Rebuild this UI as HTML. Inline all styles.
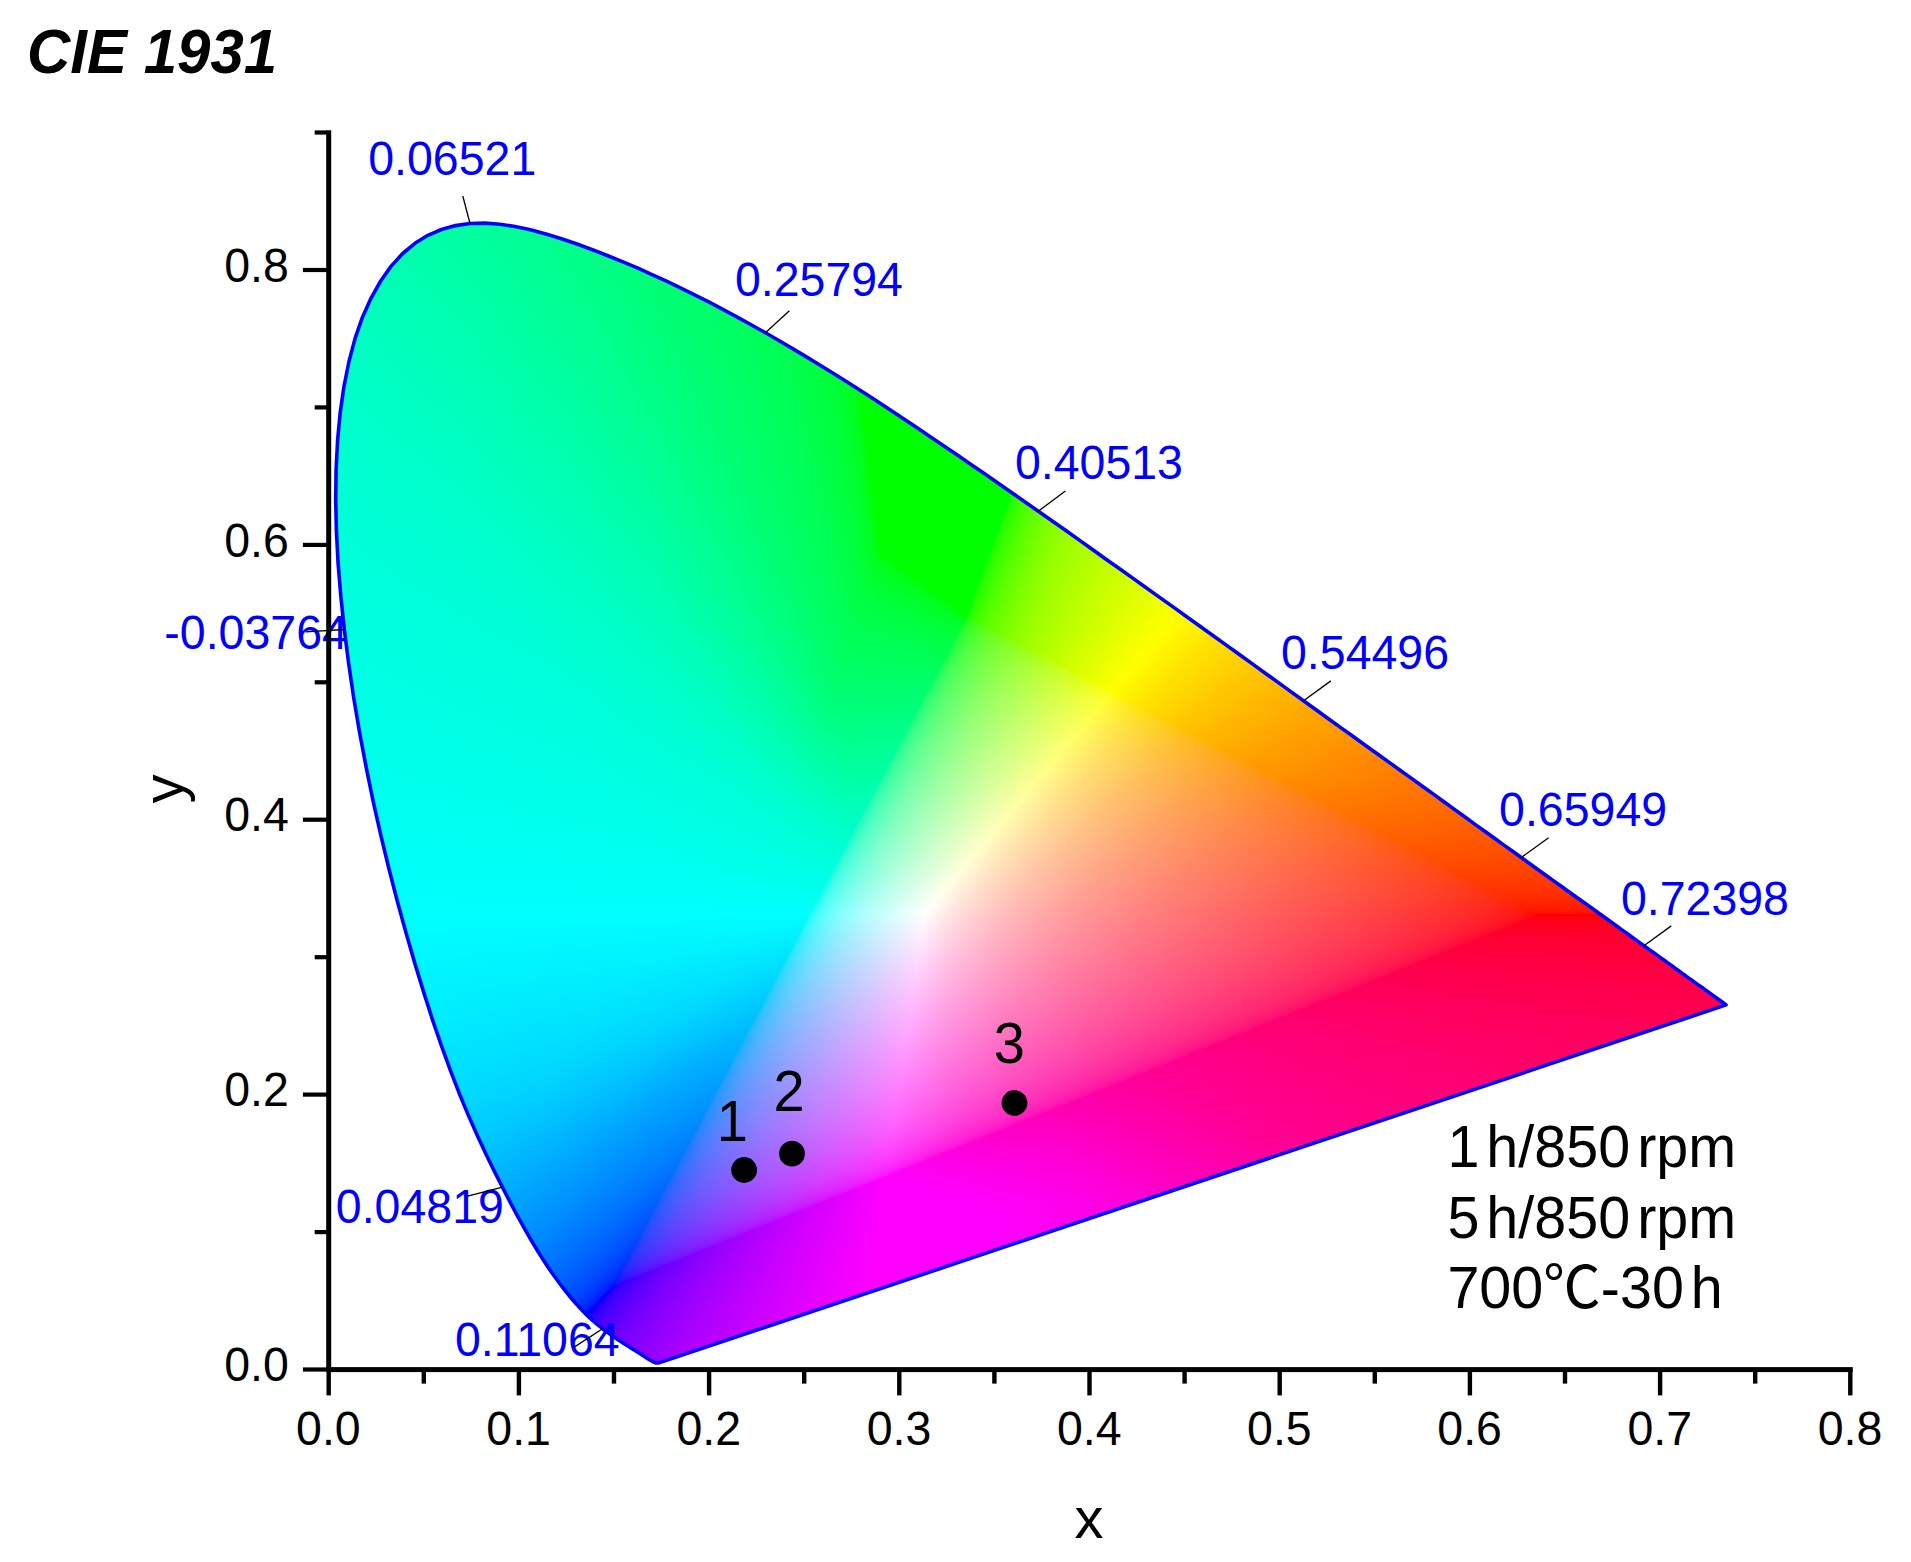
<!DOCTYPE html><html><head><meta charset="utf-8"><title>CIE 1931</title>
<style>html,body{margin:0;padding:0;background:#fff}body{width:1911px;height:1562px;position:relative;overflow:hidden;font-family:"Liberation Sans",sans-serif}
#g{position:absolute;left:0;top:0;width:1911px;height:1562px;clip-path:path("M659.8 1362.6L659.8 1362.6L659.8 1362.6L659.8 1362.6L659.7 1362.6L659.6 1362.6L659.6 1362.7L659.5 1362.7L659.4 1362.7L659.3 1362.7L659.3 1362.8L659.2 1362.8L659.1 1362.8L659.1 1362.8L659.0 1362.8L658.9 1362.8L658.8 1362.8L658.7 1362.8L658.6 1362.8L658.4 1362.9L658.3 1362.9L658.2 1362.9L658.1 1362.9L658.0 1362.9L657.9 1362.9L657.7 1362.9L657.6 1362.9L657.5 1362.9L657.3 1362.9L657.2 1362.9L657.0 1362.9L656.8 1362.9L656.6 1362.9L656.4 1362.9L656.2 1362.9L656.0 1362.9L655.8 1362.9L655.6 1362.8L655.3 1362.7L655.0 1362.6L654.7 1362.5L654.3 1362.3L653.9 1362.2L653.5 1362.0L653.1 1361.8L652.6 1361.5L652.1 1361.3L651.6 1361.0L651.1 1360.7L650.6 1360.4L649.9 1360.0L649.3 1359.6L648.6 1359.2L647.8 1358.7L647.0 1358.2L646.1 1357.7L645.3 1357.1L644.4 1356.5L643.4 1355.9L642.4 1355.2L641.4 1354.5L640.3 1353.8L639.1 1353.1L637.9 1352.3L636.5 1351.4L635.1 1350.5L633.6 1349.6L632.0 1348.6L630.2 1347.5L628.4 1346.3L626.6 1345.2L624.6 1344.0L622.6 1342.7L620.5 1341.3L618.2 1339.9L615.9 1338.3L613.4 1336.6L610.9 1334.8L608.2 1332.9L605.4 1330.8L602.6 1328.7L599.7 1326.4L596.6 1323.9L593.4 1321.2L590.0 1318.1L586.4 1314.7L582.6 1310.7L578.5 1306.4L574.1 1301.5L569.5 1296.0L564.7 1290.1L559.7 1283.5L554.4 1276.3L548.9 1268.5L543.2 1259.8L537.2 1250.2L530.9 1239.7L524.3 1228.2L517.3 1215.6L510.0 1201.9L502.4 1187.1L494.3 1171.1L485.8 1153.8L477.1 1135.1L468.3 1115.1L459.4 1093.7L450.5 1070.7L441.6 1046.2L432.7 1020.3L423.9 992.9L415.1 964.1L406.3 933.8L397.6 902.3L389.2 869.7L381.1 836.3L373.4 802.3L366.3 767.8L359.7 733.1L353.8 698.3L348.7 663.7L344.3 629.5L340.8 595.9L338.1 563.0L336.4 530.9L335.7 499.7L336.1 469.5L337.6 440.5L340.2 412.7L344.0 386.3L349.0 361.5L355.1 338.4L362.5 317.2L371.1 298.1L380.7 281.0L391.2 266.1L402.7 253.5L415.0 243.3L427.9 235.3L441.5 229.5L455.6 225.6L470.0 223.5L484.8 223.1L499.8 224.2L515.0 226.5L530.4 229.8L545.9 234.0L561.4 238.7L577.0 244.0L592.4 249.7L607.8 255.7L622.9 261.9L637.9 268.2L652.5 274.8L667.0 281.4L681.4 288.3L695.6 295.3L709.7 302.4L723.7 309.8L737.7 317.3L751.5 325.0L765.4 332.8L779.2 340.8L793.0 348.9L806.8 357.1L820.5 365.5L834.3 374.0L847.9 382.6L861.6 391.3L875.2 400.1L888.8 409.0L902.3 418.0L915.9 427.0L929.5 436.2L943.1 445.4L956.6 454.6L970.2 463.9L983.9 473.3L997.5 482.7L1011.1 492.2L1024.7 501.7L1038.3 511.2L1051.9 520.7L1065.5 530.3L1079.0 539.9L1092.5 549.5L1106.0 559.2L1119.6 568.8L1133.1 578.4L1146.5 588.0L1160.0 597.6L1173.4 607.1L1186.7 616.7L1200.0 626.2L1213.2 635.7L1226.3 645.1L1239.4 654.5L1252.4 663.9L1265.3 673.2L1278.1 682.4L1290.8 691.6L1303.5 700.7L1316.0 709.8L1328.4 718.7L1340.7 727.6L1352.9 736.3L1364.9 745.0L1376.8 753.5L1388.5 761.9L1400.1 770.2L1411.5 778.4L1422.7 786.5L1433.8 794.4L1444.6 802.2L1455.1 809.9L1465.4 817.3L1475.4 824.6L1485.1 831.5L1494.5 838.3L1503.6 844.9L1512.6 851.3L1521.3 857.5L1529.8 863.7L1538.1 869.7L1546.2 875.5L1554.0 881.1L1561.6 886.5L1568.8 891.7L1575.8 896.7L1582.5 901.5L1588.9 906.0L1595.1 910.5L1601.0 914.7L1606.6 918.8L1612.1 922.7L1617.3 926.5L1622.3 930.1L1627.0 933.5L1631.5 936.8L1635.9 940.0L1640.0 942.9L1643.9 945.8L1647.7 948.5L1651.3 951.1L1654.8 953.5L1658.1 955.9L1661.2 958.1L1664.3 960.3L1667.1 962.4L1669.9 964.4L1672.6 966.3L1675.1 968.2L1677.6 970.0L1680.0 971.7L1682.3 973.4L1684.6 975.0L1686.7 976.6L1688.8 978.1L1690.8 979.5L1692.7 980.9L1694.5 982.2L1696.2 983.4L1697.9 984.6L1699.5 985.7L1701.0 986.8L1702.5 987.8L1703.8 988.8L1705.1 989.7L1706.3 990.6L1707.5 991.4L1708.5 992.2L1709.6 992.9L1710.5 993.6L1711.4 994.3L1712.3 994.9L1713.1 995.5L1713.9 996.1L1714.7 996.6L1715.4 997.1L1716.0 997.6L1716.6 998.0L1717.2 998.4L1717.6 998.8L1718.1 999.1L1718.5 999.4L1718.9 999.7L1719.3 999.9L1719.6 1000.2L1720.0 1000.4L1720.3 1000.7L1720.7 1000.9L1721.0 1001.2L1721.3 1001.4L1721.5 1001.6L1721.8 1001.8L1722.0 1001.9L1722.3 1002.1L1722.6 1002.3L1722.8 1002.5L1723.1 1002.7L1723.4 1002.9L1723.6 1003.1L1723.9 1003.3L1724.1 1003.4L1724.4 1003.6L1724.6 1003.8L1724.8 1003.9L1725.0 1004.0L1725.1 1004.2L1725.3 1004.3L1725.4 1004.4L1725.5 1004.5L1725.6 1004.5L1725.7 1004.6L1725.8 1004.7L1725.9 1004.7L1725.9 1004.7L1726.0 1004.8L1726.0 1004.8L1726.0 1004.8L1726.1 1004.8L1726.1 1004.9Z")}
#g i{position:absolute;display:block;height:2px}
svg{position:absolute;left:0;top:0}
text{font-family:"Liberation Sans",sans-serif}
.a{font-size:46.5px}.b{font-size:46.5px;fill:#00f}.p{font-size:56px}.l{font-size:57.5px;word-spacing:-9px}.t{font-size:58px}
</style></head><body>
<div id="g">
<i style="top:222px;left:459px;width:46px;background:linear-gradient(90deg,#00ffa1 0,#00ff96 46px)"></i>
<i style="top:224px;left:449px;width:69px;background:linear-gradient(90deg,#00ffa3 0,#00ff93 69px)"></i>
<i style="top:226px;left:442px;width:85px;background:linear-gradient(90deg,#00ffa5 0,#00ff92 85px)"></i>
<i style="top:228px;left:436px;width:100px;background:linear-gradient(90deg,#00ffa6 0,#00ff90 100px)"></i>
<i style="top:230px;left:431px;width:112px;background:linear-gradient(90deg,#00ffa7 0,#00ff8e 112px)"></i>
<i style="top:232px;left:427px;width:123px;background:linear-gradient(90deg,#00ffa8 0,#00ff8d 123px)"></i>
<i style="top:234px;left:423px;width:134px;background:linear-gradient(90deg,#00ffa9 0,#00ff8e 124px,#00ff8b 134px)"></i>
<i style="top:236px;left:420px;width:143px;background:linear-gradient(90deg,#0fa 0,#00ff8e 128px,#00ff8a 143px)"></i>
<i style="top:238px;left:417px;width:152px;background:linear-gradient(90deg,#00ffab 0,#00ff8f 128px,#0f8 152px)"></i>
<i style="top:240px;left:414px;width:161px;background:linear-gradient(90deg,#00ffac 0,#00ff8e 136px,#00ff87 161px)"></i>
<i style="top:242px;left:411px;width:170px;background:linear-gradient(90deg,#00ffad 0,#00ff90 133px,#00ff86 170px)"></i>
<i style="top:244px;left:408px;width:178px;background:linear-gradient(90deg,#00ffad 0,#00ff96 113px,#00ff84 178px)"></i>
<i style="top:246px;left:406px;width:186px;background:linear-gradient(90deg,#00ffae 0,#00ff94 124px,#00ff83 186px)"></i>
<i style="top:248px;left:403px;width:194px;background:linear-gradient(90deg,#00ffaf 0,#00ff93 132px,#00ff82 194px)"></i>
<i style="top:250px;left:401px;width:201px;background:linear-gradient(90deg,#00ffaf 0,#00ff9b 103px,#00ff81 201px)"></i>
<i style="top:252px;left:399px;width:208px;background:linear-gradient(90deg,#00ffb0 0,#0f9 115px,#00ff7f 208px)"></i>
<i style="top:254px;left:397px;width:215px;background:linear-gradient(90deg,#00ffb1 0,#00ff97 126px,#00ff7e 215px)"></i>
<i style="top:256px;left:395px;width:222px;background:linear-gradient(90deg,#00ffb1 0,#0f9 121px,#00ff7d 222px)"></i>
<i style="top:258px;left:393px;width:229px;background:linear-gradient(90deg,#00ffb2 0,#00ff98 128px,#00ff7c 229px)"></i>
<i style="top:260px;left:392px;width:235px;background:linear-gradient(90deg,#00ffb2 0,#00ff9d 110px,#00ff7b 235px)"></i>
<i style="top:262px;left:390px;width:242px;background:linear-gradient(90deg,#00ffb3 0,#00ff9a 126px,#00ff79 242px)"></i>
<i style="top:264px;left:388px;width:248px;background:linear-gradient(90deg,#00ffb3 0,#00ff9e 112px,#00ff7a 244px,#00ff78 248px)"></i>
<i style="top:266px;left:387px;width:254px;background:linear-gradient(90deg,#00ffb4 0,#00ff9c 123px,#0f7 254px)"></i>
<i style="top:268px;left:385px;width:260px;background:linear-gradient(90deg,#00ffb5 0,#00ff9c 126px,#00ff76 260px)"></i>
<i style="top:270px;left:384px;width:266px;background:linear-gradient(90deg,#00ffb5 0,#00ff9c 128px,#00ff76 264px,#00ff75 266px)"></i>
<i style="top:272px;left:382px;width:272px;background:linear-gradient(90deg,#00ffb6 0,#0f9 144px,#00ff74 272px)"></i>
<i style="top:274px;left:381px;width:278px;background:linear-gradient(90deg,#00ffb6 0,#00ff9f 121px,#00ff7a 256px,#00ff73 278px)"></i>
<i style="top:276px;left:380px;width:283px;background:linear-gradient(90deg,#00ffb6 0,#00ffa3 106px,#00ff81 235px,#00ff72 283px)"></i>
<i style="top:278px;left:378px;width:290px;background:linear-gradient(90deg,#00ffb7 0,#00ffa1 118px,#00ff80 241px,#00ff71 290px)"></i>
<i style="top:280px;left:377px;width:295px;background:linear-gradient(90deg,#00ffb7 0,#00ffa2 116px,#00ff80 243px,#00ff70 295px)"></i>
<i style="top:282px;left:376px;width:300px;background:linear-gradient(90deg,#00ffb8 0,#00ffa2 118px,#00ff82 238px,#00ff6f 300px)"></i>
<i style="top:284px;left:375px;width:305px;background:linear-gradient(90deg,#00ffb8 0,#00ffa2 121px,#00ff82 240px,#00ff6e 305px)"></i>
<i style="top:286px;left:374px;width:310px;background:linear-gradient(90deg,#00ffb9 0,#00ff9f 136px,#00ff7b 265px,#00ff6d 310px)"></i>
<i style="top:288px;left:373px;width:315px;background:linear-gradient(90deg,#00ffb9 0,#00ffa3 121px,#00ff82 244px,#00ff6c 315px)"></i>
<i style="top:290px;left:371px;width:322px;background:linear-gradient(90deg,#00ffba 0,#00ffa1 133px,#00ff83 244px,#00ff6b 322px)"></i>
<i style="top:292px;left:370px;width:327px;background:linear-gradient(90deg,#00ffba 0,#00ffa5 118px,#00ff83 246px,#00ff6a 327px)"></i>
<i style="top:294px;left:369px;width:332px;background:linear-gradient(90deg,#00ffba 0,#00ffa8 106px,#00ff8b 221px,#00ff69 332px)"></i>
<i style="top:296px;left:368px;width:336px;background:linear-gradient(90deg,#0fb 0,#00ffa5 123px,#00ff84 247px,#00ff68 336px)"></i>
<i style="top:298px;left:367px;width:341px;background:linear-gradient(90deg,#0fb 0,#00ffa8 111px,#00ff87 239px,#00ff67 341px)"></i>
<i style="top:300px;left:366px;width:346px;background:linear-gradient(90deg,#00ffbc 0,#00ffa6 123px,#00ff84 251px,#0f6 346px)"></i>
<i style="top:302px;left:365px;width:351px;background:linear-gradient(90deg,#00ffbc 0,#00ffa9 111px,#00ff8c 226px,#00ff65 351px)"></i>
<i style="top:304px;left:365px;width:355px;background:linear-gradient(90deg,#00ffbc 0,#00ffa9 113px,#0f8 241px,#00ff64 355px)"></i>
<i style="top:306px;left:364px;width:360px;background:linear-gradient(90deg,#00ffbd 0,#00ffa6 129px,#00ff8a 236px,#00ff63 360px)"></i>
<i style="top:308px;left:363px;width:365px;background:linear-gradient(90deg,#00ffbd 0,#00ffa9 118px,#00ff89 242px,#00ff62 365px)"></i>
<i style="top:310px;left:362px;width:369px;background:linear-gradient(90deg,#00ffbe 0,#00ffa7 130px,#00ff87 250px,#00ff62 369px)"></i>
<i style="top:312px;left:361px;width:374px;background:linear-gradient(90deg,#00ffbe 0,#00ffa9 123px,#00ff8b 239px,#00ff61 374px)"></i>
<i style="top:314px;left:360px;width:379px;background:linear-gradient(90deg,#00ffbe 0,#00ffac 111px,#00ff8e 231px,#00ff60 379px)"></i>
<i style="top:316px;left:360px;width:382px;background:linear-gradient(90deg,#00ffbf 0,#00ffa9 127px,#00ff8b 242px,#00ff5f 382px)"></i>
<i style="top:318px;left:359px;width:387px;background:linear-gradient(90deg,#00ffbf 0,#0fa 124px,#00ff8f 231px,#00ff5e 387px)"></i>
<i style="top:320px;left:358px;width:392px;background:linear-gradient(90deg,#00ffbf 0,#00ffac 117px,#00ff8f 233px,#00ff5c 392px)"></i>
<i style="top:322px;left:357px;width:396px;background:linear-gradient(90deg,#00ffc0 0,#0fa 129px,#00ff8c 245px,#00ff5c 396px)"></i>
<i style="top:324px;left:357px;width:400px;background:linear-gradient(90deg,#00ffc0 0,#00ffac 121px,#00ff8f 236px,#00ff5a 400px)"></i>
<i style="top:326px;left:356px;width:404px;background:linear-gradient(90deg,#00ffc0 0,#00ffae 114px,#00ff8e 242px,#00ff59 404px)"></i>
<i style="top:328px;left:355px;width:409px;background:linear-gradient(90deg,#00ffc1 0,#00ffac 126px,#00ff90 237px,#00ff58 409px)"></i>
<i style="top:330px;left:355px;width:412px;background:linear-gradient(90deg,#00ffc1 0,#00ffac 128px,#00ff91 235px,#00ff57 412px)"></i>
<i style="top:332px;left:354px;width:417px;background:linear-gradient(90deg,#00ffc1 0,#00ffb1 106px,#00ff92 234px,#00ff56 417px)"></i>
<i style="top:334px;left:353px;width:421px;background:linear-gradient(90deg,#00ffc2 0,#00ffac 133px,#00ff8e 249px,#00ff57 416px,#00ff54 421px)"></i>
<i style="top:336px;left:353px;width:425px;background:linear-gradient(90deg,#00ffc2 0,#00ffae 125px,#00ff91 240px,#00ff56 419px,#00ff53 425px)"></i>
<i style="top:338px;left:352px;width:429px;background:linear-gradient(90deg,#00ffc3 0,#00ffae 127px,#00ff91 243px,#00ff56 420px,#00ff52 429px)"></i>
<i style="top:340px;left:351px;width:434px;background:linear-gradient(90deg,#00ffc3 0,#00ffaf 125px,#00ff91 245px,#00ff57 419px,#00ff50 434px)"></i>
<i style="top:342px;left:351px;width:437px;background:linear-gradient(90deg,#00ffc3 0,#00ffb2 111px,#0f9 218px,#00ff70 345px,#00ff56 422px,#00ff4f 437px)"></i>
<i style="top:344px;left:350px;width:441px;background:linear-gradient(90deg,#00ffc4 0,#00ffae 134px,#00ff93 241px,#00ff58 419px,#00ff4e 441px)"></i>
<i style="top:346px;left:350px;width:445px;background:linear-gradient(90deg,#00ffc4 0,#00ffb0 126px,#00ff92 246px,#00ff57 422px,#00ff4c 445px)"></i>
<i style="top:348px;left:349px;width:449px;background:linear-gradient(90deg,#00ffc4 0,#00ffb0 128px,#00ff92 248px,#0f5 428px,#00ff4a 449px)"></i>
<i style="top:350px;left:349px;width:453px;background:linear-gradient(90deg,#00ffc4 0,#00ffb4 109px,#00ff98 229px,#00ff59 419px,#00ff48 453px)"></i>
<i style="top:352px;left:348px;width:457px;background:linear-gradient(90deg,#00ffc5 0,#00ffb0 132px,#00ff93 248px,#00ff58 423px,#00ff47 457px)"></i>
<i style="top:354px;left:348px;width:460px;background:linear-gradient(90deg,#00ffc5 0,#00ffb3 119px,#00ff95 243px,#00ff57 426px,#00ff45 460px)"></i>
<i style="top:356px;left:347px;width:465px;background:linear-gradient(90deg,#00ffc5 0,#00ffb5 111px,#0f9 231px,#00ff56 430px,#00ff43 465px)"></i>
<i style="top:358px;left:347px;width:468px;background:linear-gradient(90deg,#00ffc6 0,#00ffb1 133px,#00ff93 253px,#00ff58 426px,#00ff43 465px,#00ff41 468px)"></i>
<i style="top:360px;left:346px;width:472px;background:linear-gradient(90deg,#00ffc6 0,#00ffb3 126px,#00ff98 238px,#00ff56 432px,#00ff40 471px,#00ff3f 472px)"></i>
<i style="top:362px;left:346px;width:475px;background:linear-gradient(90deg,#00ffc6 0,#00ffb5 117px,#00ff9b 229px,#00ff59 425px,#0f4 466px,#00ff3d 475px)"></i>
<i style="top:364px;left:345px;width:480px;background:linear-gradient(90deg,#00ffc7 0,#00ffb3 130px,#00ff98 241px,#00ff57 432px,#00ff40 473px,#00ff3a 480px)"></i>
<i style="top:366px;left:345px;width:483px;background:linear-gradient(90deg,#00ffc7 0,#00ffb4 127px,#00ff98 243px,#00ff57 432px,#00ff41 472px,#00ff38 483px)"></i>
<i style="top:368px;left:344px;width:487px;background:linear-gradient(90deg,#00ffc7 0,#00ffb7 113px,#00ffa0 216px,#00ff7d 326px,#00ff56 436px,#00ff40 475px,#00ff36 487px)"></i>
<i style="top:370px;left:344px;width:490px;background:linear-gradient(90deg,#00ffc8 0,#00ffb3 136px,#00ff9a 239px,#00ff6f 366px,#0f5 439px,#00ff40 475px,#0f3 490px)"></i>
<i style="top:372px;left:344px;width:494px;background:linear-gradient(90deg,#00ffc8 0,#00ffb5 127px,#00ff9e 226px,#0f7 345px,#0f5 439px,#00ff3f 477px,#00ff2f 494px)"></i>
<i style="top:374px;left:343px;width:498px;background:linear-gradient(90deg,#00ffc8 0,#00ffb7 119px,#00ff9e 229px,#00ff73 358px,#00ff56 439px,#00ff3f 478px,#00ff2c 498px)"></i>
<i style="top:376px;left:343px;width:501px;background:linear-gradient(90deg,#00ffc8 0,#00ffb7 121px,#00ff9b 241px,#00ff5a 430px,#00ff43 473px,#00ff2f 496px,#00ff28 501px)"></i>
<i style="top:378px;left:343px;width:504px;background:linear-gradient(90deg,#00ffc9 0,#00ffb5 133px,#0f9 249px,#00ff57 437px,#00ff42 475px,#00ff2c 499px,#00ff24 504px)"></i>
<i style="top:380px;left:342px;width:508px;background:linear-gradient(90deg,#00ffc9 0,#00ffb7 126px,#00ff9d 237px,#00ff78 347px,#00ff56 441px,#00ff42 476px,#00ff30 497px,#00ff20 508px)"></i>
<i style="top:382px;left:342px;width:511px;background:linear-gradient(90deg,#00ffc9 0,#00ffb8 122px,#00ff9d 238px,#00ff78 348px,#0f5 444px,#00ff40 479px,#00ff2e 499px,#00ff1c 510px,#00ff1a 511px)"></i>
<i style="top:384px;left:341px;width:516px;background:linear-gradient(90deg,#00ffca 0,#00ffb7 130px,#00ff9e 237px,#00ff79 348px,#00ff57 441px,#00ff42 478px,#00ff2d 501px,#00ff1d 511px,#0f1 515px,#00ff0c 516px)"></i>
<i style="top:386px;left:341px;width:519px;background:linear-gradient(90deg,#00ffca 0,#00ffb8 126px,#00ff9d 242px,#00ff74 362px,#0f5 446px,#00ff40 481px,#00ff2c 502px,#00ff1b 512px,#00ff0d 516px,#00ff04 517px,#0f0 518px,#0f0 519px)"></i>
<i style="top:388px;left:341px;width:522px;background:linear-gradient(90deg,#00ffca 0,#00ffb8 128px,#00ff9e 240px,#00ff75 360px,#0f5 446px,#00ff3f 483px,#00ff2a 504px,#00ff19 513px,#00ff0f 516px,#0f0 518px,#0f0 522px)"></i>
<i style="top:390px;left:340px;width:526px;background:linear-gradient(90deg,#00ffca 0,#00ffba 120px,#00ffa1 231px,#00ff7c 343px,#00ff56 446px,#00ff40 483px,#00ff29 506px,#00ff17 515px,#00ff10 517px,#00ff0a 518px,#0f0 519px,#0f0 526px)"></i>
<i style="top:392px;left:340px;width:529px;background:linear-gradient(90deg,#00ffcb 0,#00ffb9 127px,#00ffa0 236px,#00ff7b 347px,#00ff57 444px,#00ff43 479px,#00ff31 500px,#00ff1f 512px,#0f1 517px,#00ff0c 518px,#0f0 519px,#0f0 529px)"></i>
<i style="top:394px;left:340px;width:532px;background:linear-gradient(90deg,#00ffcb 0,#00ffb9 129px,#00ff9e 245px,#00ff7b 348px,#00ff56 447px,#00ff41 482px,#00ff2f 502px,#00ff1d 513px,#00ff12 517px,#00ff0d 518px,#00ff04 519px,#0f0 520px,#0f0 532px)"></i>
<i style="top:396px;left:340px;width:535px;background:linear-gradient(90deg,#00ffcb 0,#0fb 119px,#00ffa3 228px,#00ff84 325px,#00ff56 447px,#00ff41 483px,#00ff2a 506px,#00ff19 515px,#00ff0f 518px,#0f0 520px,#0f0 535px)"></i>
<i style="top:398px;left:339px;width:539px;background:linear-gradient(90deg,#00ffcb 0,#00ffbd 111px,#00ffa3 231px,#00ff7e 343px,#0f5 451px,#00ff3f 487px,#00ff2c 506px,#00ff1c 515px,#00ff10 519px,#00ff0a 520px,#0f0 521px,#0f0 539px)"></i>
<i style="top:400px;left:339px;width:542px;background:linear-gradient(90deg,#0fc 0,#00ffba 130px,#00ff9f 246px,#00ff7f 341px,#00ff56 449px,#00ff40 486px,#00ff2b 507px,#00ff1b 516px,#00ff0c 520px,#0f0 521px,#0f0 542px)"></i>
<i style="top:402px;left:339px;width:545px;background:linear-gradient(90deg,#0fc 0,#0fb 126px,#00ffa3 233px,#00ff80 339px,#00ff57 448px,#00ff41 485px,#00ff2e 505px,#00ff1e 515px,#00ff12 519px,#00ff0d 520px,#00ff04 521px,#0f0 522px,#0f0 545px)"></i>
<i style="top:404px;left:338px;width:549px;background:linear-gradient(90deg,#0fc 0,#00ffbe 111px,#00ffa7 221px,#00ff86 325px,#00ff56 451px,#00ff41 486px,#00ff2f 505px,#00ff20 515px,#00ff13 520px,#00ff08 522px,#0f0 523px,#0f0 549px)"></i>
<i style="top:406px;left:338px;width:552px;background:linear-gradient(90deg,#00ffcd 0,#00ffb9 141px,#00ffa1 244px,#00ff7f 345px,#00ff57 450px,#00ff42 485px,#00ff30 505px,#00ff1d 517px,#00ff10 521px,#00ff0a 522px,#0f0 523px,#0f0 552px)"></i>
<i style="top:408px;left:338px;width:555px;background:linear-gradient(90deg,#00ffcd 0,#00ffbc 127px,#00ffa4 235px,#00ff85 330px,#00ff56 453px,#00ff40 488px,#00ff2e 507px,#00ff1d 517px,#0f1 521px,#00ff0c 522px,#0f0 523px,#0f0 555px)"></i>
<i style="top:410px;left:338px;width:559px;background:linear-gradient(90deg,#00ffcd 0,#00ffbc 128px,#00ffa3 240px,#00ff80 344px,#00ff57 451px,#00ff42 486px,#00ff30 505px,#0f2 515px,#00ff16 520px,#00ff0e 522px,#00ff04 523px,#0f0 524px,#0f0 559px)"></i>
<i style="top:412px;left:338px;width:562px;background:linear-gradient(90deg,#00ffcd 0,#00ffbe 119px,#00ffa7 226px,#00ff8c 313px,#0f5 456px,#00ff3e 492px,#00ff29 511px,#00ff17 520px,#00ff0f 522px,#0f0 524px,#0f0 562px)"></i>
<i style="top:414px;left:337px;width:566px;background:linear-gradient(90deg,#00ffce 0,#00ffbd 127px,#00ffa5 236px,#00ff86 331px,#0f5 457px,#00ff3f 492px,#00ff2e 509px,#00ff1d 519px,#00ff10 523px,#00ff0a 524px,#0f0 525px,#0f0 566px)"></i>
<i style="top:416px;left:337px;width:569px;background:linear-gradient(90deg,#00ffce 0,#00ffbd 129px,#00ffa5 238px,#00ff82 343px,#00ff56 456px,#00ff40 491px,#00ff2d 510px,#00ff1d 519px,#0f1 523px,#00ff0c 524px,#0f0 525px,#0f0 569px)"></i>
<i style="top:418px;left:337px;width:572px;background:linear-gradient(90deg,#00ffce 0,#00ffbf 119px,#00ffa7 232px,#0f8 328px,#00ff56 456px,#00ff43 487px,#00ff30 508px,#00ff1e 519px,#00ff12 523px,#00ff0e 524px,#00ff04 525px,#0f0 526px,#0f0 572px)"></i>
<i style="top:420px;left:337px;width:575px;background:linear-gradient(90deg,#00ffce 0,#00ffbf 121px,#00ffa6 237px,#00ff87 332px,#00ff56 457px,#00ff3f 493px,#00ff2f 509px,#00ff1f 519px,#00ff13 523px,#00ff08 525px,#0f0 526px,#0f0 575px)"></i>
<i style="top:422px;left:336px;width:579px;background:linear-gradient(90deg,#00ffcf 0,#00ffbd 136px,#00ffa6 239px,#00ff87 334px,#0f5 460px,#00ff40 493px,#00ff2d 512px,#00ff1b 522px,#00ff10 525px,#00ff0a 526px,#0f0 527px,#0f0 579px)"></i>
<i style="top:424px;left:336px;width:582px;background:linear-gradient(90deg,#00ffcf 0,#00ffbf 126px,#00ffa8 233px,#00ff89 330px,#00ff57 457px,#00ff41 492px,#00ff2c 513px,#00ff1b 522px,#00ff0c 526px,#0f0 527px,#0f0 582px)"></i>
<i style="top:426px;left:336px;width:585px;background:linear-gradient(90deg,#00ffcf 0,#00ffbf 128px,#0fa 227px,#00ff8c 323px,#00ff56 459px,#00ff40 494px,#00ff2f 511px,#00ff1e 521px,#00ff13 525px,#00ff0e 526px,#00ff04 527px,#0f0 528px,#0f0 585px)"></i>
<i style="top:428px;left:336px;width:588px;background:linear-gradient(90deg,#00ffcf 0,#00ffc2 111px,#00ffad 217px,#00ff90 313px,#00ff57 458px,#00ff41 493px,#00ff2e 512px,#00ff1d 522px,#00ff0f 526px,#0f0 528px,#0f0 588px)"></i>
<i style="top:430px;left:336px;width:591px;background:linear-gradient(90deg,#00ffd0 0,#00ffbe 137px,#00ffa5 249px,#00ff84 346px,#0f5 462px,#00ff42 492px,#00ff2d 513px,#00ff1d 522px,#00ff15 525px,#00ff0a 527px,#0f0 528px,#0f0 591px)"></i>
<i style="top:432px;left:336px;width:594px;background:linear-gradient(90deg,#00ffd0 0,#00ffbf 133px,#0fa 232px,#00ff8b 329px,#0f5 463px,#00ff3e 497px,#00ff2f 512px,#00ff1e 522px,#00ff12 526px,#00ff0c 527px,#0f0 528px,#0f0 594px)"></i>
<i style="top:434px;left:335px;width:597px;background:linear-gradient(90deg,#00ffd0 0,#00ffc2 118px,#00ffab 230px,#00ff90 317px,#00ff58 458px,#0f4 491px,#0f3 510px,#00ff21 522px,#00ff13 527px,#00ff0e 528px,#00ff04 529px,#0f0 530px,#0f0 597px)"></i>
<i style="top:436px;left:335px;width:600px;background:linear-gradient(90deg,#00ffd0 0,#00ffc2 120px,#0fa 236px,#00ff8b 332px,#00ff57 461px,#00ff40 497px,#00ff2a 517px,#00ff1a 525px,#00ff0f 528px,#0f0 530px,#0f0 600px)"></i>
<i style="top:438px;left:335px;width:603px;background:linear-gradient(90deg,#00ffd1 0,#00ffc0 134px,#00ffab 233px,#00ff8e 325px,#00ff56 463px,#00ff41 496px,#00ff2f 514px,#00ff20 523px,#0f1 528px,#0f0 530px,#0f0 603px)"></i>
<i style="top:440px;left:335px;width:606px;background:linear-gradient(90deg,#00ffd1 0,#00ffc0 136px,#00ffab 235px,#00ff8c 331px,#00ff58 460px,#00ff42 495px,#00ff2e 515px,#00ff1c 525px,#00ff12 528px,#00ff0c 529px,#0f0 530px,#0f0 606px)"></i>
<i style="top:442px;left:335px;width:609px;background:linear-gradient(90deg,#00ffd1 0,#00ffc2 126px,#00ffad 228px,#00ff92 316px,#00ff57 463px,#00ff40 498px,#00ff2a 518px,#00ff1a 526px,#00ff0e 529px,#00ff04 530px,#0f0 531px,#0f0 609px)"></i>
<i style="top:444px;left:335px;width:612px;background:linear-gradient(90deg,#00ffd1 0,#00ffc2 128px,#00ffac 234px,#00ff90 323px,#0f5 467px,#00ff40 498px,#00ff30 514px,#00ff1f 524px,#00ff14 528px,#00ff08 530px,#0f0 531px,#0f0 612px)"></i>
<i style="top:446px;left:335px;width:615px;background:linear-gradient(90deg,#00ffd1 0,#00ffc5 111px,#00ffad 232px,#00ff8f 327px,#00ff57 464px,#00ff42 496px,#00ff2e 516px,#00ff1b 526px,#0f1 529px,#0f0 531px,#0f0 615px)"></i>
<i style="top:448px;left:334px;width:619px;background:linear-gradient(90deg,#00ffd2 0,#00ffc3 127px,#00ffaf 226px,#00ff93 318px,#00ff59 461px,#0f4 495px,#00ff31 515px,#00ff21 525px,#00ff12 530px,#00ff0c 531px,#0f0 532px,#0f0 619px)"></i>
<i style="top:450px;left:334px;width:622px;background:linear-gradient(90deg,#00ffd2 0,#00ffc3 129px,#00ffae 232px,#00ff93 319px,#00ff58 464px,#00ff41 499px,#00ff30 516px,#00ff1d 527px,#00ff0e 531px,#00ff04 532px,#0f0 533px,#0f0 622px)"></i>
<i style="top:452px;left:334px;width:625px;background:linear-gradient(90deg,#00ffd2 0,#00ffc6 111px,#00ffb2 217px,#00ff97 309px,#00ff59 462px,#00ff46 493px,#0f3 514px,#00ff20 526px,#00ff14 530px,#00ff08 532px,#0f0 533px,#0f0 625px)"></i>
<i style="top:454px;left:334px;width:628px;background:linear-gradient(90deg,#00ffd2 0,#00ffc5 120px,#00ffb0 227px,#00ff93 321px,#00ff56 469px,#00ff40 501px,#00ff2e 518px,#00ff1e 527px,#0f1 531px,#00ff0b 532px,#0f0 533px,#0f0 628px)"></i>
<i style="top:456px;left:334px;width:631px;background:linear-gradient(90deg,#00ffd3 0,#00ffc3 135px,#00ffac 244px,#00ff8d 338px,#00ff58 465px,#00ff43 498px,#00ff30 517px,#00ff1f 527px,#00ff12 531px,#00ff0c 532px,#0f0 533px,#0f0 631px)"></i>
<i style="top:458px;left:334px;width:634px;background:linear-gradient(90deg,#00ffd3 0,#00ffc3 137px,#00ffab 249px,#00ff8c 342px,#00ff56 470px,#00ff40 502px,#00ff2c 520px,#00ff1a 529px,#00ff0e 532px,#00ff04 533px,#0f0 534px,#0f0 634px)"></i>
<i style="top:460px;left:334px;width:637px;background:linear-gradient(90deg,#00ffd3 0,#00ffc6 119px,#00ffb1 228px,#00ff94 322px,#00ff57 468px,#00ff42 500px,#00ff32 516px,#00ff20 527px,#00ff14 531px,#00ff10 532px,#0f0 534px,#0f0 637px)"></i>
<i style="top:462px;left:334px;width:640px;background:linear-gradient(90deg,#00ffd3 0,#00ffc5 128px,#00ffb0 233px,#00ff98 312px,#00ff59 465px,#0f4 498px,#00ff30 518px,#00ff20 527px,#00ff15 531px,#00ff0b 533px,#0f0 534px,#0f0 640px)"></i>
<i style="top:464px;left:334px;width:643px;background:linear-gradient(90deg,#00ffd3 0,#00ffc9 103px,#00ffb6 210px,#00ff9c 302px,#0f7 395px,#0f5 473px,#00ff40 503px,#00ff2c 521px,#00ff1c 529px,#00ff0d 533px,#0f0 534px,#0f0 643px)"></i>
<i style="top:466px;left:334px;width:645px;background:linear-gradient(90deg,#00ffd4 0,#00ffc6 126px,#00ffb1 232px,#00ff96 320px,#00ff57 470px,#00ff42 501px,#00ff32 517px,#0f2 527px,#00ff13 532px,#00ff0e 533px,#00ff04 534px,#0f0 535px,#0f0 645px)"></i>
<i style="top:468px;left:334px;width:648px;background:linear-gradient(90deg,#00ffd4 0,#00ffc6 128px,#00ffb1 234px,#0f9 313px,#00ff58 469px,#00ff43 500px,#00ff30 519px,#00ff1e 529px,#00ff10 533px,#0f0 535px,#0f0 648px)"></i>
<i style="top:470px;left:334px;width:651px;background:linear-gradient(90deg,#00ffd4 0,#00ffc6 130px,#00ffb1 236px,#00ff96 323px,#0f5 475px,#00ff40 504px,#00ff2c 522px,#00ff1c 530px,#0f1 533px,#00ff0b 534px,#0f0 535px,#0f0 651px)"></i>
<i style="top:472px;left:333px;width:655px;background:linear-gradient(90deg,#00ffd4 0,#00ffc8 119px,#00ffb5 222px,#00ff9a 314px,#00ff5b 465px,#00ff45 500px,#00ff32 519px,#00ff21 529px,#00ff16 533px,#00ff0d 535px,#0f0 536px,#0f0 655px)"></i>
<i style="top:474px;left:333px;width:658px;background:linear-gradient(90deg,#00ffd5 0,#00ffc6 135px,#00ffaf 247px,#00ff96 326px,#00ff59 469px,#00ff42 504px,#00ff2d 523px,#00ff1d 531px,#00ff0e 535px,#00ff04 536px,#0f0 537px,#0f0 658px)"></i>
<i style="top:476px;left:333px;width:661px;background:linear-gradient(90deg,#00ffd5 0,#00ffc6 137px,#00ffaf 249px,#00ff92 338px,#00ff57 474px,#00ff42 504px,#00ff30 521px,#00ff20 530px,#00ff15 534px,#00ff08 536px,#0f0 537px,#0f0 661px)"></i>
<i style="top:478px;left:333px;width:664px;background:linear-gradient(90deg,#00ffd5 0,#00ffca 111px,#00ffb5 227px,#00ff9a 318px,#00ff58 472px,#00ff43 503px,#00ff32 520px,#00ff1f 531px,#0f1 535px,#00ff0b 536px,#0f0 537px,#0f0 664px)"></i>
<i style="top:480px;left:333px;width:667px;background:linear-gradient(90deg,#00ffd5 0,#00ffc8 128px,#00ffb3 237px,#00ff9b 316px,#00ff76 405px,#00ff56 476px,#00ff41 506px,#00ff2e 523px,#00ff1d 532px,#00ff12 535px,#00ff0d 536px,#0f0 537px,#0f0 667px)"></i>
<i style="top:482px;left:333px;width:670px;background:linear-gradient(90deg,#00ffd5 0,#00ffc9 123px,#00ffb6 226px,#00ff9b 318px,#00ff59 472px,#00ff40 508px,#00ff2d 524px,#00ff1b 533px,#00ff14 535px,#00ff0e 536px,#00ff04 537px,#0f0 538px,#0f0 670px)"></i>
<i style="top:484px;left:333px;width:672px;background:linear-gradient(90deg,#00ffd6 0,#00ffc8 132px,#00ffb2 244px,#00ff96 332px,#00ff57 476px,#00ff41 507px,#00ff2f 523px,#00ff1e 532px,#00ff10 536px,#0f0 538px,#0f0 672px)"></i>
<i style="top:486px;left:333px;width:675px;background:linear-gradient(90deg,#00ffd6 0,#00ffc9 127px,#00ffb6 229px,#00ff9c 317px,#0f6 445px,#00ff51 486px,#00ff3d 511px,#00ff2e 524px,#00ff1c 533px,#0f1 536px,#00ff0b 537px,#0f0 538px,#0f0 675px)"></i>
<i style="top:488px;left:333px;width:678px;background:linear-gradient(90deg,#00ffd6 0,#00ffc8 136px,#00ffb4 239px,#0f9 327px,#00ff56 479px,#00ff3e 511px,#00ff2a 527px,#00ff1a 534px,#00ff13 536px,#00ff0d 537px,#0f0 538px,#0f0 678px)"></i>
<i style="top:490px;left:333px;width:681px;background:linear-gradient(90deg,#00ffd6 0,#00ffca 125px,#00ffb5 237px,#00ff9a 325px,#00ff5e 464px,#00ff48 500px,#00ff32 522px,#0f2 531px,#00ff18 535px,#00ff0f 537px,#00ff04 538px,#0f0 539px,#0f0 679px,#1f0 680px,#18ff00 681px)"></i>
<i style="top:492px;left:333px;width:684px;background:linear-gradient(90deg,#00ffd6 0,#00ffcb 120px,#00ffb8 226px,#00ff9f 313px,#00ff7a 401px,#00ff57 478px,#00ff42 507px,#00ff31 523px,#00ff21 532px,#00ff15 536px,#00ff08 538px,#0f0 539px,#0f0 678px,#0eff00 679px,#1cff00 681px,#29ff00 684px)"></i>
<i style="top:494px;left:333px;width:687px;background:linear-gradient(90deg,#00ffd7 0,#00ffc9 136px,#00ffb4 244px,#0f9 330px,#00ff5c 469px,#00ff47 502px,#00ff34 521px,#00ff24 531px,#00ff16 536px,#00ff0b 538px,#0f0 539px,#0f0 677px,#15ff00 679px,#28ff00 683px,#34ff00 687px)"></i>
<i style="top:496px;left:333px;width:690px;background:linear-gradient(90deg,#00ffd7 0,#00ffca 131px,#00ffb7 234px,#00ff9e 318px,#00ff7c 399px,#00ff56 481px,#00ff41 509px,#00ff2f 525px,#00ff1d 534px,#00ff13 537px,#00ff0d 538px,#0f0 539px,#0f0 677px,#12ff00 678px,#23ff00 681px,#3cff00 689px,#3eff00 690px)"></i>
<i style="top:498px;left:333px;width:693px;background:linear-gradient(90deg,#00ffd7 0,#00ffcb 126px,#00ffb7 235px,#00ff9e 319px,#00ff7c 400px,#00ff57 479px,#0f4 506px,#00ff35 521px,#00ff23 532px,#00ff14 537px,#00ff0f 538px,#00ff04 539px,#0f0 540px,#0f0 676px,#10ff00 677px,#1dff00 679px,#30ff00 684px,#47ff00 693px)"></i>
<i style="top:500px;left:333px;width:695px;background:linear-gradient(90deg,#00ffd7 0,#00ffcb 129px,#00ffb6 241px,#00ff9b 329px,#00ff5a 475px,#00ff43 508px,#00ff30 525px,#00ff1c 535px,#00ff10 538px,#0f0 540px,#0f0 675px,#16ff00 677px,#25ff00 680px,#3dff00 688px,#4dff00 695px)"></i>
<i style="top:502px;left:333px;width:698px;background:linear-gradient(90deg,#00ffd7 0,#0fc 123px,#00ffb7 239px,#00ff9e 322px,#00ff78 410px,#0f5 484px,#00ff41 510px,#00ff2f 526px,#00ff1d 535px,#00ff12 538px,#00ff0b 539px,#0f0 540px,#0f0 674px,#07ff00 675px,#14ff00 676px,#24ff00 679px,#3fff00 688px,#5f0 698px)"></i>
<i style="top:504px;left:333px;width:701px;background:linear-gradient(90deg,#00ffd8 0,#00ffcb 133px,#00ffb9 232px,#00ff9f 321px,#00ff7e 398px,#00ff57 481px,#00ff41 511px,#00ff2c 528px,#00ff1b 536px,#00ff0d 539px,#0f0 540px,#0f0 674px,#1f0 675px,#1eff00 677px,#3f0 683px,#4eff00 694px,#5dff00 701px)"></i>
<i style="top:506px;left:333px;width:704px;background:linear-gradient(90deg,#00ffd8 0,#00ffcb 135px,#00ffb9 234px,#00ff9f 322px,#00ff7f 397px,#00ff54 487px,#00ff3e 514px,#00ff2e 527px,#00ff1e 535px,#00ff0f 539px,#00ff04 540px,#0f0 541px,#0f0 673px,#0eff00 674px,#1dff00 676px,#32ff00 682px,#50ff00 694px,#64ff00 704px)"></i>
<i style="top:508px;left:333px;width:707px;background:linear-gradient(90deg,#00ffd8 0,#00ffcb 137px,#00ffb9 235px,#00ff9f 323px,#00ff7f 398px,#0f5 485px,#00ff40 513px,#00ff2d 528px,#00ff1f 535px,#00ff10 539px,#0f0 541px,#0f0 672px,#15ff00 674px,#28ff00 678px,#3fff00 686px,#69ff00 706px,#6aff00 707px)"></i>
<i style="top:510px;left:333px;width:710px;background:linear-gradient(90deg,#00ffd8 0,#00ffcd 125px,#00ffb9 237px,#00ffa2 316px,#00ff82 393px,#00ff56 484px,#00ff41 512px,#00ff2f 527px,#00ff1d 536px,#00ff12 539px,#00ff0b 540px,#0f0 541px,#0f0 672px,#13ff00 673px,#1fff00 675px,#34ff00 681px,#5f0 695px,#71ff00 710px)"></i>
<i style="top:512px;left:333px;width:713px;background:linear-gradient(90deg,#00ffd8 0,#00ffcf 111px,#00ffbd 221px,#00ffa5 309px,#00ff85 387px,#00ff56 485px,#00ff42 511px,#00ff30 527px,#00ff1e 536px,#00ff13 539px,#00ff0d 540px,#0f0 541px,#0f0 671px,#10ff00 672px,#1eff00 674px,#3f0 680px,#54ff00 694px,#7f0 713px)"></i>
<i style="top:514px;left:333px;width:715px;background:linear-gradient(90deg,#00ffd8 0,#00ffce 122px,#00ffbc 228px,#00ffa6 307px,#00ff89 380px,#00ff56 485px,#00ff41 513px,#00ff2d 529px,#00ff1c 537px,#00ff0f 540px,#00ff04 541px,#0f0 542px,#0f0 670px,#0dff00 671px,#1cff00 673px,#2cff00 677px,#4f0 686px,#67ff00 703px,#7bff00 715px)"></i>
<i style="top:516px;left:333px;width:718px;background:linear-gradient(90deg,#00ffd9 0,#0fc 139px,#0fb 234px,#00ffa2 320px,#00ff80 400px,#00ff56 486px,#00ff40 514px,#00ff2c 530px,#00ff1c 537px,#0f1 540px,#0f0 542px,#0f0 669px,#08ff00 670px,#14ff00 671px,#20ff00 673px,#3aff00 681px,#5fff00 698px,#80ff00 718px)"></i>
<i style="top:518px;left:334px;width:720px;background:linear-gradient(90deg,#00ffd9 0,#00ffcd 133px,#0fb 235px,#00ffa1 323px,#00ff81 398px,#00ff52 492px,#00ff3c 517px,#00ff29 531px,#00ff1a 537px,#00ff12 539px,#00ff0b 540px,#0f0 541px,#0f0 668px,#12ff00 669px,#1fff00 671px,#31ff00 676px,#52ff00 690px,#74ff00 708px,#86ff00 720px)"></i>
<i style="top:520px;left:334px;width:723px;background:linear-gradient(90deg,#00ffd9 0,#00ffce 128px,#0fb 237px,#00ffa4 316px,#00ff85 391px,#00ff53 491px,#00ff3c 518px,#00ff27 532px,#00ff18 538px,#00ff0d 540px,#0f0 541px,#0f0 667px,#0fff00 668px,#1dff00 670px,#2dff00 674px,#50ff00 688px,#75ff00 708px,#8aff00 723px)"></i>
<i style="top:522px;left:334px;width:726px;background:linear-gradient(90deg,#00ffd9 0,#00ffce 130px,#0fb 238px,#00ffa3 321px,#00ff82 398px,#00ff54 490px,#00ff3e 516px,#00ff2c 530px,#00ff1c 537px,#00ff0f 540px,#00ff04 541px,#0f0 542px,#0f0 666px,#16ff00 668px,#29ff00 672px,#46ff00 683px,#6eff00 703px,#8eff00 725px,#8fff00 726px)"></i>
<i style="top:524px;left:334px;width:729px;background:linear-gradient(90deg,#00ffd9 0,#00ffcf 124px,#00ffbc 236px,#00ffa4 319px,#00ff82 399px,#00ff54 490px,#00ff3e 517px,#00ff2a 531px,#00ff1d 537px,#0f1 540px,#0f0 542px,#0f0 665px,#03ff00 666px,#13ff00 667px,#20ff00 669px,#37ff00 676px,#5dff00 693px,#80ff00 714px,#93ff00 729px)"></i>
<i style="top:526px;left:334px;width:731px;background:linear-gradient(90deg,#00ffd9 0,#00ffd1 110px,#00ffc0 219px,#0fa 303px,#00ff8a 383px,#00ff54 491px,#00ff3e 517px,#00ff2b 531px,#00ff1d 537px,#00ff12 540px,#00ff0b 541px,#0f0 542px,#0f0 665px,#1f0 666px,#1eff00 668px,#31ff00 673px,#52ff00 687px,#75ff00 706px,#92ff00 727px,#96ff00 731px)"></i>
<i style="top:528px;left:334px;width:734px;background:linear-gradient(90deg,#00ffda 0,#00ffcd 145px,#0fb 244px,#00ffa3 325px,#00ff7f 407px,#00ff57 486px,#00ff45 510px,#00ff32 527px,#00ff21 536px,#00ff13 540px,#00ff0d 541px,#0f0 542px,#0f0 664px,#17ff00 666px,#2aff00 670px,#49ff00 682px,#6eff00 701px,#8dff00 722px,#9aff00 734px)"></i>
<i style="top:530px;left:334px;width:737px;background:linear-gradient(90deg,#00ffda 0,#00ffcf 132px,#00ffbd 237px,#00ffa4 323px,#00ff86 394px,#00ff54 492px,#00ff3d 519px,#00ff28 533px,#00ff19 539px,#00ff0f 541px,#00ff04 542px,#0f0 543px,#0f0 663px,#15ff00 665px,#25ff00 668px,#3fff00 677px,#61ff00 693px,#83ff00 714px,#9bff00 734px,#9dff00 737px)"></i>
<i style="top:532px;left:334px;width:740px;background:linear-gradient(90deg,#00ffda 0,#00ffd0 126px,#00ffbd 239px,#00ffa5 322px,#00ff85 397px,#0f5 491px,#00ff3f 517px,#00ff2d 531px,#00ff1a 539px,#0f1 541px,#0f0 543px,#0f0 663px,#12ff00 664px,#1fff00 666px,#2eff00 670px,#4cff00 682px,#72ff00 702px,#91ff00 724px,#a0ff00 740px)"></i>
<i style="top:534px;left:334px;width:743px;background:linear-gradient(90deg,#00ffda 0,#00ffcf 136px,#00ffbd 241px,#00ffa3 329px,#00ff83 402px,#00ff56 490px,#00ff40 517px,#00ff2d 531px,#00ff1b 539px,#00ff12 541px,#00ff0b 542px,#0f0 543px,#0f0 662px,#0fff00 663px,#1eff00 665px,#31ff00 670px,#56ff00 686px,#7bff00 707px,#96ff00 728px,#a3ff00 743px)"></i>
<i style="top:536px;left:334px;width:745px;background:linear-gradient(90deg,#00ffda 0,#00ffd1 122px,#00ffc1 224px,#00ffab 307px,#00ff8f 378px,#0f5 492px,#00ff3f 518px,#00ff2c 532px,#00ff1f 538px,#00ff14 541px,#00ff0e 542px,#0f0 543px,#0f0 661px,#16ff00 663px,#26ff00 666px,#3bff00 673px,#65ff00 693px,#8aff00 717px,#9cff00 734px,#a5ff00 745px)"></i>
<i style="top:538px;left:334px;width:748px;background:linear-gradient(90deg,#00ffda 0,#00ffd2 116px,#00ffc1 226px,#00ffab 309px,#00ff8d 383px,#00ff56 491px,#00ff41 516px,#00ff30 530px,#0f2 537px,#00ff15 541px,#00ff0f 542px,#00ff04 543px,#0f0 544px,#0f0 660px,#04ff00 661px,#14ff00 662px,#25ff00 665px,#3dff00 673px,#6f0 693px,#87ff00 714px,#9bff00 731px,#a8ff00 748px)"></i>
<i style="top:540px;left:334px;width:751px;background:linear-gradient(90deg,#00ffdb 0,#00ffd1 127px,#00ffc0 233px,#00ffa9 316px,#00ff8c 386px,#00ff56 491px,#00ff40 518px,#00ff2d 532px,#00ff1d 539px,#0f1 542px,#0f0 544px,#0f0 660px,#1f0 661px,#1fff00 663px,#2eff00 667px,#4cff00 679px,#70ff00 698px,#90ff00 720px,#a6ff00 744px,#abff00 751px)"></i>
<i style="top:542px;left:334px;width:754px;background:linear-gradient(90deg,#00ffdb 0,#00ffd0 138px,#00ffbe 244px,#00ffa7 323px,#00ff89 394px,#00ff56 492px,#00ff41 517px,#00ff2f 531px,#00ff21 538px,#00ff12 542px,#00ff0b 543px,#0f0 544px,#0f0 659px,#0eff00 660px,#1dff00 662px,#2eff00 666px,#4bff00 678px,#6eff00 696px,#8eff00 718px,#a2ff00 738px,#adff00 754px)"></i>
<i style="top:544px;left:334px;width:757px;background:linear-gradient(90deg,#00ffdb 0,#00ffd1 132px,#00ffbf 241px,#00ffa7 325px,#00ff85 403px,#00ff56 492px,#00ff41 518px,#00ff2e 532px,#00ff1c 540px,#00ff0e 543px,#0f0 544px,#0f0 658px,#15ff00 660px,#26ff00 663px,#3bff00 670px,#61ff00 688px,#83ff00 709px,#9cff00 730px,#b0ff00 757px)"></i>
<i style="top:546px;left:335px;width:759px;background:linear-gradient(90deg,#00ffdb 0,#00ffd2 125px,#00ffc0 237px,#0fa 317px,#00ff90 380px,#00ff56 492px,#00ff40 518px,#00ff2d 532px,#00ff1d 539px,#00ff10 542px,#00ff04 543px,#0f0 544px,#0f0 657px,#13ff00 658px,#20ff00 660px,#35ff00 666px,#57ff00 681px,#80ff00 705px,#9bff00 727px,#b3ff00 759px)"></i>
<i style="top:548px;left:335px;width:761px;background:linear-gradient(90deg,#00ffdb 0,#00ffd3 118px,#00ffc2 230px,#00ffad 309px,#00ff91 379px,#00ff57 491px,#00ff42 516px,#00ff31 530px,#00ff23 537px,#00ff16 541px,#00ff09 543px,#0f0 544px,#0f0 656px,#10ff00 657px,#1fff00 659px,#32ff00 664px,#56ff00 680px,#7bff00 701px,#96ff00 722px,#acff00 748px,#b5ff00 761px)"></i>
<i style="top:550px;left:335px;width:764px;background:linear-gradient(90deg,#00ffdb 0,#00ffd2 130px,#00ffc2 232px,#00ffad 311px,#00ff8e 387px,#00ff56 493px,#00ff3f 520px,#00ff2a 534px,#00ff1b 540px,#00ff13 542px,#00ff0c 543px,#0f0 544px,#0f0 655px,#17ff00 657px,#2aff00 661px,#3eff00 668px,#6cff00 691px,#8eff00 714px,#a2ff00 734px,#b8ff00 764px)"></i>
<i style="top:552px;left:335px;width:767px;background:linear-gradient(90deg,#00ffdb 0,#00ffd3 123px,#00ffc3 229px,#00ffae 309px,#00ff92 380px,#00ff57 492px,#00ff42 517px,#00ff30 531px,#0f2 538px,#00ff14 542px,#00ff0e 543px,#0f0 544px,#0f0 654px,#05ff00 655px,#14ff00 656px,#21ff00 658px,#36ff00 664px,#5bff00 681px,#80ff00 703px,#9f0 723px,#b8ff00 763px,#baff00 767px)"></i>
<i style="top:554px;left:335px;width:770px;background:linear-gradient(90deg,#00ffdc 0,#00ffd2 135px,#00ffc1 240px,#00ffab 320px,#00ff8f 387px,#00ff57 492px,#00ff42 518px,#00ff2f 532px,#00ff1d 540px,#00ff06 545px,#0f0 546px,#0f0 654px,#12ff00 655px,#20ff00 657px,#35ff00 663px,#50ff00 675px,#75ff00 695px,#92ff00 716px,#a5ff00 736px,#bdff00 770px)"></i>
<i style="top:556px;left:335px;width:773px;background:linear-gradient(90deg,#00ffdc 0,#00ffd2 137px,#00ffc1 242px,#00ffab 321px,#00ff91 384px,#00ff58 491px,#0f4 516px,#00ff30 532px,#00ff1e 540px,#00ff12 543px,#00ff09 547px,#0f0 549px,#0f0 653px,#0eff00 654px,#18ff00 655px,#2bff00 659px,#3fff00 666px,#67ff00 686px,#8cff00 710px,#a4ff00 734px,#c0ff00 773px)"></i>
<i style="top:558px;left:335px;width:775px;background:linear-gradient(90deg,#00ffdc 0,#00ffd2 140px,#00ffc0 249px,#0fa 326px,#00ff8f 389px,#00ff56 495px,#00ff42 518px,#00ff32 531px,#00ff24 538px,#00ff16 543px,#00ff09 550px,#0f0 551px,#0f0 652px,#16ff00 654px,#2f0 656px,#37ff00 662px,#5bff00 679px,#7fff00 700px,#98ff00 720px,#b8ff00 760px,#c2ff00 775px)"></i>
<i style="top:560px;left:335px;width:778px;background:linear-gradient(90deg,#00ffdc 0,#00ffd3 134px,#00ffc3 237px,#00ffae 316px,#00ff91 386px,#00ff57 494px,#00ff41 520px,#00ff2d 534px,#00ff19 543px,#00ff0e 551px,#00ff08 553px,#0f0 554px,#0f0 652px,#13ff00 653px,#21ff00 655px,#36ff00 661px,#57ff00 676px,#7dff00 698px,#9f0 720px,#beff00 768px,#c4ff00 778px)"></i>
<i style="top:562px;left:336px;width:780px;background:linear-gradient(90deg,#00ffdc 0,#00ffd4 126px,#00ffc3 238px,#00ffac 322px,#00ff90 389px,#00ff56 495px,#00ff40 520px,#00ff2c 534px,#00ff1d 541px,#00ff13 550px,#00ff0b 554px,#0f0 556px,#0f0 650px,#10ff00 651px,#1fff00 653px,#3f0 658px,#53ff00 672px,#7bff00 695px,#94ff00 714px,#a6ff00 733px,#c7ff00 780px)"></i>
<i style="top:564px;left:336px;width:783px;background:linear-gradient(90deg,#00ffdc 0,#00ffd4 128px,#00ffc3 240px,#00ffad 321px,#00ff8f 392px,#00ff56 496px,#00ff42 519px,#00ff2e 533px,#00ff20 540px,#00ff13 553px,#00ff0a 557px,#0f0 559px,#0f0 649px,#17ff00 651px,#23ff00 653px,#38ff00 659px,#5eff00 677px,#86ff00 702px,#9cff00 721px,#beff00 765px,#caff00 783px)"></i>
<i style="top:566px;left:336px;width:786px;background:linear-gradient(90deg,#00ffdc 0,#00ffd6 111px,#00ffc8 217px,#00ffb3 304px,#00ff98 374px,#00ff58 493px,#00ff43 518px,#00ff31 532px,#00ff23 539px,#00ff16 554px,#00ff0a 560px,#0f0 562px,#0f0 648px,#06ff00 649px,#15ff00 650px,#2f0 652px,#37ff00 658px,#56ff00 672px,#80ff00 697px,#9f0 717px,#bcff00 761px,#cf0 786px)"></i>
<i style="top:568px;left:336px;width:789px;background:linear-gradient(90deg,#0fd 0,#00ffd4 134px,#00ffc4 239px,#00ffaf 318px,#00ff91 390px,#00ff57 495px,#00ff43 518px,#0f3 531px,#00ff25 539px,#00ff1a 553px,#00ff0f 561px,#00ff09 563px,#0f0 564px,#0f0 648px,#12ff00 649px,#20ff00 651px,#30ff00 655px,#45ff00 663px,#6dff00 684px,#90ff00 708px,#a8ff00 733px,#cfff00 789px)"></i>
<i style="top:570px;left:336px;width:791px;background:linear-gradient(90deg,#0fd 0,#00ffd3 145px,#00ffc3 246px,#00ffad 325px,#00ff8f 395px,#00ff58 494px,#00ff43 519px,#00ff30 533px,#00ff27 539px,#00ff1b 555px,#00ff10 563px,#00ff08 566px,#0f0 567px,#0f0 647px,#0fff00 648px,#1fff00 650px,#36ff00 656px,#57ff00 671px,#7eff00 694px,#9cff00 718px,#c3ff00 769px,#d1ff00 791px)"></i>
<i style="top:572px;left:336px;width:794px;background:linear-gradient(90deg,#0fd 0,#00ffd4 139px,#00ffc4 243px,#00ffad 327px,#00ff92 390px,#00ff59 493px,#00ff46 516px,#00ff37 529px,#00ff2a 537px,#00ff1d 556px,#00ff12 565px,#00ff07 569px,#0f0 570px,#0f0 646px,#16ff00 648px,#23ff00 650px,#38ff00 656px,#5eff00 674px,#86ff00 699px,#9cff00 718px,#bfff00 762px,#d3ff00 794px)"></i>
<i style="top:574px;left:336px;width:797px;background:linear-gradient(90deg,#0fd 0,#00ffd5 132px,#00ffc6 235px,#00ffb3 310px,#00ff9a 375px,#00ff5a 492px,#0f4 519px,#00ff31 533px,#00ff2c 537px,#00ff1d 559px,#00ff10 569px,#00ff06 572px,#0f0 573px,#0f0 646px,#14ff00 647px,#21ff00 649px,#31ff00 653px,#4aff00 663px,#74ff00 686px,#95ff00 710px,#b4ff00 746px,#d6ff00 797px)"></i>
<i style="top:576px;left:337px;width:799px;background:linear-gradient(90deg,#0fd 0,#00ffd5 134px,#00ffc4 246px,#00ffae 326px,#00ff92 392px,#00ff56 498px,#00ff40 522px,#00ff2e 535px,#00ff20 558px,#00ff13 569px,#00ff0a 573px,#0f0 575px,#0f0 644px,#1f0 645px,#20ff00 647px,#34ff00 652px,#4bff00 662px,#72ff00 683px,#92ff00 706px,#a9ff00 730px,#d0ff00 785px,#d9ff00 799px)"></i>
<i style="top:578px;left:337px;width:802px;background:linear-gradient(90deg,#0fd 0,#00ffd6 126px,#00ffc6 239px,#00ffb0 322px,#00ff94 389px,#00ff5a 492px,#00ff45 518px,#00ff30 534px,#00ff21 560px,#00ff13 572px,#00ff09 576px,#0f0 577px,#0f0 643px,#18ff00 645px,#28ff00 648px,#39ff00 653px,#5bff00 669px,#8f0 697px,#9eff00 717px,#c1ff00 761px,#dbff00 802px)"></i>
<i style="top:580px;left:337px;width:804px;background:linear-gradient(90deg,#0fd 0,#00ffd6 129px,#00ffc6 241px,#00ffb1 320px,#00ff95 388px,#00ff58 496px,#00ff42 521px,#00ff32 533px,#00ff24 559px,#00ff16 573px,#00ff0c 578px,#00ff08 579px,#0f0 580px,#0f0 642px,#07ff00 643px,#15ff00 644px,#2f0 646px,#32ff00 650px,#4bff00 660px,#79ff00 686px,#96ff00 708px,#b0ff00 737px,#d6ff00 792px,#df0 804px)"></i>
<i style="top:582px;left:337px;width:807px;background:linear-gradient(90deg,#00ffde 0,#00ffd3 160px,#00ffc2 261px,#00ffac 336px,#00ff91 397px,#00ff58 496px,#00ff46 517px,#0f3 534px,#00ff26 559px,#00ff19 574px,#00ff0e 580px,#00ff07 582px,#0f0 583px,#0f0 642px,#13ff00 643px,#21ff00 645px,#31ff00 649px,#46ff00 657px,#6aff00 676px,#8cff00 699px,#a1ff00 718px,#c8ff00 769px,#e0ff00 807px)"></i>
<i style="top:584px;left:337px;width:810px;background:linear-gradient(90deg,#00ffde 0,#00ffd4 154px,#00ffc3 259px,#00ffac 338px,#00ff8d 406px,#00ff56 500px,#00ff3e 525px,#00ff35 533px,#00ff25 564px,#00ff16 579px,#00ff0b 584px,#0f0 586px,#0f0 641px,#0fff00 642px,#19ff00 643px,#29ff00 646px,#3fff00 653px,#68ff00 674px,#8dff00 699px,#a0ff00 716px,#caff00 771px,#e2ff00 810px)"></i>
<i style="top:586px;left:337px;width:813px;background:linear-gradient(90deg,#00ffde 0,#00ffd5 147px,#00ffc7 242px,#00ffb2 322px,#00ff9a 381px,#0f7 444px,#00ff57 499px,#00ff40 524px,#00ff36 533px,#00ff29 561px,#00ff1a 579px,#00ff0d 586px,#0f0 589px,#0f0 640px,#17ff00 642px,#28ff00 645px,#3cff00 651px,#5bff00 666px,#82ff00 690px,#9dff00 712px,#c6ff00 764px,#e5ff00 813px)"></i>
<i style="top:588px;left:338px;width:815px;background:linear-gradient(90deg,#00ffde 0,#00ffd6 139px,#00ffc6 248px,#00ffb0 329px,#00ff94 394px,#00ff58 497px,#0f4 520px,#00ff39 529px,#00ff27 567px,#00ff17 583px,#00ff0d 588px,#00ff09 589px,#0f0 590px,#0f0 639px,#14ff00 640px,#2f0 642px,#32ff00 646px,#47ff00 654px,#6cff00 674px,#8fff00 698px,#af0 725px,#d1ff00 778px,#e7ff00 815px)"></i>
<i style="top:590px;left:338px;width:817px;background:linear-gradient(90deg,#00ffde 0,#00ffd6 142px,#00ffc7 245px,#00ffb3 321px,#00ff98 387px,#00ff57 499px,#00ff42 522px,#00ff3a 529px,#00ff2d 560px,#00ff1e 580px,#00ff13 588px,#00ff08 592px,#0f0 593px,#0f0 638px,#1f0 639px,#21ff00 641px,#38ff00 647px,#53ff00 659px,#80ff00 686px,#9bff00 708px,#bcff00 747px,#e6ff00 811px,#e9ff00 817px)"></i>
<i style="top:592px;left:338px;width:820px;background:linear-gradient(90deg,#00ffde 0,#00ffd6 144px,#00ffc8 242px,#00ffb2 326px,#00ff96 392px,#00ff5a 495px,#00ff46 519px,#00ff3b 529px,#00ff2e 562px,#00ff1f 582px,#00ff13 591px,#00ff0c 594px,#0f0 596px,#0f0 637px,#0eff00 638px,#1fff00 640px,#31ff00 644px,#46ff00 652px,#68ff00 670px,#8dff00 695px,#a2ff00 715px,#c4ff00 757px,#ecff00 820px)"></i>
<i style="top:594px;left:338px;width:823px;background:linear-gradient(90deg,#00ffde 0,#00ffd7 137px,#00ffc7 249px,#00ffb2 328px,#0f9 387px,#00ff75 450px,#00ff57 500px,#00ff43 522px,#00ff3d 528px,#00ff30 561px,#00ff21 583px,#00ff15 593px,#00ff0b 597px,#0f0 599px,#0f0 636px,#08ff00 637px,#16ff00 638px,#28ff00 641px,#3fff00 648px,#6f0 668px,#8dff00 694px,#a7ff00 719px,#d4ff00 779px,#ef0 823px)"></i>
<i style="top:596px;left:338px;width:826px;background:linear-gradient(90deg,#00ffdf 0,#00ffd6 150px,#00ffc7 251px,#00ffb3 326px,#0f9 389px,#00ff57 501px,#00ff41 524px,#00ff2c 572px,#00ff1c 591px,#00ff10 598px,#00ff0a 600px,#00ff03 601px,#0f0 603px,#0f0 636px,#13ff00 637px,#2f0 639px,#39ff00 645px,#54ff00 657px,#80ff00 684px,#9f0 704px,#b5ff00 735px,#e0ff00 797px,#f1ff00 826px)"></i>
<i style="top:598px;left:338px;width:829px;background:linear-gradient(90deg,#00ffdf 0,#00ffd5 162px,#00ffc5 263px,#00ffaf 339px,#00ff94 399px,#00ff59 498px,#00ff45 521px,#00ff40 526px,#00ff31 566px,#0f2 588px,#00ff16 598px,#00ff0d 602px,#00ff09 603px,#0f0 604px,#0f0 635px,#10ff00 636px,#1aff00 637px,#2eff00 641px,#45ff00 649px,#67ff00 667px,#8cff00 692px,#a5ff00 715px,#d0ff00 771px,#f3ff00 829px)"></i>
<i style="top:600px;left:339px;width:830px;background:linear-gradient(90deg,#00ffdf 0,#00ffd6 154px,#00ffc7 255px,#00ffb2 331px,#00ff9a 388px,#00ff5c 494px,#00ff41 526px,#0f3 565px,#00ff24 588px,#00ff16 600px,#00ff0d 604px,#0f0 606px,#0f0 633px,#17ff00 635px,#24ff00 637px,#34ff00 641px,#4dff00 651px,#72ff00 672px,#93ff00 696px,#b0ff00 726px,#daff00 784px,#f5ff00 830px)"></i>
<i style="top:602px;left:339px;width:833px;background:linear-gradient(90deg,#00ffdf 0,#00ffd7 147px,#00ffca 242px,#00ffb6 321px,#00ff9d 383px,#00ff79 446px,#00ff57 501px,#00ff43 523px,#00ff35 564px,#00ff26 589px,#00ff16 603px,#00ff0c 607px,#0f0 609px,#0f0 633px,#15ff00 634px,#23ff00 636px,#3f0 640px,#4bff00 649px,#75ff00 673px,#9aff00 701px,#bfff00 744px,#ebff00 810px,#f8ff00 833px)"></i>
<i style="top:604px;left:339px;width:836px;background:linear-gradient(90deg,#00ffdf 0,#00ffd6 160px,#00ffc6 264px,#00ffb0 340px,#00ff93 404px,#00ff57 502px,#0f4 523px,#00ff35 568px,#00ff26 592px,#00ff16 606px,#00ff0b 610px,#0f0 612px,#0f0 632px,#12ff00 633px,#21ff00 635px,#32ff00 639px,#46ff00 646px,#6f0 663px,#8fff00 691px,#afff00 723px,#d8ff00 778px,#faff00 836px)"></i>
<i style="top:606px;left:339px;width:839px;background:linear-gradient(90deg,#00ffdf 0,#00ffd8 141px,#00ffca 246px,#00ffb7 321px,#00ff9f 382px,#00ff7c 443px,#00ff57 502px,#00ff45 523px,#00ff36 569px,#00ff27 594px,#00ff19 607px,#00ff0b 613px,#00ff02 614px,#0f0 619px,#0f0 631px,#19ff00 633px,#2aff00 636px,#3eff00 642px,#58ff00 654px,#84ff00 682px,#9dff00 703px,#c3ff00 747px,#efff00 814px,#fdff00 839px)"></i>
<i style="top:608px;left:339px;width:842px;background:linear-gradient(90deg,#00ffdf 0,#00ffd7 155px,#00ffc9 253px,#00ffb5 329px,#00ff9b 391px,#00ff5c 496px,#00ff48 519px,#00ff35 575px,#00ff26 598px,#00ff19 610px,#00ff0e 615px,#00ff0a 616px,#0f0 617px,#0f0 630px,#09ff00 631px,#17ff00 632px,#29ff00 635px,#40ff00 642px,#59ff00 654px,#7bff00 675px,#9aff00 699px,#bcff00 737px,#e5ff00 796px,#fffe00 842px)"></i>
<i style="top:610px;left:340px;width:843px;background:linear-gradient(90deg,#00ffe0 0,#00ffd7 157px,#00ffc9 255px,#00ffb5 330px,#00ff9d 387px,#00ff79 449px,#0f5 505px,#00ff48 520px,#00ff39 569px,#00ff29 597px,#00ff1c 610px,#00ff10 616px,#00ff08 618px,#0f0 619px,#0f0 629px,#14ff00 630px,#28ff00 633px,#3dff00 639px,#5bff00 653px,#89ff00 683px,#a3ff00 706px,#cf0 756px,#fcff00 832px,#fffd00 842px,#fffc00 843px)"></i>
<i style="top:612px;left:340px;width:846px;background:linear-gradient(90deg,#00ffe0 0,#00ffd6 170px,#00ffc6 271px,#00ffb0 345px,#00ff98 398px,#00ff5a 499px,#00ff49 519px,#00ff3c 566px,#00ff2a 599px,#00ff1c 613px,#00ff10 619px,#00ff07 621px,#0f0 622px,#0f0 628px,#1f0 629px,#21ff00 631px,#3f0 635px,#4bff00 644px,#6dff00 663px,#95ff00 692px,#b8ff00 729px,#e3ff00 789px,#fffe00 838px,#fffa00 846px)"></i>
<i style="top:614px;left:340px;width:849px;background:linear-gradient(90deg,#00ffe0 0,#00ffd7 163px,#00ffc8 264px,#00ffb4 336px,#00ff98 400px,#00ff58 502px,#00ff4a 520px,#00ff3d 567px,#00ff2d 598px,#00ff1d 615px,#00ff12 621px,#00ff0c 623px,#0f0 625px,#0f0 627px,#18ff00 629px,#2aff00 632px,#41ff00 639px,#5aff00 651px,#80ff00 675px,#9eff00 700px,#c0ff00 738px,#ef0 805px,#fffe00 837px,#fff800 849px)"></i>
<i style="top:616px;left:340px;width:852px;background:linear-gradient(90deg,#00ffe0 0,#00ffd7 165px,#00ffc8 266px,#00ffb3 341px,#00ff96 405px,#00ff57 504px,#00ff4b 519px,#00ff3f 566px,#00ff2d 602px,#00ff1d 618px,#00ff0f 625px,#00ff0b 626px,#0f0 627px,#16ff00 628px,#24ff00 630px,#3bff00 636px,#52ff00 646px,#71ff00 664px,#98ff00 693px,#bcff00 732px,#e6ff00 791px,#fffe00 835px,#fff500 852px)"></i>
<i style="top:618px;left:340px;width:855px;background:linear-gradient(90deg,#00ffe0 0,#00ffd8 158px,#00ffcb 253px,#00ffb8 328px,#00ff9f 389px,#00ff7a 451px,#0f5 507px,#00ff4c 519px,#00ff3f 570px,#00ff2d 605px,#00ff1d 621px,#00ff16 625px,#06ff14 626px,#15ff12 627px,#23ff0d 629px,#28ff09 630px,#2cff00 631px,#40ff00 637px,#5cff00 650px,#89ff00 680px,#a8ff00 708px,#d5ff00 764px,#ff0 832px,#fff300 855px)"></i>
<i style="top:620px;left:341px;width:856px;background:linear-gradient(90deg,#00ffe0 0,#00ffd7 170px,#00ffc9 264px,#00ffb7 331px,#00ff9d 393px,#00ff76 457px,#00ff53 509px,#00ff4e 516px,#00ff41 567px,#00ff2f 605px,#00ff1d 623px,#08ff1b 624px,#16ff1a 625px,#23ff17 627px,#33ff0f 631px,#39ff08 633px,#3cff00 634px,#56ff00 645px,#7cff00 669px,#9fff00 697px,#c7ff00 743px,#f8ff00 816px,#fffe00 831px,#fff100 856px)"></i>
<i style="top:622px;left:341px;width:859px;background:linear-gradient(90deg,#00ffe1 0,#00ffd7 173px,#00ffc8 271px,#00ffb4 342px,#00ff98 404px,#00ff58 503px,#00ff4f 515px,#00ff41 572px,#00ff2f 608px,#0f2 622px,#09ff21 623px,#17ff20 624px,#24ff1e 626px,#3aff15 632px,#44ff0c 636px,#49ff00 638px,#64ff00 652px,#8dff00 681px,#b0ff00 714px,#d8ff00 765px,#ff0 828px,#ffef00 859px)"></i>
<i style="top:624px;left:341px;width:862px;background:linear-gradient(90deg,#00ffe1 0,#00ffd7 176px,#00ffc8 273px,#00ffb4 343px,#0f9 403px,#00ff58 504px,#00ff50 515px,#00ff43 570px,#00ff34 604px,#00ff27 621px,#17ff25 623px,#29ff22 626px,#3fff1a 633px,#4dff0e 639px,#51ff06 641px,#53ff00 642px,#70ff00 659px,#9f0 690px,#bcff00 727px,#e7ff00 786px,#fffe00 827px,#ffec00 862px)"></i>
<i style="top:626px;left:341px;width:865px;background:linear-gradient(90deg,#00ffe1 0,#00ffd7 178px,#00ffc8 276px,#00ffb2 350px,#00ff96 410px,#00ff56 507px,#00ff51 515px,#00ff43 575px,#0f3 609px,#00ff2b 620px,#18ff29 622px,#29ff27 625px,#40ff20 632px,#5f1 642px,#5cff00 646px,#7dff00 667px,#a1ff00 697px,#c8ff00 741px,#f6ff00 808px,#fffe00 826px,#ffea00 865px)"></i>
<i style="top:628px;left:342px;width:866px;background:linear-gradient(90deg,#00ffe1 0,#00ffd7 180px,#00ffc8 277px,#00ffb4 346px,#00ff98 406px,#00ff6f 469px,#00ff52 513px,#00ff46 569px,#00ff35 608px,#00ff2e 618px,#18ff2d 620px,#25ff2b 622px,#3aff26 628px,#54ff1b 639px,#5eff10 645px,#61ff0a 647px,#63ff00 648px,#8bff00 676px,#acff00 706px,#d5ff00 756px,#ff0 821px,#ffe800 866px)"></i>
<i style="top:630px;left:342px;width:869px;background:linear-gradient(90deg,#00ffe1 0,#00ffd8 173px,#00ffca 269px,#00ffb8 336px,#00ffa0 393px,#00ff7e 448px,#00ff56 507px,#00ff4f 537px,#00ff3f 593px,#00ff31 617px,#19ff30 619px,#2eff2d 623px,#45ff27 631px,#5dff1b 643px,#68ff0d 650px,#69ff09 651px,#6bff00 652px,#96ff00 684px,#bcff00 723px,#e8ff00 782px,#fffe00 821px,#ffe600 869px)"></i>
<i style="top:632px;left:342px;width:872px;background:linear-gradient(90deg,#00ffe1 0,#00ffd8 176px,#00ffc9 276px,#00ffb5 346px,#00ff9c 401px,#00ff7c 452px,#00ff57 506px,#00ff45 581px,#00ff35 616px,#0fff34 617px,#20ff33 619px,#31ff30 623px,#48ff2b 631px,#64ff1c 646px,#6eff0f 653px,#71ff08 655px,#72ff00 656px,#9aff00 687px,#c1ff00 728px,#ecff00 787px,#fffe00 820px,#ffe400 872px)"></i>
<i style="top:634px;left:342px;width:875px;background:linear-gradient(90deg,#00ffe1 0,#00ffd8 179px,#00ffcb 269px,#00ffb8 340px,#00ffa1 393px,#00ff83 443px,#00ff56 510px,#00ff49 573px,#00ff39 613px,#00ff37 615px,#10ff37 616px,#1aff36 617px,#2aff35 620px,#41ff30 627px,#61ff24 643px,#72ff14 655px,#76ff0c 658px,#79ff00 660px,#9eff00 690px,#c1ff00 727px,#edff00 787px,#fffe00 818px,#ffe500 868px,#ffe200 875px)"></i>
<i style="top:636px;left:343px;width:877px;background:linear-gradient(90deg,#00ffe2 0,#00ffd8 181px,#00ffca 275px,#00ffb6 346px,#00ff9e 399px,#00ff7e 450px,#00ff57 508px,#00ff4a 574px,#00ff3a 613px,#10ff3a 614px,#21ff39 616px,#35ff36 621px,#4aff31 629px,#66ff25 644px,#75ff19 655px,#7cff0f 660px,#7fff00 663px,#a1ff00 691px,#c6ff00 731px,#f4ff00 795px,#fffe00 816px,#ffe800 858px,#ffe000 877px)"></i>
<i style="top:638px;left:343px;width:879px;background:linear-gradient(90deg,#00ffe2 0,#00ffd7 193px,#00ffc8 286px,#00ffb5 350px,#00ff9c 404px,#00ff75 464px,#00ff58 507px,#00ff4b 575px,#00ff3d 612px,#11ff3c 613px,#21ff3b 615px,#32ff39 619px,#46ff35 626px,#63ff2b 641px,#7cff19 659px,#82ff0e 664px,#84ff03 666px,#87ff00 668px,#acff00 701px,#d5ff00 749px,#ff0 812px,#ffe000 874px,#ffde00 879px)"></i>
<i style="top:640px;left:343px;width:882px;background:linear-gradient(90deg,#00ffe2 0,#00ffd8 186px,#00ffca 279px,#00ffb6 349px,#00ff9f 400px,#00ff7e 452px,#00ff59 507px,#00ff4d 573px,#00ff3f 611px,#12ff3f 612px,#21ff3e 614px,#33ff3c 618px,#4bff37 627px,#6bff2b 645px,#81ff1a 662px,#88ff0e 668px,#89ff0a 669px,#8aff00 670px,#adff00 701px,#d9ff00 753px,#ff0 811px,#ffe800 854px,#ffdc00 882px)"></i>
<i style="top:642px;left:343px;width:885px;background:linear-gradient(90deg,#00ffe2 0,#00ffd8 189px,#00ffca 282px,#00ffb8 345px,#00ffa0 400px,#00ff79 460px,#00ff5a 506px,#00ff4e 575px,#00ff42 610px,#12ff41 611px,#22ff40 613px,#36ff3e 618px,#4bff3a 626px,#68ff30 642px,#7fff22 659px,#8bff15 669px,#8fff09 673px,#90ff00 674px,#afff00 702px,#d7ff00 749px,#ff0 809px,#ffe800 852px,#ffda00 885px)"></i>
<i style="top:644px;left:344px;width:887px;background:linear-gradient(90deg,#00ffe2 0,#00ffd9 181px,#00ffcb 278px,#00ffb7 349px,#00ff9e 404px,#00ff73 468px,#00ff5b 505px,#00ff50 571px,#0f4 608px,#13ff44 609px,#22ff43 611px,#33ff41 615px,#49ff3d 623px,#65ff35 638px,#83ff24 660px,#8eff18 670px,#93ff10 674px,#95ff08 676px,#96ff00 677px,#c3ff00 722px,#f2ff00 785px,#fffe00 808px,#ffe800 849px,#ffd800 887px)"></i>
<i style="top:646px;left:344px;width:889px;background:linear-gradient(90deg,#00ffe2 0,#00ffd8 194px,#00ffc9 290px,#00ffb6 353px,#00ff9d 407px,#00ff78 462px,#00ff5c 504px,#00ff50 577px,#00ff46 607px,#14ff46 608px,#22ff45 610px,#33ff43 614px,#47ff40 621px,#64ff38 636px,#85ff27 661px,#94ff18 674px,#99ff0c 679px,#9bff00 681px,#c3ff00 721px,#f3ff00 785px,#fffe00 806px,#ffe600 851px,#ffd700 889px)"></i>
<i style="top:648px;left:344px;width:892px;background:linear-gradient(90deg,#00ffe3 0,#00ffd8 197px,#00ffca 287px,#00ffb6 355px,#00ff9c 410px,#00ff5d 503px,#00ff53 570px,#00ff48 606px,#14ff48 607px,#23ff47 609px,#37ff45 614px,#50ff41 624px,#6aff39 639px,#89ff29 663px,#99ff18 678px,#9fff0b 683px,#a1ff00 685px,#c9ff00 727px,#f8ff00 791px,#fffe00 804px,#ffe200 858px,#ffd500 892px)"></i>
<i style="top:650px;left:344px;width:895px;background:linear-gradient(90deg,#00ffe3 0,#00ffd9 189px,#00ffcb 285px,#00ffb6 357px,#00ff9b 413px,#00ff6f 476px,#00ff5e 503px,#00ff53 576px,#00ff4a 605px,#15ff4a 606px,#23ff49 608px,#37ff47 613px,#50ff43 623px,#6cff3b 639px,#8eff2a 666px,#9eff19 681px,#a3ff0e 686px,#a4ff0a 687px,#a5ff02 688px,#af0 693px,#cfff00 733px,#feff00 799px,#ffde00 865px,#ffd300 895px)"></i>
<i style="top:652px;left:345px;width:897px;background:linear-gradient(90deg,#00ffe3 0,#00ffd9 191px,#0fc 281px,#00ffb9 349px,#00ffa1 402px,#00ff83 449px,#00ff60 498px,#00ff54 577px,#00ff4d 602px,#02ff4d 603px,#16ff4c 604px,#2dff4b 608px,#48ff47 617px,#66ff40 633px,#85ff33 656px,#9aff24 675px,#a5ff15 686px,#a9ff0a 690px,#af0 691px,#d4ff00 737px,#ff0 798px,#ffe300 850px,#ffd100 897px)"></i>
<i style="top:654px;left:345px;width:900px;background:linear-gradient(90deg,#00ffe3 0,#00ffd9 194px,#0fc 284px,#00ffb9 351px,#00ffa2 402px,#00ff83 450px,#00ff61 497px,#0f5 579px,#00ff4f 601px,#06ff4f 602px,#16ff4e 603px,#24ff4d 605px,#3bff4b 611px,#57ff46 623px,#79ff3c 645px,#9aff29 674px,#a8ff19 688px,#adff0d 693px,#aeff09 694px,#afff00 695px,#d4ff00 736px,#ff0 796px,#ffe300 848px,#ffcf00 900px)"></i>
<i style="top:656px;left:345px;width:902px;background:linear-gradient(90deg,#00ffe3 0,#00ffd9 197px,#0fc 286px,#00ffb9 353px,#00ff9f 409px,#00ff7c 460px,#00ff62 497px,#0f5 585px,#00ff51 600px,#08ff50 601px,#17ff50 602px,#29ff4f 605px,#3eff4d 611px,#59ff48 623px,#7dff3d 647px,#9cff2c 674px,#aaff1d 689px,#b1ff10 696px,#b3ff08 698px,#b4ff00 699px,#df0 746px,#fffe00 796px,#ffe300 847px,#ffce00 902px)"></i>
<i style="top:658px;left:345px;width:905px;background:linear-gradient(90deg,#00ffe3 0,#00ffda 189px,#00ffce 278px,#00ffbc 346px,#00ffa7 395px,#00ff8b 441px,#00ff63 496px,#00ff57 582px,#00ff53 599px,#17ff52 601px,#24ff51 603px,#35ff50 607px,#4dff4d 616px,#6aff46 632px,#8eff38 660px,#a6ff28 683px,#b1ff1a 695px,#b7ff0c 701px,#b9ff00 703px,#e1ff00 750px,#fffe00 794px,#ffe200 847px,#fc0 905px)"></i>
<i style="top:660px;left:346px;width:907px;background:linear-gradient(90deg,#00ffe3 0,#00ffda 191px,#00ffcd 285px,#00ffb9 355px,#00ffa0 409px,#00ff79 465px,#00ff64 495px,#00ff58 583px,#0f5 597px,#18ff54 599px,#2aff53 602px,#44ff50 610px,#64ff4a 626px,#85ff40 650px,#a6ff2c 681px,#b4ff1d 696px,#bbff0f 703px,#bdff00 706px,#e2ff00 749px,#fffe00 792px,#ffe400 839px,#fc0 902px,#ffca00 907px)"></i>
<i style="top:662px;left:346px;width:910px;background:linear-gradient(90deg,#00ffe4 0,#00ffd9 205px,#0fc 292px,#00ffb8 360px,#00ff9a 420px,#00ff65 494px,#00ff5a 581px,#00ff56 596px,#18ff56 598px,#25ff55 600px,#3cff53 606px,#56ff4f 617px,#76ff47 637px,#9fff36 672px,#b6ff22 696px,#beff14 705px,#c0ff0a 708px,#c1ff00 709px,#e9ff00 757px,#fffe00 791px,#ffe600 833px,#ffcd00 896px,#ffc900 910px)"></i>
<i style="top:664px;left:346px;width:912px;background:linear-gradient(90deg,#00ffe4 0,#00ffd9 208px,#0fc 294px,#00ffb9 359px,#00ff9e 415px,#00ff78 468px,#0f6 493px,#00ff5b 583px,#00ff58 595px,#19ff58 597px,#26ff57 599px,#3cff55 605px,#56ff51 616px,#76ff4a 636px,#9bff3b 667px,#b5ff28 694px,#c0ff19 706px,#c4ff0e 711px,#c5ff0a 712px,#c6ff00 713px,#f2ff00 768px,#fffe00 789px,#ffe400 835px,#ffca00 902px,#ffc700 912px)"></i>
<i style="top:666px;left:346px;width:915px;background:linear-gradient(90deg,#00ffe4 0,#00ffd9 211px,#0fc 296px,#00ffb9 361px,#00ff9b 421px,#00ff73 475px,#0f6 495px,#00ff5e 574px,#00ff5a 594px,#19ff59 596px,#2bff58 599px,#42ff56 606px,#5cff52 618px,#80ff49 642px,#a7ff37 678px,#bdff24 702px,#c6ff15 712px,#c9ff09 716px,#caff00 717px,#f1ff00 765px,#fffe00 787px,#ffe200 837px,#ffc800 906px,#ffc500 915px)"></i>
<i style="top:668px;left:347px;width:917px;background:linear-gradient(90deg,#00ffe4 0,#00ffda 202px,#0fc 298px,#00ffb9 361px,#00ff9f 415px,#00ff7d 462px,#00ff67 492px,#00ff5f 575px,#00ff5c 592px,#0fff5b 593px,#1aff5b 594px,#2bff5a 597px,#42ff58 604px,#5eff54 617px,#80ff4b 640px,#aaff39 678px,#c1ff25 704px,#ccff13 716px,#ceff08 719px,#cfff00 720px,#faff00 775px,#fffd00 786px,#ffe300 832px,#ffca00 897px,#ffc400 917px)"></i>
<i style="top:670px;left:347px;width:920px;background:linear-gradient(90deg,#00ffe4 0,#00ffda 205px,#00ffce 291px,#0fb 358px,#00ffa3 409px,#00ff83 456px,#00ff68 491px,#00ff60 578px,#00ff5d 591px,#10ff5d 592px,#21ff5c 594px,#33ff5b 598px,#4aff59 606px,#65ff54 620px,#85ff4c 643px,#acff3b 679px,#c5ff26 707px,#cfff15 719px,#d2ff0c 722px,#d3ff00 724px,#f9ff00 772px,#fffd00 784px,#ffe100 834px,#ffc500 909px,#ffc200 920px)"></i>
<i style="top:672px;left:347px;width:923px;background:linear-gradient(90deg,#00ffe4 0,#00ffda 208px,#00ffcd 298px,#00ffba 362px,#00ffa0 416px,#0f7 472px,#00ff69 491px,#00ff61 580px,#00ff5f 590px,#11ff5f 591px,#1bff5e 592px,#30ff5d 596px,#48ff5b 604px,#67ff56 620px,#8eff4b 649px,#baff35 693px,#cbff24 713px,#d3ff16 722px,#d6ff0b 726px,#d8ff00 728px,#ff0 780px,#ffe600 822px,#ffcf00 877px,#ffc000 923px)"></i>
<i style="top:674px;left:348px;width:924px;background:linear-gradient(90deg,#00ffe5 0,#00ffd9 221px,#0fc 303px,#00ffb9 366px,#00ff9e 419px,#00ff7b 467px,#00ff6a 489px,#00ff63 575px,#00ff61 588px,#12ff60 589px,#22ff60 591px,#34ff5f 595px,#4fff5c 605px,#6fff56 623px,#95ff4b 653px,#bdff36 694px,#cfff25 715px,#d7ff16 725px,#daff0f 728px,#dbff0a 729px,#dbff00 730px,#ff0 777px,#ffe500 821px,#fc0 882px,#ffbf00 924px)"></i>
<i style="top:676px;left:348px;width:927px;background:linear-gradient(90deg,#00ffe5 0,#00ffd9 224px,#0fc 306px,#00ffb7 372px,#00ffa0 417px,#00ff81 460px,#00ff6b 489px,#00ff63 585px,#00ff62 587px,#12ff62 588px,#1cff62 589px,#2cff61 592px,#3eff60 597px,#59ff5c 609px,#72ff57 624px,#95ff4d 652px,#bdff3a 692px,#d3ff26 718px,#ddff14 730px,#dfff0a 733px,#e0ff00 734px,#fffe00 776px,#ffe500 819px,#ffce00 874px,#ffbd00 927px)"></i>
<i style="top:678px;left:348px;width:930px;background:linear-gradient(90deg,#00ffe5 0,#00ffda 217px,#00ffcd 303px,#00ffba 367px,#00ffa0 419px,#00ff79 471px,#00ff6c 488px,#00ff64 586px,#13ff64 587px,#23ff63 589px,#3bff62 595px,#56ff5e 606px,#75ff59 625px,#9aff4e 655px,#c8ff36 703px,#d7ff26 722px,#e0ff16 733px,#e3ff09 737px,#e4ff00 738px,#ff0 774px,#ffe900 809px,#ffd000 866px,#ffbc00 930px)"></i>
<i style="top:680px;left:348px;width:933px;background:linear-gradient(90deg,#00ffe5 0,#00ffda 220px,#00ffcd 306px,#00ffba 368px,#00ffa0 420px,#00ff81 462px,#00ff6e 486px,#00ff65 585px,#14ff65 586px,#23ff65 588px,#34ff64 592px,#49ff62 599px,#68ff5d 615px,#8aff55 640px,#acff49 672px,#cdff35 708px,#dcff26 726px,#e4ff17 736px,#e7ff0d 740px,#e9ff00 742px,#fffe00 773px,#ffe200 820px,#ffc800 886px,#ffba00 933px)"></i>
<i style="top:682px;left:349px;width:934px;background:linear-gradient(90deg,#00ffe5 0,#00ffdb 210px,#00ffcf 298px,#00ffbe 359px,#00ffa6 410px,#00ff87 455px,#00ff6f 485px,#00ff67 583px,#14ff67 584px,#23ff66 586px,#35ff65 590px,#50ff63 600px,#70ff5d 618px,#95ff54 647px,#bfff42 689px,#d8ff2f 719px,#e5ff1e 735px,#ebff10 742px,#edff00 745px,#fffe00 770px,#ffe100 819px,#ffc800 883px,#ffb900 934px)"></i>
<i style="top:684px;left:349px;width:937px;background:linear-gradient(90deg,#00ffe5 0,#00ffdb 213px,#00ffcf 300px,#00ffbe 361px,#00ffa4 415px,#00ff86 457px,#00ff70 484px,#00ff69 582px,#15ff68 583px,#24ff68 585px,#3fff66 592px,#5aff63 604px,#73ff5f 619px,#94ff56 645px,#c1ff44 690px,#ddff2f 723px,#e9ff1e 739px,#eeff12 745px,#f0ff0b 747px,#f0ff03 748px,#f2ff00 750px,#fffe00 769px,#ffe300 813px,#ffc900 877px,#ffb700 937px)"></i>
<i style="top:686px;left:349px;width:940px;background:linear-gradient(90deg,#00ffe6 0,#00ffda 228px,#00ffce 307px,#00ffbe 362px,#00ffa8 410px,#00ff8a 453px,#00ff71 484px,#00ff6a 581px,#16ff6a 582px,#24ff69 584px,#35ff68 588px,#4cff66 596px,#6cff62 613px,#91ff59 641px,#beff48 685px,#dcff34 721px,#ebff22 740px,#f2ff14 748px,#f3ff0f 750px,#f4ff0a 751px,#f5ff00 752px,#fffe00 767px,#ffe000 817px,#ffc400 888px,#ffb600 940px)"></i>
<i style="top:688px;left:350px;width:942px;background:linear-gradient(90deg,#00ffe6 0,#00ffda 230px,#00ffce 309px,#0fb 371px,#00ffa3 418px,#00ff86 458px,#00ff72 483px,#00ff6c 578px,#03ff6c 579px,#16ff6b 580px,#2aff6b 583px,#3fff69 589px,#59ff66 600px,#7bff61 621px,#a6ff55 658px,#cfff41 703px,#e6ff2e 731px,#f1ff1f 745px,#f7ff11 752px,#f8ff0a 754px,#f9ff00 755px,#fffe00 765px,#ffe600 802px,#ffcb00 865px,#ffb400 942px)"></i>
<i style="top:690px;left:350px;width:945px;background:linear-gradient(90deg,#00ffe6 0,#00ffdb 222px,#00ffcf 306px,#00ffbe 365px,#00ffa5 417px,#00ff86 459px,#00ff74 481px,#00ff71 515px,#00ff6d 577px,#07ff6d 578px,#17ff6d 579px,#25ff6c 581px,#39ff6b 586px,#53ff69 596px,#71ff64 613px,#95ff5c 641px,#c5ff4a 689px,#e4ff35 727px,#f4ff22 747px,#fbff11 756px,#fcff08 758px,#fdff00 759px,#fffb00 767px,#ffe200 808px,#ffc800 870px,#ffb300 945px)"></i>
<i style="top:692px;left:350px;width:947px;background:linear-gradient(90deg,#00ffe6 0,#00ffdb 225px,#00ffd0 304px,#00ffbf 364px,#00ffa9 411px,#00ff8c 453px,#00ff75 481px,#00ff72 513px,#00ff6f 576px,#09ff6f 577px,#17ff6e 578px,#25ff6e 580px,#36ff6d 584px,#4aff6b 591px,#68ff68 606px,#88ff61 629px,#afff56 664px,#dbff40 714px,#f0ff2d 740px,#fbff1c 755px,#fffe0d 761px,#fffd00 763px,#ffe500 800px,#ffc900 864px,#ffb200 946px,#ffb200 947px)"></i>
<i style="top:694px;left:351px;width:949px;background:linear-gradient(90deg,#00ffe6 0,#00ffdb 227px,#00ffd0 305px,#00ffbf 365px,#00ffa7 415px,#00ff8b 454px,#00ff76 480px,#00ff73 510px,#00ff70 574px,#0aff70 575px,#18ff70 576px,#26ff6f 578px,#3dff6e 584px,#55ff6c 594px,#70ff68 609px,#93ff60 636px,#b8ff55 671px,#e1ff3f 719px,#f7ff2a 747px,#fffe1b 758px,#fffb10 763px,#fff800 766px,#ffde00 811px,#ffc400 876px,#ffb000 949px)"></i>
<i style="top:696px;left:351px;width:952px;background:linear-gradient(90deg,#00ffe6 0,#0fd 204px,#00ffd2 298px,#00ffc1 362px,#0fa 412px,#00ff8c 454px,#0f7 480px,#00ff74 510px,#00ff72 573px,#18ff71 575px,#26ff71 577px,#3aff70 582px,#54ff6d 592px,#75ff69 611px,#9dff60 643px,#ceff4d 694px,#efff38 734px,#ffff24 756px,#fff815 765px,#fff60b 768px,#fff502 769px,#fff200 774px,#ffda00 817px,#ffc200 880px,#ffaf00 952px)"></i>
<i style="top:698px;left:351px;width:955px;background:linear-gradient(90deg,#00ffe7 0,#00ffdb 233px,#00ffcf 315px,#00ffbe 372px,#00ffa5 421px,#00ff84 465px,#00ff79 478px,#00ff75 503px,#00ff73 572px,#19ff73 574px,#2bff72 577px,#40ff71 583px,#5aff6e 594px,#7bff69 614px,#a0ff61 645px,#cbff51 689px,#ecff3e 729px,#feff2c 753px,#fff518 767px,#fff30e 771px,#fff20a 772px,#fff100 773px,#ffd600 824px,#ffbf00 887px,#ffad00 955px)"></i>
<i style="top:700px;left:352px;width:956px;background:linear-gradient(90deg,#00ffe7 0,#00ffdc 223px,#00ffd2 302px,#00ffc1 365px,#00ffa8 417px,#00ff89 459px,#00ff7a 477px,#00ff76 503px,#00ff75 570px,#1aff74 572px,#27ff74 574px,#3eff73 580px,#58ff70 591px,#77ff6c 609px,#9cff64 639px,#c6ff56 681px,#eeff40 729px,#fffe2f 752px,#fff31d 767px,#ffef11 773px,#ffee09 775px,#fe0 776px,#ffd500 822px,#ffbc00 892px,#ffac00 956px)"></i>
<i style="top:702px;left:352px;width:959px;background:linear-gradient(90deg,#00ffe7 0,#00ffdc 226px,#00ffd2 304px,#00ffc1 367px,#00ffa9 417px,#00ff8d 455px,#00ff7c 476px,#0f7 498px,#00ff76 569px,#0fff76 570px,#1aff76 571px,#2cff75 574px,#41ff74 580px,#58ff72 590px,#74ff6e 606px,#98ff67 634px,#caff57 684px,#f6ff3d 738px,#fffe33 751px,#fff01e 770px,#ffec10 777px,#ffeb08 779px,#ffea00 780px,#ffcf00 834px,#ffb500 913px,#fa0 959px)"></i>
<i style="top:704px;left:352px;width:962px;background:linear-gradient(90deg,#00ffe7 0,#00ffdc 230px,#00ffd1 312px,#00ffc0 371px,#00ffa6 423px,#00ff84 467px,#00ff7d 476px,#00ff78 501px,#0f7 568px,#10ff77 569px,#1bff77 570px,#2cff77 573px,#41ff75 579px,#5bff73 590px,#7aff6e 609px,#9fff67 639px,#ceff57 687px,#f1ff44 730px,#fffe38 749px,#ffef23 770px,#ffe912 780px,#ffe80c 782px,#ffe600 784px,#ffcd00 837px,#ffb500 911px,#ffa900 962px)"></i>
<i style="top:706px;left:353px;width:964px;background:linear-gradient(90deg,#00ffe7 0,#00ffde 204px,#00ffd4 298px,#00ffc4 361px,#00ffaf 408px,#00ff94 448px,#00ff7e 475px,#00ff79 500px,#00ff79 566px,#11ff79 567px,#22ff78 569px,#35ff78 573px,#51ff75 583px,#70ff72 600px,#95ff6b 628px,#beff5f 667px,#e8ff4d 716px,#fffe3c 746px,#ffed26 770px,#ffe614 782px,#ffe40b 785px,#ffe300 787px,#ffc900 843px,#ffb100 923px,#ffa700 964px)"></i>
<i style="top:708px;left:353px;width:967px;background:linear-gradient(90deg,#00ffe7 0,#00ffde 208px,#00ffd4 300px,#00ffc4 363px,#00ffb1 406px,#00ff96 447px,#00ff80 473px,#00ff7a 499px,#00ff7a 565px,#11ff7a 566px,#1cff7a 567px,#31ff79 571px,#47ff78 578px,#63ff75 591px,#87ff6f 615px,#aeff66 650px,#daff57 697px,#ffff41 743px,#ffe924 775px,#ffe213 786px,#ffe10a 789px,#ffe000 790px,#ffc700 847px,#ffb100 919px,#ffa600 967px)"></i>
<i style="top:710px;left:353px;width:969px;background:linear-gradient(90deg,#00ffe8 0,#00ffdc 239px,#00ffd1 318px,#00ffc1 373px,#00ffa7 425px,#00ff82 472px,#00ff7b 496px,#00ff7c 564px,#12ff7c 565px,#23ff7b 567px,#39ff7a 572px,#53ff78 582px,#6fff75 597px,#96ff6e 626px,#c4ff61 671px,#ecff50 718px,#fffe43 743px,#ffe727 776px,#ffdf13 790px,#ffdd09 793px,#fd0 794px,#ffc300 854px,#fa0 944px,#ffa500 969px)"></i>
<i style="top:712px;left:353px;width:972px;background:linear-gradient(90deg,#00ffe8 0,#00ffdc 242px,#00ffd1 321px,#00ffc0 378px,#0fa 421px,#00ff91 455px,#00ff83 472px,#00ff7c 498px,#00ff7d 563px,#13ff7d 564px,#23ff7d 566px,#35ff7c 570px,#4dff7a 578px,#6cff77 594px,#8fff71 619px,#b8ff67 657px,#eaff54 713px,#fffe47 741px,#ffe427 779px,#ffdd16 792px,#ffdb0c 796px,#ffda08 797px,#ffda00 798px,#ffc200 854px,#ffa900 945px,#ffa300 972px)"></i>
<i style="top:714px;left:354px;width:974px;background:linear-gradient(90deg,#00ffe8 0,#0fd 231px,#00ffd3 313px,#00ffc2 374px,#0fa 422px,#00ff8d 460px,#00ff84 472px,#00ff7d 498px,#00ff7e 561px,#14ff7e 562px,#24ff7e 564px,#36ff7d 568px,#4dff7c 576px,#69ff79 590px,#8aff74 613px,#adff6c 644px,#d7ff5f 688px,#fffe4a 738px,#ffe42b 777px,#ffdb19 793px,#ffd80c 799px,#ffd700 801px,#ffbf00 859px,#ffa700 950px,#ffa200 974px)"></i>
<i style="top:716px;left:354px;width:977px;background:linear-gradient(90deg,#00ffe8 0,#00ffdf 206px,#00ffd5 304px,#00ffc6 364px,#00ffb1 412px,#00ff94 453px,#00ff86 470px,#00ff7f 493px,#00ff80 560px,#14ff80 561px,#24ff7f 563px,#36ff7f 567px,#4bff7d 574px,#6bff7a 590px,#8eff74 615px,#b7ff6b 652px,#eaff59 709px,#fffe4d 737px,#ffe22d 778px,#ffd91d 794px,#ffd50e 802px,#ffd405 804px,#ffd400 805px,#ffbe00 860px,#ffa800 942px,#ffa100 977px)"></i>
<i style="top:718px;left:355px;width:978px;background:linear-gradient(90deg,#00ffe8 0,#00ffdf 209px,#00ffd5 306px,#00ffc5 368px,#00ffb0 414px,#00ff95 452px,#0f8 468px,#00ff80 493px,#00ff81 558px,#15ff81 559px,#24ff81 561px,#36ff80 565px,#4bff7f 572px,#68ff7c 586px,#8cff76 611px,#b3ff6e 646px,#e3ff5e 698px,#fffe50 734px,#ffdd2a 784px,#ffd518 800px,#ffd20e 805px,#ffd103 807px,#ffd000 809px,#ffb600 881px,#ffa000 976px,#ffa000 978px)"></i>
<i style="top:720px;left:355px;width:981px;background:linear-gradient(90deg,#00ffe9 0,#0fd 240px,#00ffd3 319px,#00ffc3 376px,#00ffab 424px,#00ff8d 462px,#00ff82 486px,#00ff82 557px,#16ff82 558px,#25ff82 560px,#37ff81 564px,#50ff80 573px,#6fff7c 589px,#94ff77 616px,#beff6d 656px,#f0ff5b 712px,#fffe52 733px,#ffe438 770px,#ffd521 797px,#ffd010 808px,#ffcf09 810px,#ffce00 811px,#ffb500 882px,#ff9e00 981px)"></i>
<i style="top:722px;left:355px;width:984px;background:linear-gradient(90deg,#00ffe9 0,#0fd 244px,#00ffd3 322px,#00ffc2 380px,#00ffac 424px,#00ff8b 467px,#00ff82 493px,#00ff84 556px,#16ff84 557px,#25ff83 559px,#37ff83 563px,#4eff81 571px,#6cff7e 586px,#8fff79 611px,#b8ff70 648px,#eeff5e 708px,#fffe55 731px,#ffdf35 777px,#ffd321 800px,#ffce15 809px,#ffcc0c 813px,#ffcc08 814px,#fc0 815px,#ffb600 875px,#ff9f00 972px,#ff9d00 984px)"></i>
<i style="top:724px;left:356px;width:986px;background:linear-gradient(90deg,#00ffe9 0,#00ffde 233px,#00ffd4 318px,#00ffc4 376px,#00ffab 426px,#00ff8b 468px,#00ff83 494px,#00ff85 553px,#04ff85 554px,#17ff85 555px,#26ff85 557px,#3eff84 563px,#57ff82 573px,#74ff7f 589px,#99ff79 617px,#caff6d 664px,#ffff59 727px,#ffe23c 769px,#ffd225 799px,#ffcb13 813px,#ffca0c 816px,#ffc900 818px,#ffb100 889px,#ff9b00 986px)"></i>
<i style="top:726px;left:356px;width:989px;background:linear-gradient(90deg,#00ffe9 0,#00ffdf 223px,#00ffd6 310px,#00ffc6 373px,#00ffae 423px,#00ff8d 467px,#00ff84 493px,#00ff86 552px,#07ff87 553px,#17ff86 554px,#26ff86 556px,#37ff85 560px,#4cff84 567px,#69ff81 581px,#8fff7c 607px,#c0ff72 652px,#feff5c 724px,#ffdc39 777px,#ffce23 804px,#ffc916 815px,#ffc70b 820px,#ffc600 822px,#ffaf00 893px,#ff9a00 989px)"></i>
<i style="top:728px;left:356px;width:991px;background:linear-gradient(90deg,#00ffe9 0,#00ffdf 226px,#00ffd6 313px,#00ffc7 372px,#00ffb2 418px,#00ff8f 466px,#00ff86 490px,#00ff87 546px,#0f8 551px,#09ff88 552px,#18ff88 553px,#26ff87 555px,#38ff87 559px,#51ff85 568px,#70ff82 584px,#95ff7d 611px,#beff74 649px,#f2ff64 707px,#fffe5d 725px,#ffe142 767px,#ffcc24 807px,#ffc614 820px,#ffc40a 824px,#ffc300 826px,#ffab00 905px,#f90 991px)"></i>
<i style="top:730px;left:357px;width:993px;background:linear-gradient(90deg,#00ffe9 0,#00ffe0 215px,#00ffd6 314px,#00ffc7 373px,#00ffb4 415px,#00ff9b 450px,#00ff8f 467px,#00ff86 495px,#00ff89 549px,#19ff89 551px,#27ff89 553px,#42ff87 560px,#5cff86 571px,#7bff82 589px,#a1ff7c 619px,#d7ff6f 673px,#fffe5f 722px,#ffde41 769px,#ffcc28 805px,#ffc415 822px,#ffc20d 826px,#ffc102 828px,#ffbf00 833px,#ffa600 920px,#ff9800 993px)"></i>
<i style="top:732px;left:357px;width:996px;background:linear-gradient(90deg,#00ffea 0,#00ffde 246px,#00ffd4 328px,#00ffc4 383px,#00ffae 426px,#00ff91 466px,#00ff87 495px,#00ff8a 548px,#19ff8a 550px,#27ff8a 552px,#38ff89 556px,#4dff88 563px,#6fff85 580px,#96ff80 608px,#c6ff76 653px,#ffff63 719px,#ffde44 767px,#ffca29 807px,#ffc218 824px,#ffc00c 830px,#ffbf09 831px,#ffbf00 832px,#fa0 900px,#ff9600 996px)"></i>
<i style="top:734px;left:357px;width:999px;background:linear-gradient(90deg,#00ffea 0,#00ffe0 222px,#00ffd6 320px,#00ffc8 375px,#00ffb0 425px,#00ff94 463px,#00ff89 491px,#00ff8b 544px,#00ff8c 547px,#1aff8c 549px,#31ff8b 553px,#4bff8a 561px,#6aff87 576px,#8cff83 599px,#b4ff7b 634px,#e6ff6e 687px,#fffe64 719px,#ffe049 762px,#ffc82a 809px,#ffbf16 829px,#ffbd0c 834px,#ffbd08 835px,#ffbc00 836px,#ffa400 921px,#ff9500 999px)"></i>
<i style="top:736px;left:358px;width:1000px;background:linear-gradient(90deg,#00ffea 0,#00ffe0 225px,#00ffd6 322px,#00ffc7 379px,#00ffaf 427px,#00ff95 462px,#00ff8a 491px,#00ff8d 545px,#1aff8d 547px,#28ff8d 549px,#43ff8b 556px,#61ff89 569px,#80ff86 588px,#a8ff80 620px,#dcff73 673px,#fffe66 716px,#ffdd49 764px,#ffc428 814px,#ffbd17 831px,#ffbb0b 837px,#ffba00 839px,#ffa400 916px,#ff9400 1000px)"></i>
<i style="top:738px;left:358px;width:1003px;background:linear-gradient(90deg,#00ffea 0,#00ffe0 229px,#00ffd6 324px,#00ffc7 381px,#00ffb0 427px,#00ff96 463px,#00ff8b 491px,#00ff8e 544px,#1bff8e 546px,#32ff8e 550px,#48ff8c 557px,#5fff8b 567px,#7cff88 584px,#a0ff83 612px,#ccff79 654px,#fffe69 714px,#ffde4c 761px,#ffc42c 812px,#ffbd1d 830px,#ffb910 839px,#ffb806 842px,#ffb700 843px,#ff9e00 939px,#ff9300 1003px)"></i>
<i style="top:740px;left:358px;width:1006px;background:linear-gradient(90deg,#00ffea 0,#00ffe2 203px,#00ffd7 321px,#00ffc9 377px,#00ffb6 419px,#00ff96 465px,#00ff8c 494px,#00ff90 543px,#10ff90 544px,#23ff8f 546px,#36ff8f 550px,#53ff8d 560px,#75ff8a 578px,#9cff85 607px,#d2ff7a 659px,#ffff6b 712px,#ffe152 754px,#ffc12b 817px,#ffb919 837px,#ffb60a 845px,#ffb500 847px,#ff9d00 939px,#ff9100 1006px)"></i>
<i style="top:742px;left:359px;width:1008px;background:linear-gradient(90deg,#00ffeb 0,#00ffe0 236px,#00ffd7 323px,#00ffc9 378px,#00ffb6 419px,#00ff98 463px,#00ff8e 490px,#00ff8f 528px,#00ff91 541px,#11ff91 542px,#1cff91 543px,#2eff90 546px,#43ff8f 552px,#5cff8e 562px,#7dff8b 581px,#a3ff85 611px,#caff7d 648px,#ffff6e 709px,#ffe356 748px,#ffc636 803px,#ffb920 833px,#ffb511 845px,#ffb309 848px,#ffb301 849px,#ff9e00 931px,#ff9000 1008px)"></i>
<i style="top:744px;left:359px;width:1011px;background:linear-gradient(90deg,#00ffeb 0,#00ffe0 239px,#00ffd7 326px,#00ffc9 381px,#00ffb1 429px,#00ff9b 460px,#00ff90 487px,#00ff8f 507px,#00ff92 540px,#12ff92 541px,#24ff92 543px,#3aff91 548px,#51ff90 556px,#6fff8d 571px,#94ff89 597px,#bcff82 633px,#f1ff75 690px,#fffe6f 709px,#ffe157 749px,#ffbc2b 823px,#ffb417 845px,#ffb10c 851px,#ffb108 852px,#ffb100 853px,#f90 949px,#ff8f00 1011px)"></i>
<i style="top:746px;left:359px;width:1013px;background:linear-gradient(90deg,#00ffeb 0,#00ffe0 243px,#00ffd6 334px,#00ffc8 385px,#00ffb1 431px,#00ff9d 459px,#00ff91 487px,#00ff90 512px,#00ff94 539px,#13ff93 540px,#24ff93 542px,#37ff93 546px,#4fff91 554px,#71ff8f 571px,#97ff8a 598px,#c8ff81 643px,#ffff72 706px,#ffe55c 741px,#ffc73e 796px,#ffb724 835px,#ffb115 850px,#ffaf0b 855px,#ffaf00 857px,#f90 945px,#ff8e00 1013px)"></i>
<i style="top:748px;left:360px;width:1015px;background:linear-gradient(90deg,#00ffeb 0,#00ffe2 217px,#00ffd7 331px,#00ffc8 387px,#00ffb3 428px,#00ff9c 462px,#00ff91 492px,#00ff94 534px,#00ff95 537px,#14ff95 538px,#24ff94 540px,#37ff94 544px,#54ff92 554px,#71ff90 569px,#96ff8c 595px,#c2ff84 635px,#f8ff76 694px,#fffe73 704px,#ffdf59 748px,#ffbb31 820px,#ffb11b 848px,#ffad0d 857px,#ffad06 859px,#ffac00 860px,#ff9500 962px,#ff8c00 1015px)"></i>
<i style="top:750px;left:360px;width:1018px;background:linear-gradient(90deg,#00ffeb 0,#00ffe3 206px,#00ffd8 328px,#00ffca 383px,#00ffb5 427px,#00ff9e 461px,#00ff93 489px,#00ff94 524px,#00ff96 536px,#14ff96 537px,#25ff96 539px,#3bff95 544px,#52ff94 552px,#6eff92 566px,#94ff8d 592px,#bcff87 628px,#eaff7c 676px,#fffe75 702px,#ffdf5b 746px,#ffbb34 818px,#ffb01f 847px,#ffac11 859px,#ffab0a 862px,#fa0 864px,#ff9500 958px,#ff8b00 1018px)"></i>
<i style="top:752px;left:361px;width:1020px;background:linear-gradient(90deg,#00ffec 0,#00ffe1 239px,#00ffd6 341px,#00ffc7 392px,#00ffb2 432px,#00ffa2 455px,#00ff94 488px,#00ff95 521px,#00ff97 534px,#15ff97 535px,#25ff97 537px,#38ff96 541px,#52ff95 550px,#70ff93 565px,#94ff8f 590px,#beff88 627px,#faff7a 692px,#fffe77 700px,#ffe15f 740px,#ffc442 795px,#ffb024 844px,#ffaa14 860px,#ffa909 865px,#ffa800 867px,#ff9200 968px,#ff8a00 1020px)"></i>
<i style="top:754px;left:361px;width:1022px;background:linear-gradient(90deg,#00ffec 0,#00ffe1 243px,#00ffd7 338px,#00ffc9 389px,#00ffb4 431px,#00ffa4 454px,#00ff96 486px,#00ff95 511px,#0f9 533px,#16ff99 534px,#26ff98 536px,#3cff98 541px,#57ff96 551px,#77ff94 568px,#9cff8f 595px,#c5ff88 633px,#f8ff7c 688px,#fffe79 698px,#ffdc5d 746px,#ffbd3c 809px,#ffad22 850px,#ffa812 865px,#ffa708 869px,#ffa600 870px,#ff9200 965px,#ff8900 1022px)"></i>
<i style="top:756px;left:361px;width:1025px;background:linear-gradient(90deg,#00ffec 0,#00ffe2 233px,#00ffd8 335px,#00ffcb 386px,#00ffb7 428px,#00ffa2 460px,#00ff97 488px,#00ff97 516px,#00ff9a 532px,#16ff9a 533px,#26ff9a 535px,#3cff99 540px,#55ff98 549px,#74ff95 565px,#9aff91 592px,#cbff89 637px,#ffff7c 695px,#ffe062 738px,#ffc346 793px,#ffad27 847px,#ffa716 866px,#ffa408 873px,#ffa400 874px,#ff8d00 986px,#f80 1025px)"></i>
<i style="top:758px;left:362px;width:1027px;background:linear-gradient(90deg,#00ffec 0,#00ffe3 222px,#00ffd7 343px,#00ffc8 395px,#00ffb4 433px,#00ffa4 458px,#00ff98 488px,#00ff98 513px,#00ff9b 530px,#17ff9b 531px,#26ff9b 533px,#39ff9a 537px,#53ff99 546px,#71ff97 561px,#99ff92 589px,#c5ff8b 629px,#f9ff80 685px,#fffe7d 694px,#ffe266 732px,#ffc247 792px,#ffac28 848px,#ffa518 867px,#ffa30d 874px,#ffa207 876px,#ffa200 877px,#ff8d00 982px,#ff8600 1027px)"></i>
<i style="top:760px;left:362px;width:1030px;background:linear-gradient(90deg,#00ffec 0,#00ffe3 226px,#00ffd8 340px,#00ffca 392px,#00ffb6 432px,#00ffa8 453px,#00ff9a 485px,#0f9 507px,#00ff9c 528px,#05ff9c 529px,#18ff9c 530px,#27ff9c 532px,#39ff9c 536px,#53ff9a 545px,#73ff98 561px,#98ff94 587px,#c6ff8d 628px,#ffff80 691px,#ffe268 730px,#ffc249 790px,#ffac2c 845px,#ffa51b 867px,#ffa10f 877px,#ffa006 880px,#ffa000 881px,#ff8a00 994px,#ff8500 1030px)"></i>
<i style="top:762px;left:363px;width:1032px;background:linear-gradient(90deg,#00ffec 0,#00ffe4 214px,#00ffd8 342px,#00ffca 394px,#00ffb5 434px,#00ffa0 470px,#00ff9a 494px,#00ff9d 525px,#00ff9e 526px,#08ff9e 527px,#18ff9e 528px,#27ff9d 530px,#3dff9d 535px,#58ff9b 545px,#75ff99 560px,#9bff95 587px,#c8ff8e 628px,#fbff83 683px,#fffd80 691px,#ffe069 730px,#ffbf48 794px,#ffaa2b 849px,#ffa219 872px,#ff9f0e 880px,#ff9f09 882px,#ff9e00 884px,#ff8a00 990px,#ff8400 1032px)"></i>
<i style="top:764px;left:363px;width:1034px;background:linear-gradient(90deg,#00ffed 0,#00ffe2 248px,#00ffd7 350px,#00ffc8 401px,#00ffa1 472px,#00ff9b 496px,#00ff9f 525px,#0aff9f 526px,#19ff9f 527px,#28ff9f 529px,#3dff9e 534px,#56ff9d 543px,#77ff9a 560px,#9fff96 589px,#c6ff90 625px,#f2ff87 671px,#fffe82 688px,#ffe16b 727px,#ffc14d 787px,#ffa72a 854px,#ff9f17 878px,#ff9d0b 885px,#ff9d09 886px,#ff9c00 888px,#ff8600 1008px,#ff8300 1034px)"></i>
<i style="top:766px;left:363px;width:1037px;background:linear-gradient(90deg,#00ffed 0,#00ffe4 223px,#00ffd9 342px,#0fc 393px,#00ffb8 433px,#00ffa6 464px,#00ff9d 490px,#00ff9e 515px,#00ffa0 524px,#19ffa0 526px,#28ffa0 528px,#3aff9f 532px,#4fff9e 539px,#6dff9c 553px,#94ff99 579px,#c2ff92 619px,#fdff86 682px,#fffb82 690px,#ffde6a 730px,#ffbf4d 790px,#ffa529 859px,#ff9e18 880px,#ff9b0d 888px,#ff9b08 890px,#ff9a00 891px,#ff8400 1017px,#ff8200 1037px)"></i>
<i style="top:768px;left:364px;width:1039px;background:linear-gradient(90deg,#00ffed 0,#00ffe3 241px,#00ffd8 349px,#00ffca 399px,#00ffb7 435px,#00ffa1 477px,#00ff9e 500px,#00ffa1 522px,#1affa1 524px,#2effa1 527px,#44ffa0 533px,#5dff9f 543px,#79ff9d 558px,#a0ff99 586px,#cbff92 626px,#ffff87 682px,#ffe06e 724px,#ffc050 784px,#ffa32a 860px,#ff9c18 883px,#ff990d 891px,#ff9907 893px,#f90 894px,#ff8600 996px,#ff8000 1039px)"></i>
<i style="top:770px;left:364px;width:1042px;background:linear-gradient(90deg,#00ffed 0,#00ffe4 231px,#00ffd8 352px,#00ffcb 399px,#00ffa3 476px,#00ff9f 499px,#00ffa3 521px,#1bffa3 523px,#29ffa2 525px,#3effa2 530px,#57ffa1 539px,#76ff9e 555px,#9eff9a 583px,#d2ff93 631px,#ffff89 681px,#ffe373 717px,#ffc355 776px,#ffa632 849px,#ff9c1e 880px,#ff9812 892px,#ff970a 896px,#ff9700 898px,#ff8600 993px,#ff7f00 1042px)"></i>
<i style="top:772px;left:364px;width:1045px;background:linear-gradient(90deg,#00ffed 0,#00ffe6 203px,#00ffda 344px,#0fc 398px,#00ffba 434px,#00ffa3 480px,#00ffa0 502px,#00ffa4 520px,#1bffa4 522px,#29ffa4 524px,#3bffa3 528px,#55ffa2 537px,#73ffa0 552px,#99ff9c 578px,#c3ff97 615px,#f6ff8d 668px,#fffe8a 680px,#ffde70 723px,#ffbd51 787px,#ff9f2a 867px,#ff9818 890px,#ff960e 898px,#ff9505 901px,#ff9500 902px,#ff8200 1013px,#ff7e00 1045px)"></i>
<i style="top:774px;left:365px;width:1046px;background:linear-gradient(90deg,#0fe 0,#00ffe4 239px,#00ffd8 357px,#00ffc9 407px,#00ffa7 472px,#00ffa2 494px,#00ffa5 518px,#10ffa5 519px,#1cffa5 520px,#2fffa5 523px,#45ffa4 529px,#5effa3 539px,#7affa1 554px,#a1ff9d 582px,#d5ff95 630px,#fffe8c 677px,#ffdf73 719px,#ffbf55 779px,#ffa130 858px,#ff971b 890px,#ff940e 901px,#ff9309 903px,#ff9300 905px,#ff7e00 1034px,#ff7d00 1046px)"></i>
<i style="top:776px;left:365px;width:1049px;background:linear-gradient(90deg,#0fe 0,#00ffe4 244px,#00ffd9 355px,#0fc 402px,#00ffa6 478px,#00ffa3 503px,#00ffa6 517px,#11ffa6 518px,#24ffa6 520px,#38ffa6 524px,#53ffa5 533px,#72ffa3 548px,#9bff9f 576px,#c7ff99 615px,#ffff8f 674px,#ffdf75 717px,#ffbd55 781px,#ff9d2d 867px,#ff9519 896px,#ff920d 905px,#ff9100 909px,#ff7c00 1044px,#ff7c00 1049px)"></i>
<i style="top:778px;left:366px;width:1051px;background:linear-gradient(90deg,#0fe 0,#00ffe5 232px,#00ffd9 357px,#00ffcb 406px,#00ffa7 478px,#00ffa5 499px,#00ffa8 515px,#12ffa8 516px,#1dffa8 517px,#34ffa7 521px,#4bffa6 528px,#65ffa5 539px,#8affa2 561px,#b4ff9d 595px,#dfff97 637px,#fffe8f 673px,#ffdf76 714px,#ffbd57 778px,#ff9f32 859px,#ff9520 890px,#ff910f 907px,#ff9007 910px,#ff9000 911px,#ff7f00 1014px,#ff7a00 1051px)"></i>
<i style="top:780px;left:366px;width:1054px;background:linear-gradient(90deg,#0fe 0,#00ffe6 221px,#00ffda 354px,#0fc 406px,#00ffa9 477px,#00ffa6 500px,#00ffa9 514px,#13ffa9 515px,#25ffa9 517px,#38ffa8 521px,#4effa7 528px,#65ffa6 538px,#86ffa4 557px,#b4ff9f 593px,#f1ff95 654px,#fffe91 671px,#ffde77 714px,#ffbe5a 774px,#ffa037 853px,#ff9421 892px,#ff9013 908px,#ff8e07 914px,#ff8e00 915px,#ff7a00 1043px,#ff7900 1054px)"></i>
<i style="top:782px;left:367px;width:1055px;background:linear-gradient(90deg,#0fe 0,#00ffe6 225px,#00ffd9 361px,#00ffcb 409px,#00ffab 474px,#00ffa7 498px,#0fa 512px,#13ffaa 513px,#1effaa 514px,#30ffaa 517px,#43ffa9 522px,#5dffa8 532px,#7dffa6 549px,#a2ffa2 576px,#d0ff9c 617px,#fffe93 668px,#ffde79 711px,#ffbc5a 775px,#ff9c33 862px,#ff9322 893px,#ff8e14 910px,#ff8c09 916px,#ff8c00 918px,#ff7900 1046px,#ff7800 1055px)"></i>
<i style="top:784px;left:367px;width:1058px;background:linear-gradient(90deg,#00ffef 0,#00ffe5 246px,#00ffd9 364px,#0fc 409px,#00ffab 477px,#00ffa9 503px,#00ffab 511px,#14ffab 512px,#26ffab 514px,#3dffab 519px,#59ffa9 529px,#7affa7 546px,#a0ffa4 573px,#caff9f 610px,#ffff95 666px,#ffe07c 706px,#ffc060 764px,#ffa03c 847px,#ff9225 892px,#ff8d16 912px,#ff8b09 920px,#ff8a00 922px,#f70 1058px)"></i>
<i style="top:786px;left:367px;width:1061px;background:linear-gradient(90deg,#00ffef 0,#00ffe6 235px,#00ffda 362px,#00ffce 406px,#00ffad 477px,#0fa 500px,#00ffad 510px,#15ffad 511px,#26ffac 513px,#39ffac 517px,#4fffab 524px,#6affaa 536px,#8bffa7 556px,#b4ffa3 588px,#eeff9a 645px,#fffe97 665px,#ffe07e 704px,#ffc062 762px,#ffa03f 844px,#ff9023 899px,#ff8a12 919px,#ff8908 924px,#f80 926px,#ff7600 1061px)"></i>
<i style="top:788px;left:368px;width:1063px;background:linear-gradient(90deg,#00ffef 0,#00ffe7 223px,#00ffdc 350px,#00ffd2 397px,#00ffad 479px,#00ffad 506px,#00ffae 508px,#16ffae 509px,#26ffae 511px,#39ffad 515px,#50ffac 522px,#72ffab 538px,#9cffa7 566px,#ccffa1 608px,#ff9 661px,#ffdb7c 709px,#ffba5d 773px,#ff9c3b 853px,#ff8d21 905px,#ff8810 923px,#ff8708 927px,#ff8700 928px,#ff7400 1063px)"></i>
<i style="top:790px;left:368px;width:1066px;background:linear-gradient(90deg,#00ffef 0,#00ffe7 228px,#00ffdb 361px,#00ffcf 408px,#00ffb0 475px,#00ffad 498px,#00ffaf 507px,#16ffaf 508px,#27ffaf 510px,#3effae 515px,#5affad 525px,#7bffab 542px,#a3ffa8 570px,#daffa1 620px,#ffff9a 660px,#ffe384 695px,#ffc166 755px,#ffa144 835px,#ff8e27 899px,#ff8714 924px,#ff8507 931px,#ff8500 932px,#ff7300 1066px)"></i>
<i style="top:792px;left:369px;width:1067px;background:linear-gradient(90deg,#00fff0 0,#00ffe6 248px,#00ffda 369px,#00ffcd 414px,#00ffb1 475px,#00ffae 494px,#00ffb0 505px,#17ffb0 506px,#27ffb0 508px,#3affb0 512px,#50ffaf 519px,#6bffae 531px,#8cffab 551px,#b4ffa7 582px,#ecffa0 636px,#fffe9c 658px,#ffde81 700px,#ffbe65 758px,#ff9f43 839px,#ff8c26 903px,#ff8615 925px,#ff840c 932px,#ff8406 934px,#ff8400 935px,#ff7300 1059px,#ff7200 1067px)"></i>
<i style="top:794px;left:369px;width:1070px;background:linear-gradient(90deg,#00fff0 0,#00ffe7 238px,#00ffda 372px,#00ffcd 416px,#00ffb2 476px,#00ffb0 499px,#00ffb2 504px,#18ffb1 505px,#28ffb1 507px,#42ffb1 513px,#5fffb0 524px,#7fffae 541px,#a7ffaa 570px,#d9ffa4 615px,#fffe9e 656px,#ffde83 698px,#ffbe67 756px,#ff9e44 839px,#ff8b28 903px,#ff8516 928px,#ff830b 936px,#ff8205 938px,#ff8200 939px,#ff7100 1070px)"></i>
<i style="top:796px;left:369px;width:1073px;background:linear-gradient(90deg,#00fff0 0,#00ffe7 243px,#00ffdb 369px,#00ffcf 414px,#00ffb3 477px,#00ffb2 499px,#00ffb3 502px,#05ffb3 503px,#19ffb3 504px,#2effb2 507px,#45ffb2 513px,#5fffb1 523px,#7cffaf 538px,#a4ffac 566px,#d4ffa6 609px,#ffff9f 654px,#ffe288 690px,#ffc06a 750px,#ffa049 830px,#ff8a29 904px,#ff8316 932px,#ff810b 940px,#ff8000 943px,#ff7000 1073px)"></i>
<i style="top:798px;left:370px;width:1075px;background:linear-gradient(90deg,#00fff0 0,#00ffe8 231px,#00ffdc 365px,#00ffd0 413px,#00ffb4 477px,#00ffb4 500px,#08ffb4 501px,#19ffb4 502px,#28ffb4 504px,#3bffb3 508px,#54ffb3 516px,#73ffb1 531px,#96ffaf 553px,#c6ffaa 593px,#ffffa1 651px,#ffe38b 686px,#ffc671 735px,#ffa753 807px,#ff8829 907px,#ff8115 936px,#ff7f0a 943px,#ff7f00 946px,#ff7000 1065px,#ff6f00 1075px)"></i>
<i style="top:800px;left:370px;width:1077px;background:linear-gradient(90deg,#00fff0 0,#00ffe9 220px,#0fd 361px,#00ffd3 407px,#00ffb5 479px,#00ffb5 499px,#0affb5 500px,#1affb5 501px,#29ffb5 503px,#43ffb4 509px,#60ffb3 520px,#80ffb2 537px,#abffae 568px,#dcffa8 613px,#fffea3 650px,#ffe089 689px,#ffc26f 741px,#ffa14e 821px,#ff892d 902px,#ff8019 935px,#ff7e0c 946px,#ff7d07 948px,#ff7d00 949px,#ff6e00 1077px)"></i>
<i style="top:802px;left:371px;width:1079px;background:linear-gradient(90deg,#00fff1 0,#00ffe7 257px,#00ffda 382px,#00ffcd 424px,#00ffb7 476px,#00ffb6 497px,#1affb6 499px,#29ffb6 501px,#3cffb6 505px,#57ffb5 514px,#76ffb3 529px,#a0ffb0 557px,#ccffac 595px,#ffffa4 647px,#ffdf8a 687px,#ffc271 738px,#ffa352 812px,#ff872c 906px,#ff7f19 938px,#ff7c0c 949px,#ff7c07 951px,#ff7b00 952px,#ff6c00 1079px)"></i>
<i style="top:804px;left:371px;width:1082px;background:linear-gradient(90deg,#00fff1 0,#00ffe8 247px,#00ffdc 373px,#00ffd0 419px,#00ffb8 477px,#00ffb8 496px,#1bffb8 498px,#2affb7 500px,#40ffb7 505px,#5cffb6 515px,#7affb5 530px,#a3ffb2 558px,#d3ffad 600px,#ffffa6 645px,#ffdf8c 685px,#ffc171 738px,#ffa051 818px,#ff8429 916px,#ff7c16 945px,#ff7a0b 953px,#ff7a06 955px,#ff7a00 956px,#ff6b00 1082px)"></i>
<i style="top:806px;left:372px;width:1084px;background:linear-gradient(90deg,#00fff1 0,#00ffe9 235px,#0fd 369px,#00ffd2 415px,#00ffb9 478px,#00ffb9 494px,#1cffb9 496px,#2affb9 498px,#40ffb8 503px,#55ffb8 510px,#75ffb6 525px,#9dffb3 551px,#cdffaf 592px,#ffffa8 642px,#ffe08e 681px,#ffc072 737px,#ffa254 810px,#ff842d 910px,#ff7c1b 941px,#ff790d 955px,#ff7805 958px,#ff7800 959px,#ff6a00 1084px)"></i>
<i style="top:808px;left:372px;width:1086px;background:linear-gradient(90deg,#00fff1 0,#00ffe9 241px,#0fd 372px,#00ffd3 415px,#0fb 476px,#00ffba 493px,#10ffba 494px,#1cffba 495px,#30ffba 498px,#47ffb9 504px,#61ffb8 514px,#83ffb7 532px,#abffb4 561px,#d7ffaf 600px,#ffffa9 641px,#ffe594 672px,#ffc679 723px,#ffa75b 794px,#ff8a39 885px,#ff7d21 936px,#ff7812 955px,#ff7708 961px,#f70 963px,#ff6900 1086px)"></i>
<i style="top:810px;left:372px;width:1089px;background:linear-gradient(90deg,#00fff2 0,#00ffe8 263px,#00ffdc 382px,#00ffd0 426px,#00ffbc 477px,#0fb 492px,#1fb 493px,#1dffbb 494px,#2bffbb 496px,#41ffbb 501px,#5dffba 511px,#7bffb8 526px,#a7ffb5 556px,#dcffb0 603px,#fffeab 640px,#ffde90 680px,#ffc176 731px,#ffa45a 800px,#ff8534 900px,#ff7a1d 946px,#ff760e 962px,#ff7507 965px,#ff7500 967px,#ff6800 1089px)"></i>
<i style="top:812px;left:373px;width:1091px;background:linear-gradient(90deg,#00fff2 0,#00ffe9 252px,#0fd 378px,#00ffd2 423px,#00ffbe 474px,#00ffbd 490px,#12ffbd 491px,#25ffbd 493px,#35ffbc 496px,#4effbc 503px,#6cffba 516px,#8dffb9 535px,#bcffb5 571px,#ffffad 636px,#ffdf92 676px,#ffc178 728px,#ffa65e 791px,#ff893c 882px,#ff7b25 935px,#ff7614 960px,#ff740a 967px,#ff7407 968px,#ff7300 969px,#f60 1091px)"></i>
<i style="top:814px;left:373px;width:1094px;background:linear-gradient(90deg,#00fff2 0,#00ffe9 258px,#0fd 381px,#00ffd2 426px,#00ffbf 475px,#00ffbe 489px,#13ffbe 490px,#26ffbe 492px,#3affbd 496px,#51ffbd 503px,#6cffbc 515px,#87ffba 530px,#afffb7 559px,#e1ffb2 604px,#ffffae 635px,#ffe196 671px,#ffc47c 720px,#ffa660 788px,#ff873b 887px,#ff7924 941px,#ff7414 963px,#ff730b 970px,#ff7206 972px,#ff7200 973px,#ff6500 1094px)"></i>
<i style="top:816px;left:374px;width:1096px;background:linear-gradient(90deg,#00fff2 0,#00ffea 246px,#00ffde 377px,#00ffd3 425px,#00ffc0 475px,#00ffbf 487px,#13ffbf 488px,#26ffbf 490px,#3affbf 494px,#54ffbe 502px,#73ffbd 516px,#99ffba 540px,#c6ffb7 576px,#ffffb0 632px,#ffe298 667px,#ffc27c 720px,#ffa45f 791px,#ff873d 883px,#ff7825 941px,#ff7314 966px,#ff7109 974px,#ff7000 976px,#ff6400 1096px)"></i>
<i style="top:818px;left:374px;width:1098px;background:linear-gradient(90deg,#00fff2 0,#00ffeb 235px,#00ffdf 373px,#00ffd5 421px,#00ffc1 476px,#00ffc0 486px,#14ffc0 487px,#1fffc0 488px,#32ffc0 491px,#4cffbf 498px,#69ffbe 510px,#8bffbd 529px,#b6ffba 561px,#e8ffb5 607px,#fffeb1 631px,#ffdb94 675px,#ffba76 735px,#ff9b57 813px,#ff7b2e 926px,#ff731b 961px,#ff700e 975px,#ff6f05 979px,#ff6f00 980px,#ff6300 1098px)"></i>
<i style="top:820px;left:375px;width:1100px;background:linear-gradient(90deg,#00fff3 0,#00ffe9 273px,#00ffde 383px,#00ffd4 426px,#00ffc3 473px,#00ffc2 484px,#15ffc2 485px,#20ffc2 486px,#37ffc1 490px,#52ffc1 498px,#6dffc0 510px,#8dffbe 528px,#baffbb 562px,#f1ffb5 613px,#fffeb2 629px,#ffe09a 665px,#ffc27f 715px,#ffa05e 795px,#ff8038 903px,#ff7320 956px,#ff6f13 974px,#ff6e08 981px,#ff6d00 983px,#ff6200 1100px)"></i>
<i style="top:822px;left:375px;width:1103px;background:linear-gradient(90deg,#00fff3 0,#00ffeb 247px,#00ffe0 373px,#00ffd6 423px,#00ffc3 478px,#00ffc3 483px,#16ffc3 484px,#27ffc3 486px,#3bffc2 490px,#55ffc2 498px,#74ffc1 512px,#99ffbf 535px,#cbffbb 575px,#fffeb4 627px,#ffde99 666px,#ffbf7e 719px,#ffa060 793px,#ff813b 896px,#ff7426 949px,#ff6e15 975px,#ff6c0a 984px,#ff6c01 986px,#ff6000 1103px)"></i>
<i style="top:824px;left:376px;width:1105px;background:linear-gradient(90deg,#00fff3 0,#00ffec 235px,#00ffe1 368px,#00ffd5 428px,#00ffc5 474px,#00ffc4 481px,#17ffc4 482px,#28ffc4 484px,#3cffc4 488px,#58ffc3 497px,#78ffc2 512px,#9fffc0 537px,#d0ffbc 577px,#fffeb6 624px,#ffdc99 666px,#ffba7b 726px,#ff9b5c 805px,#ff7e39 904px,#ff7225 953px,#ff6c14 979px,#ff6b09 987px,#ff6a07 988px,#ff6a00 989px,#ff5f00 1105px)"></i>
<i style="top:826px;left:376px;width:1107px;background:linear-gradient(90deg,#00fff3 0,#00ffed 222px,#00ffe2 364px,#00ffd6 428px,#00ffc6 475px,#00ffc5 480px,#17ffc5 481px,#28ffc5 483px,#3cffc5 487px,#53ffc4 494px,#6effc3 506px,#8effc2 524px,#b9ffbf 556px,#f2ffba 608px,#fffeb7 623px,#ffe19f 657px,#ffc283 709px,#ffa669 772px,#ff894a 860px,#ff7228 950px,#ff6c17 979px,#ff690d 989px,#ff6906 992px,#ff6900 993px,#ff5e00 1107px)"></i>
<i style="top:828px;left:377px;width:1109px;background:linear-gradient(90deg,#00fff4 0,#00ffeb 265px,#00ffdf 389px,#00ffd4 436px,#00ffc7 474px,#00ffc7 478px,#18ffc7 479px,#29ffc6 481px,#3cffc6 485px,#56ffc6 493px,#75ffc4 507px,#9affc3 530px,#c8ffbf 566px,#ffffba 619px,#ffe2a1 653px,#ffc184 707px,#ffa166 781px,#ff8040 889px,#ff7026 957px,#ff6a16 983px,#ff680b 993px,#ff6700 996px,#ff5d00 1109px)"></i>
<i style="top:830px;left:377px;width:1112px;background:linear-gradient(90deg,#00fff4 0,#00ffec 255px,#00ffe0 386px,#00ffd6 433px,#00ffc8 476px,#00ffc8 477px,#19ffc8 478px,#29ffc8 480px,#3dffc7 484px,#59ffc7 493px,#7bffc6 509px,#a6ffc3 537px,#daffbf 581px,#fffebb 618px,#ffe0a1 654px,#ffc185 705px,#ffa369 774px,#ff8649 865px,#ff712b 950px,#ff6817 986px,#ff660c 996px,#ff6604 999px,#f60 1000px,#ff5c00 1112px)"></i>
<i style="top:832px;left:377px;width:1115px;background:linear-gradient(90deg,#00fff4 0,#00ffec 262px,#00ffe0 390px,#00ffd4 442px,#00ffc9 475px,#06ffc9 476px,#19ffc9 477px,#23ffc9 478px,#39ffc9 482px,#54ffc8 490px,#6fffc7 502px,#8fffc6 520px,#b4ffc4 547px,#e4ffc0 589px,#fffebc 617px,#ffe3a5 648px,#ffc48a 697px,#ffa66d 764px,#ff884e 855px,#ff6e29 958px,#ff6717 989px,#ff650c 1000px,#ff6400 1004px,#ff5a00 1115px)"></i>
<i style="top:834px;left:378px;width:1116px;background:linear-gradient(90deg,#00fff4 0,#00ffed 250px,#00ffe1 386px,#00ffd5 441px,#00ffcb 473px,#09ffca 474px,#1affca 475px,#2affca 477px,#3dffca 481px,#57ffc9 489px,#78ffc8 504px,#a0ffc6 529px,#d6ffc3 573px,#fffebe 614px,#ffe0a4 649px,#ffc188 700px,#ffa26b 771px,#ff854c 862px,#ff6c28 962px,#ff6617 992px,#ff630d 1002px,#ff6307 1005px,#ff6300 1006px,#ff5900 1116px)"></i>
<i style="top:836px;left:378px;width:1119px;background:linear-gradient(90deg,#00fff5 0,#00ffec 274px,#00ffe0 396px,#00ffd5 443px,#0fc 472px,#0bffcc 473px,#1bffcc 474px,#2affcb 476px,#3effcb 480px,#5affcb 489px,#7cffc9 505px,#a3ffc8 530px,#d4ffc4 570px,#fffec0 612px,#ffe0a5 648px,#ffc28b 696px,#ffa670 759px,#ff8750 851px,#ff6d2d 954px,#ff6519 993px,#ff620b 1007px,#ff6106 1009px,#ff6100 1010px,#ff5800 1119px)"></i>
<i style="top:838px;left:379px;width:1121px;background:linear-gradient(90deg,#00fff5 0,#00ffed 264px,#00ffe1 393px,#00ffd5 445px,#00ffcd 470px,#1bffcd 472px,#2bffcd 474px,#42ffcc 479px,#5fffcc 489px,#80ffcb 505px,#adffc8 535px,#e6ffc4 584px,#fffec1 610px,#ffe1a8 643px,#ffc18b 695px,#ffa16d 767px,#ff824c 866px,#ff6b2b 961px,#ff631a 994px,#ff600e 1008px,#ff6006 1012px,#ff5f00 1013px,#ff5700 1121px)"></i>
<i style="top:840px;left:379px;width:1124px;background:linear-gradient(90deg,#00fff5 0,#0fe 253px,#00ffe3 383px,#00ffd7 442px,#00ffce 469px,#1cffce 471px,#2bffce 473px,#3effce 477px,#58ffcd 485px,#79ffcc 500px,#9effcb 523px,#ccffc8 559px,#ffffc3 607px,#ffe2aa 640px,#ffc490 687px,#ffa875 748px,#ff8b58 831px,#ff6a2c 961px,#ff6118 1001px,#ff5f0c 1013px,#ff5e05 1016px,#ff5e00 1017px,#f50 1124px)"></i>
<i style="top:842px;left:380px;width:1126px;background:linear-gradient(90deg,#00fff5 0,#0fe 260px,#00ffe4 379px,#00ffd8 441px,#00ffd0 467px,#1dffcf 469px,#2cffcf 471px,#3fffcf 475px,#5bffce 484px,#7dffcd 500px,#a4ffcc 525px,#d1ffc9 561px,#fffec4 605px,#ffe0aa 640px,#ffc18e 690px,#ffa372 756px,#ff8350 855px,#ff682b 967px,#ff6019 1002px,#ff5d0c 1016px,#ff5c04 1019px,#ff5c00 1020px,#ff5400 1126px)"></i>
<i style="top:844px;left:380px;width:1128px;background:linear-gradient(90deg,#00fff5 0,#00ffef 248px,#00ffe4 384px,#00ffd8 444px,#00ffd1 466px,#1dffd1 468px,#2cffd0 470px,#43ffd0 475px,#60ffd0 485px,#81ffcf 501px,#b1ffcc 533px,#eaffc8 582px,#ffffc6 603px,#ffe6b1 630px,#ffc896 675px,#ffa878 741px,#ff8857 836px,#ff682e 962px,#ff5e19 1006px,#ff5c0d 1019px,#ff5b07 1022px,#ff5b00 1024px,#ff5300 1128px)"></i>
<i style="top:846px;left:381px;width:1130px;background:linear-gradient(90deg,#00fff6 0,#00ffef 255px,#00ffe5 380px,#00ffd9 443px,#00ffd2 464px,#11ffd2 465px,#1effd2 466px,#32ffd2 469px,#4affd1 475px,#65ffd1 485px,#85ffd0 501px,#adffce 528px,#daffcb 565px,#fffec7 601px,#ffe0ad 635px,#ffc090 686px,#ffa072 759px,#ff8050 859px,#ff672f 962px,#ff5e1c 1004px,#ff5a0d 1022px,#ff5a06 1025px,#ff5900 1026px,#ff5200 1130px)"></i>
<i style="top:848px;left:381px;width:1133px;background:linear-gradient(90deg,#00fff6 0,#00ffef 264px,#00ffe4 392px,#00ffd6 456px,#00ffd3 463px,#12ffd3 464px,#1effd3 465px,#2dffd3 467px,#40ffd3 471px,#5cffd2 480px,#80ffd1 497px,#a7ffd0 522px,#d6ffcd 560px,#fffec9 599px,#ffdead 636px,#ffbf91 686px,#ffa376 749px,#ff8254 849px,#ff652e 968px,#ff5b19 1012px,#ff590c 1026px,#ff5806 1029px,#ff5800 1030px,#ff5000 1133px)"></i>
<i style="top:850px;left:382px;width:1135px;background:linear-gradient(90deg,#00fff6 0,#00fff0 251px,#00ffe5 388px,#00ffd8 451px,#00ffd5 461px,#13ffd4 462px,#1fffd4 463px,#33ffd4 466px,#4effd4 473px,#71ffd3 487px,#96ffd2 508px,#c5ffcf 543px,#f9ffcc 590px,#fffdc9 598px,#ffe1b1 629px,#ffc396 676px,#ffa67a 738px,#ff885c 825px,#ff6632 959px,#ff5b1d 1008px,#ff570f 1027px,#ff5605 1032px,#ff5600 1033px,#ff4f00 1135px)"></i>
<i style="top:852px;left:382px;width:1138px;background:linear-gradient(90deg,#00fff6 0,#00fff0 260px,#00ffe6 386px,#00ffd9 451px,#00ffd6 460px,#14ffd6 461px,#20ffd6 462px,#33ffd6 465px,#4bffd5 471px,#66ffd5 481px,#86ffd4 497px,#b3ffd2 527px,#eaffcf 574px,#fffecc 595px,#ffe2b4 626px,#ffc599 670px,#ffa77d 733px,#ff885e 822px,#ff6533 960px,#ff591c 1014px,#ff560e 1031px,#ff5508 1035px,#f50 1037px,#ff4e00 1138px)"></i>
<i style="top:854px;left:383px;width:1139px;background:linear-gradient(90deg,#00fff7 0,#00fff0 268px,#00ffe5 397px,#00ffd8 456px,#00ffd7 458px,#15ffd7 459px,#28ffd7 461px,#3dffd7 465px,#55ffd6 472px,#73ffd6 485px,#92ffd5 502px,#bfffd3 534px,#f4ffcf 581px,#fffece 592px,#ffdfb2 627px,#ffc096 676px,#ffa279 742px,#ff8158 842px,#ff602d 979px,#ff5618 1023px,#ff540a 1037px,#ff5300 1040px,#ff4c00 1139px)"></i>
<i style="top:856px;left:383px;width:1142px;background:linear-gradient(90deg,#00fff7 0,#00fff0 277px,#00ffe7 388px,#00ffda 453px,#00ffd8 457px,#16ffd8 458px,#21ffd8 459px,#34ffd8 462px,#4fffd8 469px,#69ffd7 479px,#8cffd6 497px,#b6ffd4 526px,#e7ffd2 567px,#fffed0 590px,#ffdfb3 626px,#ffc097 674px,#ffa079 744px,#ff8058 843px,#ff5f2e 979px,#ff561b 1022px,#ff530e 1038px,#ff5207 1042px,#ff5100 1044px,#ff4b00 1142px)"></i>
<i style="top:858px;left:384px;width:1144px;background:linear-gradient(90deg,#00fff7 0,#00fff1 266px,#00ffe7 392px,#00ffda 455px,#17ffda 456px,#29ffd9 458px,#3dffd9 462px,#52ffd9 468px,#70ffd8 480px,#93ffd7 499px,#c1ffd5 532px,#f9ffd2 581px,#fffdd0 589px,#ffe0b6 621px,#ffbf98 673px,#ffa07a 741px,#ff815b 836px,#ff5d2d 984px,#ff5419 1028px,#ff510b 1043px,#ff5006 1045px,#ff5000 1046px,#ff4a00 1144px)"></i>
<i style="top:860px;left:384px;width:1147px;background:linear-gradient(90deg,#00fff7 0,#00fff2 253px,#00ffe8 390px,#00ffdb 454px,#18ffdb 455px,#29ffdb 457px,#3effdb 461px,#56ffda 468px,#74ffda 481px,#90ffd9 496px,#beffd7 528px,#f4ffd4 575px,#fffed3 586px,#ffe2b9 617px,#ffc19b 667px,#ffa27e 733px,#ff815c 833px,#ff6034 968px,#ff541e 1023px,#ff5010 1043px,#ff4e06 1049px,#ff4e00 1050px,#ff4800 1147px)"></i>
<i style="top:862px;left:385px;width:1148px;background:linear-gradient(90deg,#00fff8 0,#00fff1 284px,#00ffe8 394px,#00ffdc 452px,#18ffdc 453px,#2affdc 455px,#3effdc 459px,#59ffdb 467px,#7bffdb 482px,#a6ffd9 508px,#d9ffd7 548px,#fffed4 583px,#ffdeb7 619px,#ffc09c 666px,#ffa27f 730px,#ff805d 833px,#ff5f34 968px,#ff5421 1019px,#ff4f13 1042px,#ff4d08 1051px,#ff4d00 1053px,#ff4700 1148px)"></i>
<i style="top:864px;left:385px;width:1151px;background:linear-gradient(90deg,#00fff8 0,#00fff1 294px,#00ffe7 407px,#0fd 451px,#19ffdd 452px,#2affdd 454px,#3fffdd 458px,#5cffdd 467px,#7dffdc 482px,#a2ffdb 504px,#d5ffd9 543px,#ffffd6 581px,#ffe2bd 612px,#ffc6a2 654px,#ffa684 718px,#ff8a68 797px,#ff6d48 904px,#ff572b 999px,#ff4e17 1041px,#ff4c0a 1054px,#ff4b00 1057px,#ff4500 1151px)"></i>
<i style="top:866px;left:386px;width:1153px;background:linear-gradient(90deg,#00fff8 0,#00fff2 283px,#00ffe8 404px,#00ffdf 449px,#1affdf 450px,#2bffdf 452px,#3fffde 456px,#57ffde 463px,#78ffde 477px,#a1ffdc 501px,#d2ffda 538px,#fffed7 579px,#ffdfbb 613px,#ffc09e 661px,#ffa080 729px,#ff7f5f 829px,#ff582f 990px,#ff4f1c 1035px,#ff4b0e 1054px,#ff4a07 1058px,#ff4900 1060px,#f40 1153px)"></i>
<i style="top:868px;left:386px;width:1156px;background:linear-gradient(90deg,#00fff8 0,#00fff3 272px,#00ffe9 403px,#00ffe0 447px,#07ffe0 448px,#1bffe0 449px,#2bffe0 451px,#3fffe0 455px,#5affdf 463px,#7affdf 477px,#a0ffde 499px,#d5ffdc 539px,#fffed9 577px,#ffdfbc 612px,#ffc3a3 653px,#ffa384 719px,#ff8061 823px,#ff5c37 969px,#ff4e1f 1033px,#ff4910 1056px,#ff4809 1061px,#ff4801 1063px,#ff4300 1156px)"></i>
<i style="top:870px;left:387px;width:1158px;background:linear-gradient(90deg,#00fff9 0,#00fff3 282px,#00ffea 400px,#00ffe2 445px,#09ffe1 446px,#1bffe1 447px,#2cffe1 449px,#44ffe1 454px,#62ffe1 464px,#88ffe0 482px,#b6ffde 512px,#e9ffdc 554px,#fffeda 575px,#ffe0bf 607px,#ffc2a3 652px,#ffa386 716px,#ff876a 795px,#ff6544 925px,#ff5229 1012px,#ff4917 1050px,#ff470a 1063px,#ff4606 1065px,#ff4600 1066px,#ff4100 1158px)"></i>
<i style="top:872px;left:387px;width:1160px;background:linear-gradient(90deg,#00fff9 0,#00fff3 294px,#00ffe9 414px,#00ffe3 444px,#0bffe3 445px,#1cffe3 446px,#2cffe3 448px,#40ffe2 452px,#58ffe2 459px,#79ffe2 473px,#a1ffe1 496px,#d0ffdf 531px,#ffd 572px,#ffe2c2 603px,#ffc3a5 649px,#ffa488 711px,#ff8367 806px,#ff5e3d 952px,#ff4e26 1023px,#ff4715 1056px,#ff450a 1067px,#ff4405 1069px,#f40 1070px,#ff4000 1160px)"></i>
<i style="top:874px;left:388px;width:1162px;background:linear-gradient(90deg,#00fff9 0,#00fff4 282px,#00ffeb 405px,#00ffe4 442px,#1dffe4 444px,#2dffe4 446px,#40ffe4 450px,#55ffe3 456px,#73ffe3 468px,#98ffe2 488px,#c4ffe1 519px,#fbffdf 566px,#fffddd 571px,#ffdec0 605px,#ffbfa3 652px,#ffa085 718px,#ff8065 813px,#ff5f40 943px,#ff4d27 1023px,#ff4615 1059px,#ff430a 1070px,#ff4305 1072px,#ff4300 1073px,#ff3e00 1162px)"></i>
<i style="top:876px;left:388px;width:1165px;background:linear-gradient(90deg,#00fffa 0,#00fff4 295px,#00ffeb 411px,#00ffe5 441px,#1dffe5 443px,#2dffe5 445px,#41ffe5 449px,#61ffe5 459px,#7fffe4 473px,#a2ffe3 493px,#d1ffe2 528px,#ffffe0 568px,#ffe3c6 597px,#ffc2a7 645px,#ffa58b 704px,#ff856c 792px,#ff6448 919px,#ff4d29 1021px,#ff4518 1058px,#ff420e 1071px,#ff4104 1076px,#ff4100 1077px,#ff3c00 1165px)"></i>
<i style="top:878px;left:389px;width:1167px;background:linear-gradient(90deg,#00fffa 0,#00fff5 283px,#00ffed 401px,#00ffe7 439px,#1effe7 441px,#2dffe6 443px,#41ffe6 447px,#5cffe6 455px,#7effe6 470px,#a7ffe5 494px,#d9ffe3 532px,#fffee1 566px,#ffe3c7 595px,#ffc6ad 635px,#ffa68d 699px,#ff8e76 762px,#ff7158 861px,#ff4d2c 1016px,#ff4419 1059px,#ff400e 1073px,#ff3f07 1078px,#ff3f00 1080px,#ff3b00 1167px)"></i>
<i style="top:880px;left:389px;width:1169px;background:linear-gradient(90deg,#00fffa 0,#00fff5 297px,#00ffec 416px,#00ffe8 438px,#1fffe8 440px,#34ffe8 443px,#4dffe8 449px,#69ffe7 459px,#91ffe7 479px,#beffe6 509px,#faffe3 559px,#fffee3 564px,#ffe1c7 595px,#ffc0a8 643px,#ffa28b 706px,#ff856f 786px,#ff5f46 930px,#ff4928 1030px,#ff4116 1068px,#ff3e09 1081px,#ff3d00 1083px,#ff3900 1169px)"></i>
<i style="top:882px;left:390px;width:1171px;background:linear-gradient(90deg,#00fffa 0,#00fff6 284px,#0fe 407px,#00ffe9 436px,#12ffe9 437px,#1fffe9 438px,#2effe9 440px,#42ffe9 444px,#5cffe9 452px,#79ffe8 464px,#a0ffe8 486px,#ceffe7 519px,#ffffe5 561px,#ffe0c8 593px,#ffc1aa 639px,#ffa28d 701px,#ff846f 786px,#ff6049 922px,#ff4828 1032px,#ff3f16 1071px,#ff3c0a 1083px,#ff3c06 1085px,#ff3b00 1086px,#ff3800 1171px)"></i>
<i style="top:884px;left:390px;width:1174px;background:linear-gradient(90deg,#00fffb 0,#00fff5 324px,#00ffec 429px,#00ffeb 435px,#13ffeb 436px,#20ffeb 437px,#2fffea 439px,#4affea 445px,#6affea 456px,#92ffe9 476px,#bfffe8 506px,#f7ffe7 552px,#fffee6 560px,#ffdfc8 593px,#ffc1ac 636px,#ffa490 695px,#ff8773 774px,#ff6651 894px,#ff472a 1030px,#ff3e19 1069px,#ff3b0d 1085px,#ff3a05 1089px,#ff3900 1090px,#ff3600 1174px)"></i>
<i style="top:886px;left:391px;width:1176px;background:linear-gradient(90deg,#00fffb 0,#00fff6 314px,#0fe 422px,#00ffec 433px,#14ffec 434px,#29ffec 436px,#3effec 440px,#51ffec 445px,#6fffeb 456px,#94ffeb 475px,#c2ffea 506px,#f9ffe8 551px,#fffee7 557px,#ffdec9 591px,#ffc1ad 634px,#ffa28f 696px,#ff8371 782px,#ff5f4a 919px,#ff462b 1030px,#ff3c18 1074px,#ff380b 1089px,#ff3700 1093px,#ff3400 1176px)"></i>
<i style="top:888px;left:391px;width:1179px;background:linear-gradient(90deg,#00fffb 0,#00fff7 304px,#00ffef 423px,#00ffed 432px,#15ffed 433px,#21ffed 434px,#30ffed 436px,#4bffed 442px,#68ffed 452px,#8affec 468px,#b8ffec 497px,#f4ffea 545px,#ffffe9 555px,#ffe3d0 583px,#ffc9b6 619px,#ffab9a 673px,#ff8e7d 745px,#ff6957 873px,#ff462e 1024px,#ff3a19 1076px,#ff360b 1093px,#ff3500 1097px,#ff3200 1179px)"></i>
<i style="top:890px;left:392px;width:1180px;background:linear-gradient(90deg,#00fffb 0,#00fff7 320px,#00fff0 423px,#00ffef 430px,#16ffef 431px,#22ffef 432px,#36ffee 435px,#52ffee 442px,#72ffee 454px,#9affed 475px,#c7ffed 506px,#feffeb 551px,#ffdbc9 590px,#ffbdac 635px,#ff9e8e 700px,#ff8171 783px,#ff5f4e 911px,#ff422a 1038px,#ff3817 1082px,#ff340a 1096px,#f30 1100px,#ff3000 1180px)"></i>
<i style="top:892px;left:392px;width:1183px;background:linear-gradient(90deg,#00fffc 0,#00fff7 338px,#00fff0 429px,#17fff0 430px,#2afff0 432px,#40fff0 436px,#5bfff0 444px,#79ffef 456px,#a1ffef 478px,#d9ffee 518px,#fffeec 551px,#fdc 586px,#ffc0b1 628px,#ffa192 690px,#ff8274 776px,#ff5d4d 915px,#ff412b 1039px,#ff3719 1082px,#ff330d 1098px,#ff3106 1102px,#ff3100 1103px,#ff2e00 1183px)"></i>
<i style="top:894px;left:393px;width:1185px;background:linear-gradient(90deg,#00fffc 0,#00fff8 329px,#00fff1 427px,#18fff1 428px,#2bfff1 430px,#40fff1 434px,#5cfff1 442px,#7dfff1 456px,#a3fff0 477px,#d4ffef 512px,#ffe 548px,#ffe0d1 579px,#ffc0b2 625px,#ffa295 684px,#ff8578 763px,#ff6355 886px,#ff402c 1038px,#ff351a 1083px,#ff310e 1100px,#ff2f05 1105px,#ff2f00 1106px,#ff2c00 1185px)"></i>
<i style="top:896px;left:393px;width:1188px;background:linear-gradient(90deg,#00fffc 0,#00fff9 320px,#00fff3 426px,#19fff3 427px,#2bfff3 429px,#40fff2 433px,#56fff2 439px,#73fff2 450px,#98fff2 469px,#c8fff1 501px,#fffff0 546px,#ffe1d4 576px,#ffc6b9 613px,#ffa69a 673px,#ff887c 751px,#ff665a 871px,#ff3f2d 1038px,#ff331a 1087px,#ff2e0c 1105px,#ff2d05 1109px,#ff2d00 1110px,#ff2a00 1188px)"></i>
<i style="top:898px;left:394px;width:1190px;background:linear-gradient(90deg,#00fffd 0,#00fff9 342px,#00fff4 424px,#19fff4 425px,#2cfff4 427px,#45fff4 432px,#5ffff4 440px,#7cfff4 452px,#a1fff3 472px,#d0fff3 505px,#fffff2 543px,#ffddd1 578px,#ffbdb2 625px,#ffa196 682px,#ff8379 762px,#ff6055 890px,#ff3d2d 1041px,#ff3018 1093px,#ff2b0b 1109px,#ff2a00 1113px,#ff2800 1190px)"></i>
<i style="top:900px;left:394px;width:1192px;background:linear-gradient(90deg,#00fffd 0,#00fff9 366px,#00fff5 423px,#1afff5 424px,#2cfff5 426px,#41fff5 430px,#5dfff5 438px,#7afff5 450px,#9efff5 469px,#cdfff4 501px,#fffff3 542px,#ffded4 575px,#ffc2b8 614px,#ffa198 678px,#ff847b 757px,#ff665c 864px,#ff3b2d 1044px,#ff2e1a 1093px,#ff290d 1111px,#ff2807 1115px,#ff2800 1117px,#ff2500 1192px)"></i>
<i style="top:902px;left:395px;width:1194px;background:linear-gradient(90deg,#00fffd 0,#00fffa 361px,#00fff7 421px,#1bfff7 422px,#2dfff7 424px,#46fff7 429px,#63fff6 438px,#85fff6 453px,#adfff6 476px,#e1fff5 514px,#fffef4 540px,#ffdfd6 571px,#ffbfb7 616px,#ff9d95 684px,#ff7e76 773px,#ff6158 880px,#ff3a2e 1043px,#ff2c1a 1096px,#ff260d 1114px,#ff2506 1118px,#ff2500 1120px,#ff2300 1194px)"></i>
<i style="top:904px;left:395px;width:1197px;background:linear-gradient(90deg,#00fffe 0,#00fffa 389px,#00fff8 419px,#07fff8 420px,#1cfff8 421px,#2dfff8 423px,#42fff8 427px,#5efff8 435px,#7ffff8 449px,#a4fff8 469px,#d6fff7 504px,#fffef6 538px,#ffe2da 566px,#ffc2bb 609px,#ffa39c 669px,#ff8680 744px,#ff6760 852px,#ff392f 1043px,#ff2a1b 1097px,#ff240e 1117px,#ff2206 1122px,#f20 1123px,#ff2000 1197px)"></i>
<i style="top:906px;left:396px;width:1199px;background:linear-gradient(90deg,#00fffe 0,#00fffb 390px,#00fff9 417px,#0afff9 418px,#1cfff9 419px,#2dfff9 421px,#3efff9 424px,#58fff9 431px,#75fff9 442px,#9efff9 463px,#ccfff9 494px,#fffff8 535px,#ffe3dd 562px,#ffc5bf 602px,#ffa7a2 656px,#ff8984 731px,#ff6863 842px,#ff362e 1049px,#ff281b 1100px,#ff210e 1119px,#ff1f05 1125px,#ff1e00 1126px,#ff1d00 1199px)"></i>
<i style="top:908px;left:397px;width:1201px;background:linear-gradient(90deg,#00fffe 0,#00fffb 415px,#0cfffb 416px,#1dfffb 417px,#2efffb 419px,#47fffb 424px,#67fffb 434px,#88fffb 449px,#adfffa 470px,#e3fffa 509px,#fffef9 533px,#ffded9 565px,#ffc0bc 606px,#ff9f9b 670px,#ff7f7b 758px,#ff5753 906px,#ff322b 1061px,#ff2318 1108px,#ff1d0c 1124px,#ff1b04 1128px,#ff1b00 1129px,#ff1900 1201px)"></i>
<i style="top:910px;left:397px;width:1203px;background:linear-gradient(90deg,#00fffe 0,#00fffc 414px,#1efffc 416px,#35fffc 419px,#4ffffc 425px,#6ffffc 436px,#92fffc 453px,#b5fffc 474px,#eafffc 513px,#fffefb 531px,#ffdcd9 565px,#ffbebb 608px,#ffa19f 663px,#ff8380 743px,#ff615e 863px,#ff322e 1054px,#ff211a 1108px,#ff190d 1127px,#ff1604 1132px,#ff1600 1133px,#ff1500 1203px)"></i>
<i style="top:912px;left:398px;width:1205px;background:linear-gradient(90deg,#0ff 0,#00fffe 412px,#1ffffe 414px,#2ffffe 416px,#48fffe 421px,#65fffe 430px,#87fffe 445px,#aefffd 467px,#e6fffd 507px,#fffffd 528px,#ffe5e4 552px,#ffc9c7 588px,#ffaead 633px,#ff9291 696px,#ff7473 787px,#ff2e2c 1063px,#ff1c18 1115px,#ff140d 1130px,#ff1106 1134px,#ff1000 1136px,#ff0f00 1205px)"></i>
<i style="top:914px;left:398px;width:1208px;background:linear-gradient(90deg,#0ff 0,#0ff 411px,#1fffff 413px,#2fffff 415px,#4ff 419px,#60ffff 427px,#84ffff 442px,#adffff 465px,#e0ffff 501px,#fffefe 527px,#ffdfdf 557px,#ffbebe 602px,#f99 676px,#ff7878 771px,#ff4c4c 940px,#ff2d2d 1063px,#ff1919 1117px,#ff0d0d 1133px,#ff0606 1138px,#f00 1139px,#f00 1208px)"></i>
<i style="top:916px;left:399px;width:1210px;background:linear-gradient(90deg,#0ff 0,#00feff 409px,#12feff 410px,#20feff 411px,#30feff 413px,#44feff 417px,#5dfeff 424px,#7ffeff 438px,#a1feff 456px,#d2fdff 489px,#fffdff 525px,#ffe5e6 548px,#ffc5c7 588px,#ffa6a7 644px,#ff898a 715px,#ff696a 820px,#ff2b2d 1064px,#ff191d 1111px,#ff0e14 1127px,#ff0611 1132px,#ff0110 1133px,#ff000f 1210px)"></i>
<i style="top:918px;left:399px;width:1212px;background:linear-gradient(90deg,#00feff 0,#00fcff 408px,#13fcff 409px,#20fcff 410px,#30fcff 412px,#44fcff 416px,#59fcff 422px,#74fcff 432px,#9afcff 451px,#d3fcff 489px,#fffbfe 525px,#ffdadd 558px,#ffbbbe 602px,#ff999c 670px,#ff7c7e 752px,#ff5a5d 875px,#ff2e32 1050px,#ff1920 1106px,#ff0d19 1123px,#ff0617 1127px,#ff0116 1128px,#ff0015 1212px)"></i>
<i style="top:920px;left:400px;width:1214px;background:linear-gradient(90deg,#00feff 0,#00fbff 406px,#14fbff 407px,#21fbff 408px,#36fbff 411px,#4cfbff 416px,#6afbff 426px,#8bfbff 441px,#b6faff 467px,#edfaff 508px,#fff9fe 524px,#ffdbe0 554px,#ffbfc3 593px,#ffa3a7 644px,#ff8488 723px,#ff6367 835px,#ff2c32 1051px,#ff1a24 1098px,#ff0d1d 1117px,#ff061b 1121px,#ff001b 1123px,#ff0019 1214px)"></i>
<i style="top:922px;left:400px;width:1217px;background:linear-gradient(90deg,#00feff 0,#00fbff 378px,#00f9ff 405px,#15f9ff 406px,#2af9ff 408px,#40f9ff 412px,#5cf9ff 420px,#7af9ff 432px,#a0f9ff 452px,#d0f9ff 485px,#fff8ff 523px,#ffd7dd 557px,#ffb9bf 600px,#ff9ba0 660px,#ff7e83 739px,#ff5b61 861px,#ff2f37 1036px,#ff1c28 1089px,#ff0d20 1112px,#ff061f 1116px,#ff001e 1118px,#ff001c 1217px)"></i>
<i style="top:924px;left:401px;width:1219px;background:linear-gradient(90deg,#00fdff 0,#00fbff 341px,#00f8ff 403px,#16f8ff 404px,#22f8ff 405px,#36f8ff 408px,#4cf8ff 413px,#6af8ff 423px,#90f8ff 441px,#bef7ff 470px,#fbf7ff 518px,#fff4fc 524px,#ffd5dc 557px,#ffb7bf 600px,#ff9fa6 647px,#ff848a 718px,#ff686f 809px,#ff2c36 1041px,#ff1728 1093px,#ff0d23 1106px,#ff0622 1110px,#f02 1112px,#ff001f 1219px)"></i>
<i style="top:926px;left:401px;width:1222px;background:linear-gradient(90deg,#00fdff 0,#00faff 343px,#00f7ff 402px,#16f7ff 403px,#22f7ff 404px,#31f7ff 406px,#4cf7ff 412px,#67f7ff 421px,#8cf6ff 438px,#bcf6ff 468px,#f3f5ff 511px,#fff4fe 522px,#ffd3dc 557px,#ffb5bd 602px,#ff949c 670px,#ff737b 766px,#ff4952 926px,#ff2a37 1042px,#ff172a 1088px,#ff0c26 1102px,#ff0025 1107px,#f02 1222px)"></i>
<i style="top:928px;left:402px;width:1223px;background:linear-gradient(90deg,#00fdff 0,#00f9ff 344px,#00f5ff 400px,#17f5ff 401px,#2af5ff 403px,#40f5ff 407px,#5cf5ff 415px,#79f5ff 427px,#9df5ff 446px,#ccf4ff 478px,#fff4ff 520px,#ffd8e3 548px,#ffbcc6 587px,#ff9fa8 642px,#ff838c 713px,#ff656e 813px,#ff2a39 1037px,#ff182d 1080px,#ff0c29 1096px,#ff0628 1099px,#ff0027 1101px,#ff0024 1223px)"></i>
<i style="top:930px;left:403px;width:1225px;background:linear-gradient(90deg,#00fdff 0,#00f8ff 344px,#00f4ff 398px,#18f4ff 399px,#2bf4ff 401px,#40f4ff 405px,#5cf4ff 413px,#7df4ff 427px,#a0f3ff 446px,#d3f3ff 482px,#fff2ff 519px,#ffd9e6 544px,#ffbec9 581px,#ffa3ae 630px,#ff8994 691px,#ff6b75 787px,#ff3c4a 966px,#ff2638 1043px,#ff142e 1081px,#ff092b 1092px,#ff002a 1095px,#ff0026 1225px)"></i>
<i style="top:932px;left:403px;width:1228px;background:linear-gradient(90deg,#00fcff 0,#00f8ff 322px,#00f3ff 397px,#19f3ff 398px,#2bf3ff 400px,#40f3ff 404px,#5cf2ff 412px,#7df2ff 426px,#a4f2ff 448px,#d1f1ff 480px,#fff0fe 519px,#ffd4e2 548px,#ffb8c4 589px,#ff9fab 636px,#ff828e 709px,#ff6571 804px,#ff2c3e 1020px,#ff1832 1070px,#ff0c2e 1085px,#ff072d 1088px,#ff002c 1090px,#ff0028 1228px)"></i>
<i style="top:934px;left:404px;width:1230px;background:linear-gradient(90deg,#00fcff 0,#00f7ff 324px,#00f1ff 395px,#19f1ff 396px,#24f1ff 397px,#3cf1ff 401px,#59f1ff 409px,#7df1ff 424px,#a7f0ff 448px,#d8f0ff 484px,#ffeefe 518px,#ffd0df 550px,#ffb1bf 597px,#ff95a2 656px,#ff7885 735px,#ff515f 875px,#ff2c40 1015px,#ff1a35 1060px,#ff0d30 1078px,#ff072f 1082px,#ff002f 1084px,#ff002a 1230px)"></i>
<i style="top:936px;left:404px;width:1232px;background:linear-gradient(90deg,#00fcff 0,#00f6ff 326px,#00f0ff 394px,#1af0ff 395px,#2bf0ff 397px,#3cf0ff 400px,#59f0ff 408px,#76f0ff 420px,#9aefff 439px,#cef 474px,#ffedff 517px,#ffd4e4 544px,#ffb9c9 581px,#ff9dac 634px,#ff7e8c 714px,#ff5a69 837px,#ff2e43 1004px,#ff1b37 1053px,#ff0e32 1072px,#ff0731 1077px,#ff0031 1079px,#ff002c 1232px)"></i>
<i style="top:938px;left:405px;width:1234px;background:linear-gradient(90deg,#00fbff 0,#00f7ff 284px,#00efff 391px,#03efff 392px,#1befff 393px,#2cefff 395px,#40efff 399px,#55efff 405px,#72eeff 416px,#96eeff 435px,#c5edff 467px,#fcecff 513px,#ffe8fb 519px,#ffcadc 553px,#ffaebe 598px,#ff91a1 658px,#ff7585 737px,#ff5263 862px,#ff2e44 998px,#ff1a39 1049px,#ff0e35 1066px,#ff0733 1071px,#f03 1073px,#ff002e 1234px)"></i>
<i style="top:940px;left:405px;width:1237px;background:linear-gradient(90deg,#00fbff 0,#00f6ff 290px,#0ef 390px,#07eeff 391px,#1bedff 392px,#2cedff 394px,#40edff 398px,#55edff 404px,#6fedff 414px,#8fedff 430px,#c2ecff 464px,#f9eaff 510px,#ffe9fe 516px,#ffcbde 550px,#ffabbd 600px,#ff8c9d 668px,#ff6a7b 771px,#ff4357 917px,#ff2842 1012px,#ff1639 1051px,#ff0b36 1064px,#ff0035 1068px,#ff002f 1237px)"></i>
<i style="top:942px;left:406px;width:1239px;background:linear-gradient(90deg,#00fbff 0,#00f5ff 294px,#00edff 387px,#00ecff 388px,#0aecff 389px,#1cecff 390px,#2cecff 392px,#40ecff 396px,#55ecff 402px,#6fecff 412px,#92ebff 430px,#bdeaff 459px,#ede9ff 498px,#ffe8ff 514px,#ffcade 549px,#ffb0c4 588px,#ff96a8 642px,#ff7c8e 709px,#ff5a6d 824px,#ff2e48 988px,#ff1b3d 1037px,#ff0d38 1056px,#ff0737 1060px,#ff0037 1062px,#ff0031 1239px)"></i>
<i style="top:944px;left:407px;width:1240px;background:linear-gradient(90deg,#00faff 0,#00f6ff 253px,#0ef 369px,#00ebff 386px,#0cebff 387px,#1cebff 388px,#2cebff 390px,#40ebff 394px,#55ebff 400px,#73eaff 412px,#95eaff 430px,#c2e9ff 461px,#fae7ff 508px,#ffe6fe 514px,#ffcee5 540px,#ffb2c7 581px,#ff94a8 642px,#ff798d 713px,#ff596d 825px,#ff2b47 992px,#ff183d 1036px,#ff0b3a 1052px,#ff0039 1056px,#ff0032 1240px)"></i>
<i style="top:946px;left:407px;width:1243px;background:linear-gradient(90deg,#00faff 0,#00f4ff 282px,#00ebff 380px,#00eaff 385px,#1deaff 387px,#2deaff 389px,#40e9ff 393px,#55e9ff 399px,#73e9ff 411px,#98e8ff 431px,#c4e7ff 462px,#f9e6ff 507px,#ffe5fe 513px,#ffcae2 543px,#ffadc3 588px,#ff91a6 647px,#ff758a 723px,#ff546a 839px,#ff2e4b 978px,#ff193f 1030px,#ff0b3b 1047px,#ff003b 1051px,#f03 1243px)"></i>
<i style="top:948px;left:408px;width:1245px;background:linear-gradient(90deg,#00faff 0,#00f4ff 267px,#00ebff 371px,#00e9ff 383px,#1de8ff 385px,#2de8ff 387px,#41e8ff 391px,#5be8ff 399px,#7be7ff 413px,#a1e7ff 435px,#d0e6ff 470px,#ffe4ff 511px,#ffc8e1 543px,#ffabc3 588px,#ff8ea4 650px,#ff6e84 742px,#ff4760 882px,#ff2a4a 984px,#ff1841 1026px,#ff0b3d 1041px,#ff003d 1045px,#ff0035 1245px)"></i>
<i style="top:950px;left:408px;width:1248px;background:linear-gradient(90deg,#00f9ff 0,#00f4ff 252px,#00ecff 355px,#00e7ff 382px,#1ee7ff 384px,#33e7ff 387px,#4ce7ff 393px,#6ae6ff 404px,#8ae6ff 420px,#bae5ff 452px,#f0e3ff 497px,#ffe1fe 512px,#ffc7e1 543px,#ffadc6 582px,#ff8fa7 645px,#ff758c 718px,#ff576f 821px,#ff2b4c 977px,#ff1842 1021px,#ff0b3f 1036px,#ff003e 1040px,#ff0036 1248px)"></i>
<i style="top:952px;left:409px;width:1250px;background:linear-gradient(90deg,#00f9ff 0,#00f3ff 258px,#00eaff 360px,#00e6ff 380px,#11e6ff 381px,#1ee6ff 382px,#2de6ff 384px,#41e6ff 388px,#5be5ff 396px,#7be5ff 410px,#a6e4ff 436px,#dae2ff 476px,#ffe0fe 510px,#ffc2de 546px,#ffa5bf 594px,#ff88a1 658px,#ff6982 750px,#ff3e5b 906px,#ff274b 982px,#ff1643 1018px,#ff0b41 1030px,#ff0040 1034px,#ff0037 1250px)"></i>
<i style="top:954px;left:409px;width:1252px;background:linear-gradient(90deg,#00f9ff 0,#00f2ff 263px,#00e9ff 358px,#00e5ff 379px,#12e5ff 380px,#1fe5ff 381px,#33e4ff 384px,#45e4ff 388px,#65e4ff 399px,#8be3ff 418px,#b8e2ff 448px,#f2e0ff 497px,#ffdffe 510px,#ffc4e2 541px,#ffa9c4 585px,#ff8fa9 639px,#ff6f89 727px,#ff4965 864px,#ff294e 972px,#ff1745 1012px,#ff0b42 1025px,#ff0042 1029px,#ff0038 1252px)"></i>
<i style="top:956px;left:410px;width:1254px;background:linear-gradient(90deg,#00f8ff 0,#00f3ff 230px,#00eaff 342px,#00e3ff 377px,#13e3ff 378px,#1fe3ff 379px,#2ee3ff 381px,#45e3ff 386px,#65e3ff 397px,#89e2ff 415px,#b6e1ff 445px,#eedfff 492px,#ffddfe 509px,#ffc1e0 542px,#ffa4c1 590px,#ff89a5 649px,#ff6e89 728px,#ff4765 864px,#ff2a50 964px,#ff1747 1006px,#ff0b44 1019px,#ff0043 1023px,#ff0039 1254px)"></i>
<i style="top:958px;left:411px;width:1256px;background:linear-gradient(90deg,#00f8ff 0,#00f2ff 236px,#00e8ff 347px,#00e2ff 375px,#14e2ff 376px,#20e2ff 377px,#2ee2ff 379px,#45e2ff 384px,#62e1ff 394px,#80e1ff 408px,#ace0ff 436px,#e0deff 478px,#ffdbfe 508px,#ffbfdf 542px,#ffa4c2 587px,#ff86a3 653px,#ff6683 748px,#ff3d5e 896px,#ff264f 969px,#ff1448 1004px,#ff0b46 1013px,#ff0045 1017px,#ff003a 1256px)"></i>
<i style="top:960px;left:411px;width:1259px;background:linear-gradient(90deg,#00f8ff 0,#00f0ff 259px,#00e6ff 352px,#00e1ff 374px,#15e1ff 375px,#28e1ff 377px,#3de1ff 381px,#55e0ff 388px,#76e0ff 402px,#9adfff 423px,#bfdeff 450px,#f3dbff 495px,#ffdafe 507px,#ffbedf 542px,#ffa2c2 588px,#ff87a5 648px,#ff6785 743px,#ff4264 873px,#ff2952 956px,#ff184a 993px,#ff0e48 1006px,#ff0447 1011px,#ff0047 1012px,#ff003b 1259px)"></i>
<i style="top:962px;left:412px;width:1261px;background:linear-gradient(90deg,#00f7ff 0,#00f1ff 230px,#00e7ff 338px,#00e0ff 372px,#15e0ff 373px,#28e0ff 375px,#3ddfff 379px,#55dfff 386px,#73dfff 399px,#97deff 419px,#c6dcff 454px,#fed9ff 504px,#ffb8da 548px,#ff9bbc 598px,#ff81a0 661px,#ff6483 749px,#ff3e62 883px,#ff2551 961px,#ff154b 992px,#ff0a49 1003px,#ff0048 1006px,#ff003c 1261px)"></i>
<i style="top:964px;left:412px;width:1263px;background:linear-gradient(90deg,#00f7ff 0,#00f0ff 236px,#00e6ff 337px,#00dfff 371px,#16deff 372px,#21deff 373px,#34deff 376px,#48deff 381px,#62deff 390px,#8df 409px,#b7dbff 441px,#ebd9ff 486px,#ffd7fe 506px,#ffbee2 537px,#ffa2c5 582px,#ff85a5 648px,#ff6788 734px,#ff4468 857px,#ff2854 949px,#ff154d 987px,#ff0a4a 998px,#ff054a 1000px,#ff004a 1001px,#ff003e 1254px,#ff003d 1263px)"></i>
<i style="top:966px;left:413px;width:1265px;background:linear-gradient(90deg,#00f7ff 0,#00efff 240px,#00e5ff 335px,#0df 369px,#17ddff 370px,#29ddff 372px,#3dddff 376px,#54ddff 383px,#6ddcff 393px,#90dbff 412px,#bedaff 445px,#f5d7ff 494px,#ffd6fe 504px,#ffb9df 540px,#ff9dc0 589px,#ff7ea0 661px,#ff5e80 761px,#ff2f5a 922px,#ff1c50 970px,#ff0d4c 990px,#ff054b 994px,#ff004b 995px,#ff003e 1265px)"></i>
<i style="top:968px;left:414px;width:1267px;background:linear-gradient(90deg,#00f6ff 0,#00efff 229px,#00e4ff 333px,#00dcff 367px,#18dcff 368px,#29dcff 370px,#3ddcff 374px,#54dbff 381px,#71dbff 393px,#96daff 414px,#cbd8ff 454px,#ffd5ff 502px,#ffbae1 536px,#ff9ec3 583px,#ff7fa2 655px,#ff5f82 754px,#ff3660 896px,#ff1f53 958px,#ff104e 981px,#ff084d 987px,#ff004d 989px,#ff003f 1267px)"></i>
<i style="top:970px;left:414px;width:1270px;background:linear-gradient(90deg,#00f6ff 0,#00efff 218px,#00e5ff 321px,#00dbff 366px,#18dbff 367px,#29dbff 369px,#3ddbff 373px,#54daff 380px,#71daff 392px,#97d9ff 414px,#c8d6ff 451px,#ffd3ff 502px,#ffb9e1 536px,#ffa0c7 577px,#ff87ab 633px,#ff6a8f 713px,#ff4c72 817px,#ff2859 933px,#ff1651 969px,#ff0a4f 981px,#ff054e 983px,#ff004e 984px,#ff0040 1270px)"></i>
<i style="top:972px;left:415px;width:1271px;background:linear-gradient(90deg,#00f5ff 0,#00f0ff 189px,#00e6ff 306px,#00daff 364px,#19daff 365px,#29daff 367px,#3dd9ff 371px,#5ad9ff 380px,#80d8ff 398px,#b0d6ff 430px,#e9d3ff 479px,#ffd1fe 502px,#ffbae4 531px,#ff9dc5 579px,#ff80a6 645px,#ff5e84 748px,#ff3361 894px,#ff2257 941px,#ff1352 967px,#ff0850 976px,#ff0050 978px,#ff0042 1244px,#ff0041 1271px)"></i>
<i style="top:974px;left:415px;width:1274px;background:linear-gradient(90deg,#00f5ff 0,#0ef 213px,#00e2ff 325px,#00d9ff 362px,#03d9ff 363px,#19d8ff 364px,#2ad8ff 366px,#3dd8ff 370px,#5ad8ff 379px,#7ed7ff 396px,#a9d5ff 424px,#dad3ff 465px,#ffd0fe 501px,#ffb3de 539px,#ff97c0 589px,#ff7ca3 653px,#ff5c83 753px,#ff3362 892px,#ff1d56 947px,#ff0f53 966px,#ff0852 971px,#ff0051 973px,#ff0043 1250px,#ff0042 1274px)"></i>
<i style="top:976px;left:416px;width:1276px;background:linear-gradient(90deg,#00f5ff 0,#00edff 217px,#00e3ff 312px,#00d8ff 360px,#07d7ff 361px,#1ad7ff 362px,#2ad7ff 364px,#3dd7ff 368px,#57d7ff 376px,#78d6ff 391px,#9fd4ff 415px,#d3d2ff 457px,#ffcefe 500px,#ffb4e0 535px,#ff99c4 581px,#ff80a9 638px,#ff6088 734px,#ff3162 890px,#ff2059 935px,#ff1154 958px,#ff0853 965px,#ff0053 967px,#ff0045 1215px,#ff0043 1276px)"></i>
<i style="top:978px;left:417px;width:1278px;background:linear-gradient(90deg,#00f4ff 0,#0ef 191px,#00e3ff 304px,#00d6ff 358px,#0ad6ff 359px,#1ad6ff 360px,#2ad6ff 362px,#3dd6ff 366px,#57d5ff 374px,#78d5ff 389px,#a0d3ff 414px,#cfd1ff 452px,#ffcdff 498px,#ffb2e0 534px,#ff96c2 584px,#ff7da6 644px,#ff5d87 739px,#ff3768 866px,#ff235c 923px,#ff1356 950px,#ff0855 959px,#ff0054 961px,#ff0045 1239px,#f04 1278px)"></i>
<i style="top:980px;left:417px;width:1280px;background:linear-gradient(90deg,#00f4ff 0,#00ecff 212px,#00e0ff 316px,#00d5ff 357px,#0bd5ff 358px,#1bd5ff 359px,#2ad5ff 361px,#3dd5ff 365px,#57d4ff 373px,#76d3ff 387px,#9bd2ff 410px,#c9d0ff 446px,#fcf 497px,#ffaedd 538px,#ff93bf 589px,#ff75a0 661px,#ff537f 769px,#ff2d62 893px,#ff1a5a 936px,#ff0c56 952px,#ff0556 955px,#ff0056 956px,#ff0048 1187px,#f04 1280px)"></i>
<i style="top:982px;left:418px;width:1282px;background:linear-gradient(90deg,#00f4ff 0,#00ecff 203px,#00e0ff 309px,#00d4ff 355px,#1bd4ff 357px,#2bd4ff 359px,#41d3ff 364px,#5cd3ff 373px,#7dd2ff 389px,#aad0ff 419px,#dbcdff 461px,#ffcafe 497px,#ffafe0 533px,#ff93c1 584px,#ff77a3 653px,#ff5986 744px,#ff3166 877px,#ff1c5c 926px,#ff1159 942px,#ff0857 948px,#ff0057 950px,#ff0047 1226px,#ff0045 1282px)"></i>
<i style="top:984px;left:418px;width:1285px;background:linear-gradient(90deg,#00f3ff 0,#00ecff 194px,#00e1ff 297px,#00d3ff 354px,#1cd3ff 356px,#2bd2ff 358px,#3ed2ff 362px,#5cd2ff 372px,#82d1ff 391px,#abcfff 419px,#e1cbff 466px,#ffc8fe 497px,#ffaddf 534px,#ff8ebd 592px,#ff6f9c 672px,#ff4e7d 779px,#ff2762 899px,#ff155b 932px,#ff0a59 942px,#ff0559 944px,#ff0058 945px,#ff0047 1248px,#ff0046 1285px)"></i>
<i style="top:986px;left:419px;width:1287px;background:linear-gradient(90deg,#00f3ff 0,#00ebff 198px,#00dfff 302px,#00d2ff 352px,#1cd1ff 354px,#2bd1ff 356px,#3ed1ff 360px,#5cd0ff 370px,#80cfff 388px,#accdff 418px,#decaff 462px,#ffc7ff 495px,#ffb0e4 526px,#ff93c4 578px,#ff78a7 642px,#ff5787 741px,#ff2f68 871px,#ff1d5f 914px,#ff0f5b 933px,#ff065a 938px,#ff005a 939px,#ff004a 1196px,#ff0047 1287px)"></i>
<i style="top:988px;left:420px;width:1289px;background:linear-gradient(90deg,#00f3ff 0,#00eaff 202px,#00deff 300px,#00d1ff 350px,#1dd0ff 352px,#31d0ff 355px,#48d0ff 361px,#65cfff 372px,#88ceff 391px,#b3ccff 422px,#e7c8ff 469px,#ffc6fe 494px,#fface1 529px,#ff8fc1 583px,#ff72a2 655px,#ff5182 759px,#ff2a66 880px,#ff165e 919px,#ff0c5c 929px,#ff065b 932px,#ff005b 933px,#ff004a 1215px,#ff0047 1289px)"></i>
<i style="top:990px;left:420px;width:1291px;background:linear-gradient(90deg,#00f2ff 0,#00eaff 194px,#00dfff 289px,#00cfff 349px,#11cfff 350px,#1dcfff 351px,#31cfff 354px,#48cfff 360px,#65ceff 371px,#8bcdff 392px,#b6caff 424px,#e5c7ff 467px,#ffc4fe 494px,#ffabe1 529px,#ff90c3 579px,#ff73a5 648px,#ff5688 739px,#ff2a67 875px,#ff1760 913px,#ff0c5d 924px,#ff065d 927px,#ff005d 928px,#ff004f 1135px,#ff0048 1291px)"></i>
<i style="top:992px;left:421px;width:1293px;background:linear-gradient(90deg,#00f2ff 0,#00e9ff 198px,#0df 293px,#00ceff 347px,#12ceff 348px,#1eceff 349px,#2cceff 351px,#3eceff 355px,#59cdff 364px,#78ccff 379px,#99cbff 400px,#c6c8ff 436px,#fbc4ff 488px,#ffc1fd 494px,#ffa6dd 534px,#ff8abe 588px,#ff6ea1 659px,#ff5185 750px,#ff2968 872px,#ff1861 905px,#ff0c5f 918px,#ff065e 921px,#ff005e 922px,#ff004e 1167px,#ff0049 1293px)"></i>
<i style="top:994px;left:422px;width:1295px;background:linear-gradient(90deg,#00f1ff 0,#00eaff 176px,#00deff 282px,#00cdff 345px,#13cdff 346px,#26cdff 348px,#3acdff 352px,#54ccff 360px,#6fcbff 372px,#95caff 395px,#c7c7ff 435px,#ffc1fe 491px,#ffa4dc 534px,#ff87bc 592px,#ff6b9f 663px,#ff4c82 762px,#ff2869 869px,#ff1662 902px,#ff0b60 913px,#ff0660 915px,#ff005f 916px,#ff004f 1167px,#ff0049 1295px)"></i>
<i style="top:996px;left:422px;width:1298px;background:linear-gradient(90deg,#00f1ff 0,#00e8ff 193px,#00dcff 286px,#0cf 344px,#14ccff 345px,#1fccff 346px,#36cbff 350px,#4bcbff 356px,#64caff 366px,#84c9ff 383px,#acc7ff 412px,#d6c4ff 449px,#ffc0fe 491px,#ffa4de 531px,#ff87be 588px,#ff6ba1 659px,#ff4c83 758px,#ff286a 864px,#ff1764 896px,#ff0b61 908px,#ff0661 910px,#ff0061 911px,#ff0050 1152px,#ff004a 1298px)"></i>
<i style="top:998px;left:423px;width:1300px;background:linear-gradient(90deg,#00f1ff 0,#00e8ff 185px,#00dcff 280px,#00cbff 342px,#15cbff 343px,#26caff 345px,#3acaff 349px,#54caff 357px,#76c9ff 373px,#9ec7ff 399px,#ccc4ff 438px,#ffbfff 489px,#ffa7e3 523px,#ff8bc4 575px,#ff70a7 642px,#ff538b 729px,#ff2b6d 851px,#ff1865 889px,#ff0b63 902px,#ff0662 904px,#ff0062 905px,#ff0052 1138px,#ff004b 1300px)"></i>
<i style="top:1000px;left:423px;width:1302px;background:linear-gradient(90deg,#00f0ff 0,#00e8ff 177px,#00dcff 275px,#00caff 341px,#15c9ff 342px,#27c9ff 344px,#3ac9ff 348px,#51c9ff 355px,#6cc8ff 367px,#91c6ff 389px,#bcc3ff 423px,#fabeff 483px,#ffbcfd 491px,#ffa3e0 527px,#ff86c0 583px,#ff6aa2 656px,#ff4984 756px,#ff286d 854px,#ff1767 885px,#ff0b64 897px,#ff0664 899px,#ff0064 900px,#ff0054 1109px,#ff004b 1302px)"></i>
<i style="top:1002px;left:424px;width:1304px;background:linear-gradient(90deg,#00f0ff 0,#00e6ff 192px,#00daff 278px,#00c8ff 339px,#16c8ff 340px,#27c8ff 342px,#3ac8ff 346px,#51c7ff 353px,#72c6ff 368px,#98c5ff 392px,#c8c1ff 432px,#ffbcff 487px,#ffa2e0 526px,#ff85c0 582px,#ff69a3 653px,#ff4a86 748px,#ff2b70 841px,#ff1868 878px,#ff0b66 891px,#ff0665 893px,#ff0065 894px,#f05 1110px,#ff004c 1304px)"></i>
<i style="top:1004px;left:425px;width:1304px;background:linear-gradient(90deg,#00f0ff 0,#00e6ff 184px,#00daff 272px,#00c7ff 337px,#17c7ff 338px,#27c7ff 340px,#3ac7ff 344px,#51c6ff 351px,#70c5ff 365px,#96c3ff 389px,#c1c1ff 424px,#fbf 486px,#ffa0e0 525px,#ff82be 585px,#ff649f 664px,#ff4281 768px,#ff2870 843px,#ff1669 875px,#ff0967 886px,#f06 888px,#ff0056 1108px,#ff004d 1304px)"></i>
<i style="top:1006px;left:425px;width:1302px;background:linear-gradient(90deg,#00efff 0,#00e6ff 177px,#00daff 267px,#00c6ff 336px,#17c6ff 337px,#21c6ff 338px,#36c6ff 342px,#4bc5ff 348px,#68c4ff 360px,#8dc3ff 382px,#b4c0ff 412px,#eabcff 463px,#ffb8fe 487px,#ffa1e2 522px,#ff86c4 573px,#ff68a4 649px,#ff4584 757px,#ff2771 840px,#ff166a 870px,#ff0b68 880px,#ff0668 882px,#ff0068 883px,#ff005a 1056px,#ff004d 1302px)"></i>
<i style="top:1008px;left:426px;width:1295px;background:linear-gradient(90deg,#00efff 0,#00e5ff 181px,#00daff 260px,#00c5ff 334px,#18c5ff 335px,#28c5ff 337px,#3bc5ff 341px,#56c4ff 350px,#77c3ff 366px,#a3c0ff 396px,#d3bcff 439px,#ffb7fe 485px,#ff9bdd 528px,#ff80bf 583px,#ff629f 663px,#ff3f81 770px,#ff2471 841px,#ff156c 865px,#ff0b6a 874px,#ff0669 876px,#ff0069 877px,#ff005a 1068px,#ff004e 1295px)"></i>
<i style="top:1010px;left:427px;width:1288px;background:linear-gradient(90deg,#0ef 0,#00e6ff 161px,#00daff 254px,#00c4ff 331px,#04c4ff 332px,#18c4ff 333px,#28c4ff 335px,#3bc3ff 339px,#56c3ff 348px,#7ac1ff 366px,#a0bfff 392px,#d3bbff 437px,#ffb6fe 484px,#ff9ce0 523px,#ff84c5 570px,#ff6baa 633px,#ff498a 733px,#ff2b75 820px,#ff176d 857px,#ff0b6b 868px,#ff076b 870px,#ff006a 871px,#ff0059 1093px,#ff004f 1288px)"></i>
<i style="top:1012px;left:427px;width:1282px;background:linear-gradient(90deg,#0ef 0,#00e4ff 177px,#00d8ff 258px,#00c3ff 330px,#07c3ff 331px,#19c3ff 332px,#28c3ff 334px,#3bc2ff 338px,#56c2ff 347px,#7ac0ff 365px,#a2beff 393px,#cebaff 432px,#ffb5ff 483px,#ff9ee3 518px,#ff84c6 568px,#ff68a8 638px,#ff4588 742px,#ff2775 824px,#ff166e 853px,#ff0b6c 863px,#ff076c 865px,#ff006c 866px,#ff005c 1054px,#ff0050 1282px)"></i>
<i style="top:1014px;left:428px;width:1275px;background:linear-gradient(90deg,#0ef 0,#00e3ff 179px,#00d8ff 253px,#00c2ff 328px,#0ac2ff 329px,#19c2ff 330px,#28c2ff 332px,#3bc1ff 336px,#56c1ff 345px,#78bfff 362px,#9ebdff 388px,#d1b9ff 433px,#ffb3ff 482px,#ff9ce3 517px,#ff80c3 573px,#ff64a6 644px,#ff468a 735px,#ff2575 823px,#ff136f 851px,#ff076d 859px,#ff006d 860px,#ff005c 1066px,#ff0051 1275px)"></i>
<i style="top:1016px;left:429px;width:1268px;background:linear-gradient(90deg,#00edff 0,#00e4ff 162px,#00d8ff 247px,#00c1ff 326px,#0bc1ff 327px,#1ac1ff 328px,#29c0ff 330px,#3bc0ff 334px,#58bfff 344px,#76beff 359px,#9fbcff 387px,#cdb8ff 428px,#ffb2ff 480px,#ff99e1 519px,#ff80c4 570px,#ff63a6 643px,#ff4188 743px,#ff2677 815px,#ff1471 844px,#ff096f 852px,#ff076f 853px,#ff006f 854px,#ff0060 1015px,#ff0052 1268px)"></i>
<i style="top:1018px;left:429px;width:1262px;background:linear-gradient(90deg,#00edff 0,#00e2ff 176px,#00d6ff 250px,#00c0ff 325px,#1ac0ff 327px,#29bfff 329px,#3fbfff 334px,#5abeff 344px,#76bdff 358px,#9cbbff 384px,#ccb7ff 426px,#ffb1ff 480px,#ff98e2 518px,#ff7dc2 574px,#ff61a6 644px,#ff3f88 744px,#ff2678 810px,#ff1472 839px,#ff0970 847px,#ff0770 848px,#ff0070 849px,#ff005f 1039px,#ff0053 1262px)"></i>
<i style="top:1020px;left:430px;width:1255px;background:linear-gradient(90deg,#00ecff 0,#00e4ff 148px,#00d8ff 236px,#00bfff 323px,#1bbeff 325px,#29beff 327px,#3fbeff 332px,#5abdff 342px,#79bcff 358px,#a1b9ff 386px,#ceb5ff 427px,#ffafff 479px,#ff96e0 519px,#ff7cc3 572px,#ff60a6 643px,#ff3b86 751px,#ff2479 809px,#ff1373 834px,#ff0771 842px,#ff0071 843px,#ff005f 1048px,#ff0054 1255px)"></i>
<i style="top:1022px;left:431px;width:1248px;background:linear-gradient(90deg,#00ecff 0,#00e2ff 161px,#00d7ff 235px,#00beff 320px,#00beff 321px,#1bbdff 323px,#2fbdff 326px,#45bdff 332px,#63bcff 344px,#84baff 363px,#b0b7ff 397px,#e0b2ff 443px,#ffadfe 478px,#ff90db 526px,#ff72ba 590px,#ff549c 673px,#ff2c7e 785px,#ff1b77 818px,#ff0f74 832px,#ff0773 836px,#ff0173 837px,#ff0063 1002px,#f05 1248px)"></i>
<i style="top:1024px;left:431px;width:1242px;background:linear-gradient(90deg,#00ecff 0,#00e1ff 165px,#00d5ff 238px,#00bcff 320px,#10bcff 321px,#1cbcff 322px,#2fbcff 325px,#45bcff 331px,#63baff 343px,#88b9ff 365px,#b3b5ff 399px,#f2aeff 462px,#ffacfe 478px,#ff93e0 518px,#ff78c2 573px,#ff5aa3 652px,#ff3383 764px,#ff1c78 812px,#ff0c75 829px,#ff0074 833px,#ff0063 1010px,#ff0056 1242px)"></i>
<i style="top:1026px;left:432px;width:1235px;background:linear-gradient(90deg,#00ebff 0,#00e2ff 148px,#00d6ff 229px,#00bcff 316px,#0bf 318px,#1bf 319px,#24bbff 321px,#37bbff 325px,#4ebaff 332px,#70b9ff 348px,#97b6ff 374px,#c7b2ff 416px,#ffabff 476px,#ff90de 520px,#ff75c0 577px,#ff57a1 657px,#ff2d81 773px,#ff1979 810px,#ff0c76 823px,#ff0075 827px,#ff0062 1030px,#ff0056 1235px)"></i>
<i style="top:1028px;left:433px;width:1228px;background:linear-gradient(90deg,#00ebff 0,#00e0ff 161px,#00d3ff 235px,#0bf 313px,#00baff 316px,#12baff 317px,#1dbaff 318px,#2fbaff 321px,#42b9ff 326px,#5cb9ff 336px,#7ab7ff 352px,#a2b4ff 381px,#cbb0ff 419px,#f8abff 466px,#ffa9fe 476px,#ff90e0 516px,#ff76c2 571px,#ff54a0 659px,#ff2d82 768px,#ff187a 806px,#ff0a77 818px,#f07 821px,#ff0067 976px,#ff0057 1228px)"></i>
<i style="top:1030px;left:433px;width:1222px;background:linear-gradient(90deg,#00eaff 0,#00e1ff 145px,#00d5ff 222px,#00b9ff 315px,#12b9ff 316px,#1db9ff 317px,#34b9ff 321px,#4eb8ff 329px,#6eb7ff 344px,#95b4ff 370px,#c1b0ff 408px,#faa9ff 468px,#ffa7fe 476px,#ff91e3 511px,#ff74c2 571px,#ff56a3 652px,#f38 747px,#ff1f7d 791px,#ff0f79 810px,#ff0778 814px,#ff0078 816px,#f06 996px,#ff0058 1222px)"></i>
<i style="top:1032px;left:434px;width:1215px;background:linear-gradient(90deg,#00eaff 0,#00e0ff 148px,#00d3ff 225px,#00b9ff 309px,#00b8ff 313px,#13b8ff 314px,#25b8ff 316px,#38b8ff 320px,#53b7ff 329px,#73b5ff 345px,#97b3ff 370px,#c5afff 410px,#ffa7ff 473px,#ff8de0 515px,#ff71c0 575px,#ff53a2 654px,#ff2e86 755px,#ff1a7d 792px,#ff0c7a 806px,#ff0079 810px,#f06 1003px,#ff0059 1215px)"></i>
<i style="top:1034px;left:435px;width:1208px;background:linear-gradient(90deg,#00eaff 0,#00dfff 150px,#00d2ff 223px,#00b8ff 306px,#00b7ff 311px,#14b7ff 312px,#25b7ff 314px,#3cb6ff 319px,#55b6ff 328px,#73b4ff 343px,#9bb1ff 371px,#c7adff 411px,#fea6ff 470px,#ff88dc 521px,#ff71c1 572px,#ff53a3 651px,#ff2c86 754px,#ff197e 788px,#ff0c7b 800px,#ff087b 802px,#ff007b 804px,#ff006a 960px,#ff005a 1208px)"></i>
<i style="top:1036px;left:435px;width:1202px;background:linear-gradient(90deg,#00e9ff 0,#00deff 153px,#00d1ff 223px,#00b8ff 300px,#00b6ff 310px,#15b6ff 311px,#25b6ff 313px,#38b5ff 317px,#53b5ff 326px,#71b3ff 341px,#97b1ff 367px,#c7acff 410px,#ffa4ff 471px,#ff89de 517px,#ff6dbf 577px,#ff4fa1 657px,#ff2b87 752px,#ff187f 784px,#ff0e7d 794px,#ff087c 797px,#ff007c 799px,#ff006a 970px,#ff005b 1202px)"></i>
<i style="top:1038px;left:436px;width:1195px;background:linear-gradient(90deg,#00e9ff 0,#0df 155px,#00ceff 228px,#00b8ff 295px,#00b5ff 308px,#15b5ff 309px,#1fb5ff 310px,#34b4ff 314px,#4eb4ff 322px,#6db2ff 337px,#94b0ff 363px,#beacff 400px,#f5a4ff 458px,#ffa2fe 471px,#ff88df 514px,#ff6abd 580px,#ff4a9e 667px,#ff2987 750px,#ff1780 780px,#ff0a7e 790px,#ff007d 793px,#ff0069 986px,#ff005c 1195px)"></i>
<i style="top:1040px;left:437px;width:1188px;background:linear-gradient(90deg,#00e8ff 0,#00deff 140px,#00d0ff 216px,#00b7ff 292px,#00b4ff 306px,#16b4ff 307px,#26b4ff 309px,#3cb3ff 314px,#57b2ff 324px,#74b1ff 339px,#9aaeff 366px,#c8a9ff 408px,#ffa1ff 469px,#ff8ae2 508px,#ff6dc2 568px,#ff4ca1 656px,#ff2a89 743px,#ff1882 772px,#ff0e80 782px,#ff087f 785px,#ff007f 787px,#ff006c 956px,#ff005d 1188px)"></i>
<i style="top:1042px;left:437px;width:1182px;background:linear-gradient(90deg,#00e8ff 0,#00deff 135px,#00d0ff 212px,#00b6ff 291px,#00b3ff 305px,#16b3ff 306px,#26b3ff 308px,#3cb2ff 313px,#57b1ff 323px,#74b0ff 338px,#9badff 366px,#c6a8ff 405px,#ffa0ff 468px,#ff83dc 518px,#ff66bc 582px,#ff459d 670px,#ff288a 742px,#ff1683 770px,#ff0c81 778px,#ff0480 781px,#ff0080 782px,#ff006d 955px,#ff005e 1182px)"></i>
<i style="top:1044px;left:438px;width:1175px;background:linear-gradient(90deg,#00e7ff 0,#0df 136px,#00d0ff 206px,#00b5ff 289px,#00b2ff 303px,#17b2ff 304px,#26b1ff 306px,#38b1ff 310px,#55b0ff 320px,#77aeff 338px,#a2abff 370px,#d4a5ff 418px,#ff9efe 468px,#ff84df 512px,#ff63ba 586px,#ff3f9a 681px,#ff278b 738px,#ff1684 764px,#ff0c82 772px,#ff0482 775px,#ff0082 776px,#ff0071 916px,#ff0061 1136px,#ff005f 1175px)"></i>
<i style="top:1046px;left:439px;width:1169px;background:linear-gradient(90deg,#00e7ff 0,#00dcff 138px,#00cfff 205px,#00b4ff 285px,#00b1ff 300px,#04b1ff 301px,#17b1ff 302px,#26b0ff 304px,#38b0ff 308px,#55afff 318px,#75adff 335px,#98abff 360px,#c9a5ff 405px,#ff9dff 466px,#ff84e0 509px,#ff66bf 574px,#ff449f 662px,#ff298d 729px,#ff1686 758px,#ff0b84 767px,#ff0083 770px,#ff0070 931px,#ff005f 1169px)"></i>
<i style="top:1048px;left:440px;width:1162px;background:linear-gradient(90deg,#00e6ff 0,#0df 124px,#00cfff 199px,#00b2ff 287px,#00b0ff 298px,#07b0ff 299px,#18b0ff 300px,#27afff 302px,#38afff 306px,#55aeff 316px,#75acff 333px,#9aa9ff 360px,#c1a5ff 396px,#f49dff 451px,#ff9afe 466px,#ff84e2 505px,#ff6ac5 560px,#ff4faa 629px,#ff2a8f 721px,#ff1888 750px,#ff0b85 761px,#ff0084 764px,#ff0071 929px,#ff0060 1162px)"></i>
<i style="top:1050px;left:440px;width:1156px;background:linear-gradient(90deg,#00e6ff 0,#00dcff 126px,#0cf 206px,#00b3ff 278px,#00afff 297px,#09afff 298px,#18aeff 299px,#27aeff 301px,#39aeff 305px,#55adff 315px,#75abff 332px,#a0a8ff 364px,#cea2ff 408px,#ff99fe 465px,#ff7edd 513px,#ff62be 576px,#ff419f 662px,#ff248d 728px,#ff1388 750px,#ff0b86 756px,#ff0086 759px,#ff0072 920px,#ff0061 1156px)"></i>
<i style="top:1052px;left:441px;width:1149px;background:linear-gradient(90deg,#00e6ff 0,#00daff 135px,#00caff 207px,#00b5ff 266px,#00aeff 295px,#19adff 297px,#27adff 299px,#39adff 303px,#55acff 313px,#73aaff 329px,#97a7ff 355px,#c3a2ff 395px,#ff98ff 463px,#ff7fe0 507px,#ff5fbc 579px,#ff3a9c 674px,#ff238e 724px,#ff148a 743px,#ff0b88 750px,#ff0087 753px,#ff0074 909px,#ff0064 1120px,#ff0062 1149px)"></i>
<i style="top:1054px;left:442px;width:1142px;background:linear-gradient(90deg,#00e5ff 0,#00daff 128px,#00cbff 199px,#00b3ff 267px,#00adff 293px,#19acff 295px,#27acff 297px,#39acff 301px,#52abff 310px,#6ea9ff 324px,#8fa7ff 347px,#b5a3ff 380px,#e29cff 427px,#ff96fe 463px,#ff7ee0 506px,#ff5ebd 576px,#ff399c 672px,#ff1e8e 726px,#ff108a 741px,#ff0889 745px,#ff0089 747px,#f07 882px,#ff0065 1107px,#ff0063 1142px)"></i>
<i style="top:1056px;left:442px;width:1136px;background:linear-gradient(90deg,#00e5ff 0,#00daff 123px,#00caff 199px,#00b4ff 260px,#00acff 292px,#1aabff 294px,#28abff 296px,#3cabff 301px,#57aaff 311px,#79a8ff 330px,#a0a4ff 360px,#c99fff 400px,#fa97ff 455px,#ff95fe 463px,#ff7cdf 507px,#ff60c0 570px,#ff3fa2 653px,#ff2391 713px,#ff148c 733px,#ff0b8b 739px,#ff008a 742px,#ff0076 897px,#f06 1108px,#ff0064 1136px)"></i>
<i style="top:1058px;left:443px;width:1129px;background:linear-gradient(90deg,#00e4ff 0,#00dbff 110px,#00cbff 190px,#00b2ff 261px,#00abff 290px,#1aaaff 292px,#28aaff 294px,#3caaff 299px,#57a9ff 309px,#79a6ff 328px,#a1a3ff 359px,#da9bff 416px,#ff94fe 461px,#ff79de 508px,#ff5fc1 567px,#ff41a5 643px,#ff2795 700px,#ff168e 725px,#ff0b8c 733px,#ff058c 735px,#ff008c 736px,#ff007a 864px,#ff0067 1090px,#ff0065 1129px)"></i>
<i style="top:1060px;left:444px;width:1122px;background:linear-gradient(90deg,#00e4ff 0,#00daff 111px,#0cf 182px,#00b1ff 258px,#0af 288px,#1ba9ff 290px,#2da9ff 293px,#43a8ff 299px,#61a7ff 312px,#83a5ff 333px,#a8a1ff 364px,#d59bff 409px,#ff92fe 460px,#ff78de 507px,#ff5dc1 566px,#ff3ca3 649px,#ff2294 703px,#ff138f 722px,#ff098d 728px,#ff008d 730px,#ff007a 870px,#ff0069 1072px,#f06 1122px)"></i>
<i style="top:1062px;left:445px;width:1115px;background:linear-gradient(90deg,#00e3ff 0,#00d9ff 112px,#00caff 184px,#00b0ff 256px,#00a9ff 286px,#10a8ff 287px,#1ba8ff 288px,#2da8ff 291px,#43a7ff 297px,#61a6ff 310px,#84a3ff 332px,#ab9fff 365px,#da98ff 413px,#ff90fe 459px,#ff79e1 501px,#ff5abf 569px,#ff339e 665px,#ff1d93 705px,#ff0f90 719px,#ff058f 723px,#ff008e 724px,#ff007c 859px,#ff006b 1047px,#ff0067 1115px)"></i>
<i style="top:1064px;left:445px;width:1109px;background:linear-gradient(90deg,#00e3ff 0,#00d7ff 120px,#00c9ff 183px,#00b0ff 251px,#00a7ff 285px,#11a7ff 286px,#1ca7ff 287px,#32a7ff 291px,#4ba6ff 299px,#6aa4ff 314px,#8ea1ff 339px,#b39dff 372px,#e396ff 423px,#ff8ffe 458px,#ff73dc 509px,#f5b 579px,#ff2e9d 670px,#ff1d95 700px,#ff0f91 714px,#ff0590 718px,#ff0090 719px,#ff007e 845px,#ff006c 1039px,#ff0067 1109px)"></i>
<i style="top:1066px;left:446px;width:1102px;background:linear-gradient(90deg,#00e2ff 0,#00daff 94px,#00caff 175px,#00afff 250px,#00a6ff 283px,#12a6ff 284px,#23a6ff 286px,#36a6ff 290px,#50a5ff 299px,#6da3ff 314px,#92a0ff 340px,#c29aff 385px,#f990ff 448px,#ff8dfd 458px,#ff73de 505px,#ff56be 571px,#ff2e9e 666px,#ff1a95 698px,#ff0d92 709px,#ff0592 712px,#ff0091 713px,#ff007c 864px,#ff0069 1089px,#ff0068 1102px)"></i>
<i style="top:1068px;left:447px;width:1095px;background:linear-gradient(90deg,#00e2ff 0,#00d8ff 102px,#00c9ff 173px,#00aeff 248px,#00a5ff 281px,#13a5ff 282px,#23a5ff 284px,#36a5ff 288px,#50a4ff 297px,#72a1ff 315px,#9b9eff 346px,#c997ff 391px,#ff8dff 455px,#ff75e2 497px,#ff57c1 563px,#ff32a2 652px,#ff1c97 690px,#ff0f94 702px,#ff0593 706px,#ff0093 707px,#ff0080 834px,#ff006d 1037px,#ff0069 1095px)"></i>
<i style="top:1070px;left:448px;width:1088px;background:linear-gradient(90deg,#00e1ff 0,#00d8ff 96px,#00c8ff 172px,#00aeff 243px,#00a4ff 279px,#13a4ff 280px,#24a4ff 282px,#36a4ff 286px,#50a3ff 295px,#70a1ff 312px,#959dff 339px,#c896ff 388px,#ff8bff 454px,#ff75e3 494px,#ff56c1 562px,#ff2ca0 658px,#ff1a98 686px,#ff0c95 698px,#ff0094 701px,#ff007e 853px,#ff006b 1074px,#ff006a 1088px)"></i>
<i style="top:1072px;left:448px;width:1082px;background:linear-gradient(90deg,#00e1ff 0,#00d6ff 104px,#00c7ff 171px,#00adff 242px,#00a3ff 278px,#14a3ff 279px,#24a3ff 281px,#36a2ff 285px,#4da2ff 293px,#6ba0ff 308px,#909dff 334px,#bd97ff 376px,#f98bff 445px,#ff89fe 455px,#ff70df 501px,#ff52bf 567px,#ff2ea3 650px,#ff1b9a 680px,#ff0e97 692px,#ff0696 695px,#ff0096 696px,#ff0081 832px,#ff006e 1039px,#ff006b 1082px)"></i>
<i style="top:1074px;left:449px;width:1075px;background:linear-gradient(90deg,#00e0ff 0,#00d8ff 86px,#00c7ff 166px,#00adff 237px,#00a2ff 276px,#14a2ff 277px,#1ea2ff 278px,#32a2ff 282px,#48a1ff 289px,#649fff 302px,#889cff 326px,#b497ff 365px,#ee8cff 430px,#ff88fe 453px,#ff6fe0 498px,#ff52c0 564px,#ff29a1 654px,#ff159a 681px,#ff0998 688px,#ff0097 690px,#ff0080 843px,#ff006e 1048px,#ff006c 1075px)"></i>
<i style="top:1076px;left:450px;width:1068px;background:linear-gradient(90deg,#00e0ff 0,#00d4ff 105px,#00c2ff 177px,#00adff 232px,#00a1ff 274px,#15a1ff 275px,#24a1ff 277px,#36a0ff 281px,#4d9fff 289px,#6b9eff 304px,#929aff 332px,#c593ff 381px,#ff87ff 451px,#ff6ee0 497px,#ff50c0 563px,#ff2ba4 644px,#ff189c 672px,#ff0c9a 681px,#ff0699 683px,#f09 684px,#ff0083 823px,#ff0071 1012px,#ff006d 1068px)"></i>
<i style="top:1078px;left:451px;width:1061px;background:linear-gradient(90deg,#00dfff 0,#00d6ff 87px,#00c5ff 163px,#00acff 230px,#00a0ff 272px,#16a0ff 273px,#25a0ff 275px,#3d9fff 281px,#569eff 291px,#719cff 306px,#9698ff 334px,#c093ff 374px,#f887ff 440px,#ff84fe 451px,#ff6ee2 492px,#ff4fc1 560px,#ff2da7 635px,#ff1a9e 664px,#ff0e9b 674px,#ff069b 677px,#ff009a 678px,#ff0084 820px,#ff0072 1003px,#ff006e 1061px)"></i>
<i style="top:1080px;left:451px;width:1055px;background:linear-gradient(90deg,#00dfff 0,#00d4ff 95px,#00c3ff 166px,#00abff 229px,#009fff 271px,#169fff 272px,#259fff 274px,#369eff 278px,#4b9eff 285px,#699cff 300px,#8c98ff 325px,#b593ff 362px,#e8f 427px,#ff83fe 451px,#ff6ce2 492px,#ff4dc1 560px,#ff2ca8 632px,#ff19a0 660px,#ff0c9d 670px,#ff069c 672px,#ff009c 673px,#ff0085 816px,#ff0073 997px,#ff006f 1055px)"></i>
<i style="top:1082px;left:452px;width:1048px;background:linear-gradient(90deg,#00deff 0,#00d4ff 89px,#00c3ff 161px,#00abff 224px,#009eff 268px,#059eff 269px,#179eff 270px,#259eff 272px,#369dff 276px,#4b9cff 283px,#679bff 297px,#8b97ff 322px,#b093ff 356px,#de8aff 406px,#ff82fe 449px,#ff68df 496px,#ff49bf 565px,#ff2aa8 630px,#ff19a1 654px,#ff0e9f 663px,#ff069e 666px,#ff009e 667px,#ff0085 817px,#ff0071 1025px,#ff0070 1048px)"></i>
<i style="top:1084px;left:453px;width:1041px;background:linear-gradient(90deg,#00deff 0,#00d2ff 95px,#00c0ff 166px,#00a9ff 224px,#009dff 266px,#079dff 267px,#179dff 268px,#259dff 270px,#369cff 274px,#4b9bff 281px,#679aff 295px,#8c96ff 321px,#b591ff 359px,#e587ff 413px,#ff80fe 448px,#ff68e1 492px,#ff4bc2 556px,#ff27a8 630px,#ff16a2 651px,#ff0aa0 659px,#ff009f 661px,#ff0086 814px,#ff0073 1006px,#ff0070 1041px)"></i>
<i style="top:1086px;left:454px;width:1034px;background:linear-gradient(90deg,#0df 0,#00d2ff 90px,#00c0ff 161px,#00a8ff 223px,#009cff 264px,#099cff 265px,#189cff 266px,#269cff 268px,#3a9bff 273px,#549aff 283px,#7298ff 300px,#9594ff 327px,#bb8eff 364px,#eb85ff 419px,#ff7efe 447px,#ff66e0 492px,#ff46c0 561px,#ff29ab 621px,#ff18a4 643px,#ff0ea2 651px,#ff06a1 654px,#ff00a1 655px,#ff0086 816px,#ff0073 1012px,#ff0071 1034px)"></i>
<i style="top:1088px;left:454px;width:1028px;background:linear-gradient(90deg,#0df 0,#00cfff 101px,#0bf 172px,#00a9ff 217px,#009bff 263px,#189bff 265px,#269bff 267px,#3a9aff 272px,#5499ff 282px,#7596ff 301px,#9d92ff 333px,#d089ff 386px,#ff7dfe 446px,#ff63de 496px,#ff45c1 559px,#ff26ab 621px,#ff16a5 640px,#ff0ea3 646px,#ff06a3 649px,#ff00a2 650px,#ff0085 826px,#ff0072 1028px)"></i>
<i style="top:1090px;left:455px;width:1021px;background:linear-gradient(90deg,#00dcff 0,#00d0ff 90px,#00bdff 162px,#00a8ff 215px,#009aff 261px,#199aff 263px,#2b9aff 266px,#4099ff 272px,#5a97ff 283px,#7c95ff 304px,#a58fff 339px,#d387ff 388px,#ff7cff 444px,#ff64e1 489px,#ff44c1 558px,#ff26ad 615px,#ff17a7 634px,#ff0aa4 642px,#ff07a4 643px,#ff00a4 644px,#ff0086 821px,#ff0073 1021px)"></i>
<i style="top:1092px;left:456px;width:1014px;background:linear-gradient(90deg,#00dcff 0,#00cfff 90px,#00bdff 157px,#00a7ff 213px,#009aff 258px,#09f 259px,#1999ff 261px,#2b99ff 264px,#4098ff 270px,#5a96ff 281px,#7a94ff 301px,#9c90ff 329px,#c389ff 368px,#fc7cff 438px,#ff78fc 446px,#ff5edd 496px,#ff3ebe 564px,#ff27af 608px,#ff16a8 629px,#ff0aa6 636px,#ff07a6 637px,#ff00a6 638px,#ff0089 805px,#f07 977px,#ff0074 1014px)"></i>
<i style="top:1094px;left:457px;width:1007px;background:linear-gradient(90deg,#00dbff 0,#00ceff 90px,#0bf 158px,#00a6ff 211px,#09f 256px,#0098ff 257px,#1998ff 259px,#2698ff 261px,#3a97ff 266px,#4f96ff 274px,#6894ff 287px,#8b91ff 312px,#b38bff 350px,#dd82ff 397px,#ff78fe 442px,#ff5fe0 489px,#ff41c2 554px,#ff25b0 605px,#ff15aa 624px,#ff0aa8 630px,#ff07a7 631px,#ff00a7 632px,#ff009a 712px,#ff0089 806px,#ff0076 993px,#ff0075 1007px)"></i>
<i style="top:1096px;left:458px;width:1000px;background:linear-gradient(90deg,#00daff 0,#00ceff 85px,#00baff 157px,#00a5ff 209px,#09f 251px,#0097ff 255px,#0f97ff 256px,#1a97ff 257px,#2797ff 259px,#3a96ff 264px,#4f95ff 272px,#6d93ff 288px,#948eff 318px,#c486ff 366px,#f7f 440px,#ff5ee0 488px,#ff3fc2 553px,#ff24b1 601px,#ff15ab 618px,#ff0aa9 624px,#ff07a9 625px,#ff00a9 626px,#ff009d 701px,#ff008b 796px,#ff007a 952px,#ff0076 1000px)"></i>
<i style="top:1098px;left:458px;width:995px;background:linear-gradient(90deg,#00daff 0,#0cf 90px,#00baff 153px,#00a5ff 206px,#0097ff 253px,#0096ff 254px,#1096ff 255px,#2196ff 257px,#3495ff 261px,#4d94ff 270px,#6b92ff 286px,#8e8eff 312px,#b688ff 350px,#f07bff 419px,#ff75fe 441px,#ff5ee2 484px,#ff3dc2 553px,#ff22b1 599px,#ff11ac 616px,#ff07ab 620px,#ff00ab 621px,#ff009e 700px,#ff008b 798px,#ff007a 959px,#f07 995px)"></i>
<i style="top:1100px;left:459px;width:988px;background:linear-gradient(90deg,#00d9ff 0,#0cf 85px,#00b7ff 157px,#00a5ff 202px,#0096ff 251px,#0095ff 252px,#1195ff 253px,#2295ff 255px,#3494ff 259px,#4d93ff 268px,#6b91ff 284px,#908dff 312px,#b986ff 352px,#ee7aff 415px,#ff73fe 440px,#ff5ce2 483px,#ff3bc3 550px,#ff25b5 589px,#ff14ae 608px,#ff0bad 613px,#ff00ac 615px,#ff00a3 679px,#ff008b 800px,#ff0078 983px,#ff0078 988px)"></i>
<i style="top:1102px;left:460px;width:981px;background:linear-gradient(90deg,#00d8ff 0,#00cbff 84px,#00b9ff 147px,#00a3ff 203px,#0096ff 246px,#0094ff 250px,#1194ff 251px,#2294ff 253px,#3493ff 257px,#4d92ff 266px,#6b90ff 282px,#908bff 310px,#c383ff 361px,#fe73ff 435px,#ff51d8 501px,#ff2cba 573px,#ff19b1 598px,#ff0bae 607px,#ff00ae 609px,#ff00a4 678px,#ff008c 796px,#ff007a 965px,#ff0079 981px)"></i>
<i style="top:1104px;left:461px;width:974px;background:linear-gradient(90deg,#00d8ff 0,#00c8ff 92px,#00b1ff 164px,#00a3ff 199px,#0093ff 248px,#1293ff 249px,#2293ff 251px,#3492ff 255px,#4b91ff 263px,#698fff 279px,#8c8bff 305px,#b684ff 345px,#ed77ff 411px,#ff70fe 437px,#ff58e1 483px,#ff37c3 548px,#ff20b6 584px,#ff14b2 596px,#ff0bb0 601px,#ff00b0 603px,#ff00a6 672px,#ff008c 798px,#ff007b 961px,#ff007a 974px)"></i>
<i style="top:1106px;left:462px;width:967px;background:linear-gradient(90deg,#00d7ff 0,#00caff 79px,#00b5ff 149px,#00a2ff 197px,#0093ff 245px,#0092ff 246px,#1392ff 247px,#2292ff 249px,#3491ff 253px,#4b90ff 261px,#698eff 277px,#8c8aff 303px,#b184ff 338px,#eb76ff 407px,#ff6efe 436px,#ff56e1 482px,#ff36c4 545px,#ff1db6 582px,#ff11b3 592px,#ff08b2 596px,#ff00b1 597px,#ff00ac 646px,#ff008d 795px,#ff007c 950px,#ff007b 967px)"></i>
<i style="top:1108px;left:463px;width:960px;background:linear-gradient(90deg,#00d6ff 0,#00c9ff 78px,#00b5ff 145px,#00a1ff 195px,#0094ff 238px,#0091ff 244px,#1391ff 245px,#2391ff 247px,#3e90ff 254px,#598eff 266px,#798bff 286px,#9c86ff 316px,#c87eff 362px,#ff6eff 433px,#ff53e0 482px,#ff30c2 549px,#ff1db8 576px,#ff11b5 586px,#ff08b3 590px,#ff00b3 591px,#ff00ad 646px,#ff008e 791px,#ff007c 950px,#ff007c 960px)"></i>
<i style="top:1110px;left:463px;width:954px;background:linear-gradient(90deg,#00d6ff 0,#00c7ff 83px,#00b0ff 155px,#00a0ff 195px,#0091ff 241px,#0090ff 243px,#1490ff 244px,#2390ff 246px,#348fff 250px,#488eff 257px,#648cff 271px,#8488ff 294px,#a583ff 324px,#d07bff 371px,#ff6bfe 434px,#ff4edd 488px,#ff2cc1 552px,#ff18b8 576px,#ff0eb6 583px,#ff08b5 585px,#ff00b5 586px,#ff00af 641px,#ff008e 795px,#ff007c 954px)"></i>
<i style="top:1112px;left:464px;width:947px;background:linear-gradient(90deg,#00d5ff 0,#00c6ff 82px,#00afff 153px,#00a1ff 188px,#0092ff 235px,#008fff 241px,#148fff 242px,#238fff 244px,#348eff 248px,#488dff 255px,#648bff 269px,#8987ff 296px,#b280ff 335px,#e872ff 400px,#ff69fe 433px,#ff4edf 483px,#ff2dc4 544px,#ff1cbc 566px,#ff10b8 576px,#ff08b7 579px,#ff00b7 580px,#ff00b1 636px,#ff008e 796px,#ff007d 947px)"></i>
<i style="top:1114px;left:465px;width:940px;background:linear-gradient(90deg,#00d4ff 0,#00c5ff 81px,#00aeff 152px,#00a0ff 187px,#008fff 237px,#008eff 239px,#158eff 240px,#238eff 242px,#348dff 246px,#488cff 253px,#628aff 266px,#8486ff 290px,#ad80ff 328px,#e671ff 396px,#ff67fe 432px,#ff4cdf 482px,#ff2ec6 537px,#ff1cbd 561px,#ff0eb9 571px,#ff08b9 573px,#ff00b8 574px,#ff00b5 619px,#ff008e 799px,#ff007e 940px)"></i>
<i style="top:1116px;left:466px;width:933px;background:linear-gradient(90deg,#00d3ff 0,#00c4ff 80px,#00afff 145px,#009fff 186px,#008fff 233px,#008dff 237px,#158dff 238px,#248cff 240px,#3b8cff 246px,#558aff 257px,#7387ff 275px,#9782ff 305px,#c479ff 352px,#fe67ff 427px,#ff44d9 493px,#ff28c5 540px,#ff1abe 557px,#ff0ebb 565px,#ff08bb 567px,#ff00ba 568px,#ff00b7 614px,#ff0090 792px,#ff0084 885px,#ff007f 933px)"></i>
<i style="top:1118px;left:467px;width:926px;background:linear-gradient(90deg,#00d2ff 0,#00c7ff 63px,#00b3ff 130px,#009fff 181px,#008eff 231px,#008cff 234px,#058cff 235px,#168cff 236px,#248bff 238px,#388bff 243px,#5189ff 253px,#7086ff 271px,#9581ff 301px,#c279ff 348px,#fc66ff 423px,#ff63fd 431px,#ff4ae1 476px,#ff2ac8 532px,#ff19c0 552px,#ff0cbd 560px,#ff08bd 561px,#ff00bc 562px,#ff00b9 609px,#ff008f 798px,#ff0080 926px)"></i>
<i style="top:1120px;left:468px;width:919px;background:linear-gradient(90deg,#00d2ff 0,#00c2ff 79px,#00a9ff 152px,#009dff 183px,#008dff 229px,#008bff 232px,#078bff 233px,#168bff 234px,#248aff 236px,#388aff 241px,#5188ff 251px,#7085ff 269px,#9780ff 301px,#c576ff 350px,#ff63ff 426px,#ff47e0 477px,#ff2aca 526px,#ff18c1 547px,#ff0cbf 554px,#ff08be 555px,#ff00be 556px,#ff00ba 610px,#ff0090 795px,#ff0081 919px)"></i>
<i style="top:1122px;left:469px;width:912px;background:linear-gradient(90deg,#00d1ff 0,#00c0ff 81px,#00a6ff 155px,#009cff 182px,#008dff 225px,#008aff 230px,#098aff 231px,#178aff 232px,#2489ff 234px,#3889ff 239px,#5187ff 249px,#6e84ff 266px,#9180ff 294px,#bd77ff 339px,#fe62ff 423px,#ff42dd 482px,#ff26c9 526px,#ff14c2 544px,#ff09c0 549px,#ff00c0 550px,#ff00bc 605px,#ff0090 797px,#ff0082 912px)"></i>
<i style="top:1124px;left:469px;width:906px;background:linear-gradient(90deg,#00d0ff 0,#00c1ff 74px,#00a9ff 145px,#009bff 181px,#008cff 224px,#0089ff 229px,#1789ff 231px,#2588ff 233px,#3888ff 238px,#5186ff 248px,#6e83ff 265px,#917fff 293px,#c175ff 343px,#ff60ff 424px,#ff40de 480px,#ff27cc 520px,#ff14c4 539px,#ff09c2 544px,#ff00c2 545px,#ff00be 602px,#ff00a1 724px,#ff008e 814px,#ff0083 906px)"></i>
<i style="top:1126px;left:470px;width:899px;background:linear-gradient(90deg,#00cfff 0,#00bfff 77px,#00a6ff 148px,#0089ff 226px,#08f 227px,#1888ff 229px,#2a87ff 232px,#4186ff 239px,#5a84ff 251px,#7282ff 266px,#967dff 296px,#c473ff 345px,#ff5eff 423px,#ff3fdf 477px,#ff24cc 518px,#ff17c7 531px,#ff0cc5 537px,#ff09c4 538px,#ff01c4 539px,#ff00c0 597px,#ff00a8 699px,#ff0092 794px,#ff0085 889px,#ff0084 899px)"></i>
<i style="top:1128px;left:471px;width:892px;background:linear-gradient(90deg,#00ceff 0,#00beff 76px,#00a1ff 157px,#008aff 220px,#0087ff 225px,#1887ff 227px,#2a86ff 230px,#4185ff 237px,#5a83ff 249px,#7980ff 269px,#a179ff 305px,#cb6fff 352px,#fd5dff 419px,#ff55f8 433px,#ff3ddf 476px,#ff21cd 516px,#ff11c7 529px,#ff09c6 532px,#ff02c6 533px,#ff00c6 538px,#ff00c1 599px,#ff0095 782px,#f08 865px,#ff0085 892px)"></i>
<i style="top:1130px;left:472px;width:885px;background:linear-gradient(90deg,#00ceff 0,#00b9ff 88px,#0089ff 218px,#0086ff 223px,#1986ff 225px,#2a85ff 228px,#4184ff 235px,#5a82ff 247px,#767fff 265px,#9e79ff 300px,#cd6dff 353px,#ff5aff 421px,#ff3ce0 472px,#ff22cf 509px,#ff13ca 522px,#ff09c8 526px,#ff02c8 527px,#ff00c8 532px,#ff00c3 594px,#ff0094 788px,#ff0087 877px,#ff0086 885px)"></i>
<i style="top:1132px;left:473px;width:878px;background:linear-gradient(90deg,#00cdff 0,#00b9ff 84px,#08f 216px,#0085ff 221px,#0f85ff 222px,#2084ff 224px,#3284ff 228px,#4d82ff 238px,#6c7fff 256px,#8f7aff 284px,#be70ff 333px,#f75cff 408px,#ff57fe 421px,#ff37de 475px,#ff20d1 505px,#ff13cc 516px,#ff09ca 520px,#ff02ca 521px,#ff00ca 526px,#ff00c5 590px,#ff0093 794px,#ff0087 878px)"></i>
<i style="top:1134px;left:474px;width:871px;background:linear-gradient(90deg,#0cf 0,#00b9ff 79px,#0089ff 210px,#0084ff 219px,#0f84ff 220px,#1a83ff 221px,#2a83ff 224px,#4182ff 231px,#5a80ff 243px,#7b7cff 265px,#a076ff 299px,#ca6bff 346px,#ff56ff 418px,#f3d 476px,#ff1fd2 500px,#ff13ce 510px,#ff09cc 514px,#f0c 516px,#ff00c7 585px,#ff00b0 680px,#ff0097 778px,#f08 871px)"></i>
<i style="top:1136px;left:475px;width:864px;background:linear-gradient(90deg,#00cbff 0,#00b5ff 88px,#0094ff 176px,#0085ff 214px,#0083ff 217px,#1083ff 218px,#2182ff 220px,#3981ff 226px,#557fff 238px,#777cff 260px,#9e75ff 295px,#c86aff 342px,#f957ff 409px,#ff52fe 419px,#ff34e0 469px,#ff1dd3 497px,#ff0fcf 506px,#ff09ce 508px,#ff00ce 510px,#ff00c9 581px,#ff00b4 668px,#ff0095 788px,#ff0089 864px)"></i>
<i style="top:1138px;left:476px;width:857px;background:linear-gradient(90deg,#00caff 0,#00b6ff 80px,#0096ff 167px,#0085ff 210px,#0082ff 215px,#1182ff 216px,#2181ff 218px,#3281ff 222px,#467fff 229px,#617dff 243px,#8279ff 267px,#a672ff 302px,#ce67ff 348px,#ff52ff 415px,#ff2ede 472px,#ff18d4 495px,#ff0ad1 502px,#ff03d0 503px,#ff00d0 505px,#ff00cb 576px,#ff00b6 664px,#ff0098 777px,#ff008a 857px)"></i>
<i style="top:1140px;left:477px;width:850px;background:linear-gradient(90deg,#00c9ff 0,#00b5ff 79px,#0095ff 166px,#0083ff 210px,#0081ff 213px,#1181ff 214px,#1b80ff 215px,#2f80ff 219px,#467eff 227px,#617cff 241px,#8477ff 267px,#ad6fff 307px,#e05fff 370px,#ff4efe 416px,#ff2fe1 465px,#ff1bd7 487px,#ff0dd3 495px,#ff00d2 498px,#f0c 578px,#ff00b4 674px,#f09 776px,#ff008c 850px)"></i>
<i style="top:1142px;left:478px;width:843px;background:linear-gradient(90deg,#00c8ff 0,#00b5ff 75px,#0092ff 170px,#0082ff 207px,#0080ff 211px,#127fff 212px,#217fff 214px,#327eff 218px,#467dff 225px,#617bff 239px,#8077ff 262px,#aa6eff 302px,#e15dff 370px,#ff4dfe 414px,#ff2be1 464px,#ff17d8 484px,#ff0dd5 489px,#ff00d4 492px,#ff00ce 573px,#f0b 652px,#f09 777px,#ff008d 843px)"></i>
<i style="top:1144px;left:478px;width:837px;background:linear-gradient(90deg,#00c7ff 0,#00b4ff 75px,#0091ff 170px,#007fff 210px,#137eff 211px,#227eff 213px,#397dff 219px,#517bff 229px,#7178ff 249px,#9572ff 280px,#c167ff 328px,#f94fff 404px,#ff49fd 416px,#ff29e2 462px,#ff1adb 477px,#ff0dd8 484px,#ff00d7 487px,#ff00ce 581px,#ff00b4 680px,#ff0098 785px,#ff008f 837px)"></i>
<i style="top:1146px;left:479px;width:830px;background:linear-gradient(90deg,#00c6ff 0,#00b1ff 80px,#0093ff 159px,#0081ff 203px,#007eff 208px,#137dff 209px,#227dff 211px,#367cff 216px,#517aff 227px,#7177ff 247px,#9770ff 280px,#c464ff 330px,#f54fff 397px,#ff48fe 413px,#ff29e5 456px,#ff19dd 472px,#ff0dda 478px,#ff00d9 481px,#ff00cf 582px,#ff009b 776px,#ff0090 830px)"></i>
<i style="top:1148px;left:480px;width:824px;background:linear-gradient(90deg,#00c5ff 0,#00b1ff 76px,#0085ff 191px,#007dff 206px,#147cff 207px,#227cff 209px,#367bff 214px,#4e79ff 224px,#6a76ff 240px,#8c71ff 268px,#b368ff 308px,#e456ff 371px,#ff45fe 412px,#ff27e6 453px,#ff16de 468px,#ff0adc 473px,#ff00db 475px,#ff00d1 578px,#ff009a 781px,#ff0092 824px)"></i>
<i style="top:1150px;left:481px;width:817px;background:linear-gradient(90deg,#00c4ff 0,#00b1ff 71px,#0083ff 191px,#007bff 204px,#147bff 205px,#227bff 207px,#367aff 212px,#4a79ff 220px,#6776ff 236px,#8a70ff 264px,#b765ff 311px,#e852ff 376px,#ff43fe 410px,#ff28e9 446px,#ff16e1 462px,#ff0edf 466px,#f0d 469px,#ff00d2 579px,#ff009c 775px,#ff0093 817px)"></i>
<i style="top:1152px;left:482px;width:810px;background:linear-gradient(90deg,#00c3ff 0,#00aeff 76px,#0085ff 183px,#007aff 202px,#157aff 203px,#237aff 205px,#3679ff 210px,#4a78ff 218px,#6275ff 231px,#8370ff 256px,#af66ff 300px,#e054ff 363px,#ff40fe 409px,#ff24e9 445px,#ff16e3 456px,#ff0be1 461px,#ff00e0 463px,#ff00d4 574px,#ff00b9 673px,#ff009c 777px,#ff0095 810px)"></i>
<i style="top:1154px;left:483px;width:803px;background:linear-gradient(90deg,#00c2ff 0,#00adff 75px,#0082ff 185px,#007aff 199px,#0579ff 200px,#1579ff 201px,#2379ff 203px,#3378ff 207px,#4877ff 215px,#6274ff 229px,#836fff 254px,#ac66ff 295px,#de53ff 358px,#ff3fff 406px,#ff22ea 441px,#ff13e4 452px,#ff0be3 455px,#ff00e2 457px,#ff00d5 575px,#ff00b8 679px,#ff009f 768px,#ff0097 803px)"></i>
<i style="top:1156px;left:484px;width:796px;background:linear-gradient(90deg,#00c1ff 0,#00a9ff 83px,#0081ff 183px,#0079ff 197px,#0778ff 198px,#1678ff 199px,#2878ff 202px,#3f76ff 209px,#5d74ff 224px,#7d6fff 247px,#a167ff 282px,#cb5aff 331px,#f444ff 389px,#ff3afe 407px,#ff24ee 433px,#ff15e7 445px,#ff0be5 449px,#ff00e5 451px,#ff00d5 580px,#ff009f 770px,#f09 796px)"></i>
<i style="top:1158px;left:485px;width:789px;background:linear-gradient(90deg,#00c0ff 0,#00a7ff 84px,#0080ff 181px,#0078ff 195px,#0977ff 196px,#1677ff 197px,#2377ff 199px,#3376ff 203px,#4874ff 211px,#6571ff 227px,#886cff 255px,#af62ff 295px,#e24dff 361px,#ff38fe 405px,#ff21ef 430px,#ff15ea 439px,#ff0be8 443px,#ff00e7 445px,#ff00d7 575px,#ff009d 779px,#ff009b 789px)"></i>
<i style="top:1160px;left:486px;width:782px;background:linear-gradient(90deg,#00bfff 0,#00a6ff 83px,#0080ff 178px,#07f 193px,#1776ff 195px,#2875ff 198px,#3f74ff 205px,#5d71ff 220px,#7e6cff 244px,#ad61ff 291px,#e14cff 358px,#ff35ff 403px,#ff1ef0 427px,#ff11ec 435px,#ff06ea 438px,#ff00ea 439px,#f0d 536px,#ff00d6 584px,#ff00a0 769px,#ff009d 782px)"></i>
<i style="top:1162px;left:487px;width:775px;background:linear-gradient(90deg,#00beff 0,#00a6ff 79px,#0080ff 174px,#0076ff 191px,#1775ff 193px,#2475ff 195px,#3973ff 201px,#4c72ff 209px,#636fff 222px,#8769ff 250px,#b15eff 294px,#e249ff 358px,#fb36ff 395px,#ff2ffd 405px,#ff19f0 425px,#ff0fee 430px,#ff00ec 433px,#ff00d9 576px,#ff009f 775px)"></i>
<i style="top:1164px;left:488px;width:768px;background:linear-gradient(90deg,#00bdff 0,#00a2ff 87px,#007fff 172px,#0075ff 189px,#1874ff 191px,#2873ff 194px,#3972ff 199px,#4c71ff 207px,#636eff 220px,#8269ff 244px,#a95fff 283px,#d74dff 342px,#f737ff 388px,#ff2cfe 402px,#ff1cf4 417px,#ff0ff0 424px,#ff00ef 427px,#ff00e2 513px,#ff00da 576px,#ff00b4 703px,#ff00a1 768px)"></i>
<i style="top:1166px;left:489px;width:761px;background:linear-gradient(90deg,#0bf 0,#00a3ff 80px,#007dff 172px,#0073ff 187px,#1873ff 189px,#2972ff 192px,#3f71ff 199px,#5d6eff 214px,#7c69ff 237px,#9d61ff 269px,#c355ff 313px,#ed3dff 371px,#ff29fe 400px,#ff19f6 413px,#ff0cf3 419px,#ff00f2 421px,#ff00e6 491px,#ff00db 576px,#ff00a4 761px)"></i>
<i style="top:1168px;left:490px;width:754px;background:linear-gradient(90deg,#00baff 0,#00a3ff 77px,#007eff 166px,#0072ff 185px,#0e72ff 186px,#1f71ff 188px,#3071ff 192px,#446fff 199px,#606cff 214px,#7e67ff 237px,#a25fff 272px,#d44bff 334px,#f434ff 380px,#ff24fe 399px,#ff12f7 411px,#ff07f5 414px,#ff00f4 415px,#ff00e5 507px,#ff00dc 575px,#ff00a6 754px)"></i>
<i style="top:1170px;left:491px;width:747px;background:linear-gradient(90deg,#00b9ff 0,#009eff 87px,#0080ff 158px,#0071ff 183px,#0f71ff 184px,#1971ff 185px,#2970ff 188px,#3f6fff 195px,#5b6cff 209px,#7c67ff 233px,#aa5bff 279px,#db45ff 342px,#f430ff 379px,#ff21ff 396px,#ff12f9 405px,#ff07f8 408px,#ff00f7 409px,#ff00e7 497px,#ff00de 571px,#ff00a9 747px)"></i>
<i style="top:1172px;left:492px;width:740px;background:linear-gradient(90deg,#00b8ff 0,#009bff 91px,#008bff 127px,#007cff 162px,#0070ff 181px,#1070ff 182px,#206fff 184px,#346eff 189px,#4c6cff 199px,#6769ff 215px,#8863ff 242px,#ae58ff 282px,#d844ff 337px,#f130ff 373px,#fd1eff 392px,#ff12fc 399px,#ff07fa 402px,#ff00fa 403px,#ff00ea 484px,#ff00df 570px,#ff00bf 677px,#ff00ab 740px)"></i>
<i style="top:1174px;left:493px;width:733px;background:linear-gradient(90deg,#00b7ff 0,#0098ff 94px,#0079ff 164px,#006fff 179px,#106fff 180px,#1a6eff 181px,#2d6eff 185px,#446cff 193px,#5e69ff 207px,#7f63ff 232px,#a659ff 271px,#d146ff 326px,#ec32ff 364px,#f921ff 384px,#ff10ff 394px,#ff07fd 396px,#ff00fd 397px,#f0e 467px,#ff00e0 570px,#ff00ae 733px)"></i>
<i style="top:1176px;left:494px;width:726px;background:linear-gradient(90deg,#00b6ff 0,#0098ff 90px,#0079ff 160px,#006eff 177px,#116dff 178px,#206dff 180px,#346cff 185px,#4c6aff 195px,#6766ff 211px,#8b5fff 241px,#b552ff 287px,#dc3dff 339px,#f128ff 371px,#fa18ff 384px,#fc10ff 388px,#fe07ff 390px,#fe00ff 391px,#ff00ed 481px,#ff00e0 574px,#ff00b0 726px)"></i>
<i style="top:1178px;left:495px;width:719px;background:linear-gradient(90deg,#00b4ff 0,#009aff 82px,#0079ff 157px,#006dff 175px,#126cff 176px,#206cff 178px,#316bff 182px,#4669ff 190px,#6166ff 205px,#8260ff 231px,#a955ff 271px,#d73eff 331px,#ec2bff 361px,#f61aff 377px,#f910ff 382px,#fb07ff 384px,#fb00ff 385px,#f0f 395px,#f0e 481px,#ff00e1 573px,#ff00b6 710px,#ff00b3 719px)"></i>
<i style="top:1180px;left:496px;width:712px;background:linear-gradient(90deg,#00b3ff 0,#009aff 78px,#0086ff 125px,#0073ff 163px,#006cff 173px,#126bff 174px,#216bff 176px,#316aff 180px,#4668ff 188px,#6165ff 203px,#825fff 229px,#ad52ff 274px,#d63cff 328px,#ea29ff 357px,#f31aff 371px,#f610ff 376px,#f808ff 378px,#f800ff 379px,#f0f 391px,#ff00fd 411px,#ff00ef 482px,#ff00e3 569px,#ff00be 688px,#ff00b5 712px)"></i>
<i style="top:1182px;left:497px;width:705px;background:linear-gradient(90deg,#00b2ff 0,#0097ff 82px,#0079ff 149px,#006aff 171px,#136aff 172px,#216aff 174px,#3169ff 178px,#4667ff 186px,#6164ff 201px,#845dff 229px,#ab51ff 270px,#d63aff 326px,#e827ff 353px,#f118ff 366px,#f310ff 370px,#f508ff 372px,#f500ff 373px,#f0f 390px,#ff00fd 416px,#f0e 493px,#ff00e4 568px,#ff00c1 680px,#ff00b8 705px)"></i>
<i style="top:1184px;left:498px;width:698px;background:linear-gradient(90deg,#00b1ff 0,#0096ff 81px,#08f 112px,#0073ff 156px,#0069ff 169px,#1369ff 170px,#2169ff 172px,#3168ff 176px,#4666ff 184px,#6163ff 199px,#845cff 227px,#af4eff 273px,#d637ff 325px,#e625ff 349px,#ee18ff 360px,#f010ff 364px,#f208ff 366px,#f200ff 367px,#f0f 389px,#ff00fe 416px,#ff00ef 493px,#ff00e5 567px,#ff00c8 661px,#f0b 698px)"></i>
<i style="top:1186px;left:499px;width:691px;background:linear-gradient(90deg,#00b0ff 0,#0096ff 77px,#0075ff 149px,#0068ff 167px,#1468ff 168px,#2167ff 170px,#3167ff 174px,#4665ff 182px,#6161ff 197px,#865aff 227px,#b24aff 275px,#d138ff 317px,#e325ff 343px,#eb18ff 354px,#ed10ff 358px,#ef08ff 360px,#ef00ff 361px,#f0f 387px,#ff00fe 420px,#ff00ef 501px,#ff00e5 571px,#ff00c8 662px,#ff00bd 691px)"></i>
<i style="top:1188px;left:500px;width:684px;background:linear-gradient(90deg,#00afff 0,#0097ff 71px,#0074ff 147px,#0067ff 165px,#1467ff 166px,#26f 168px,#3765ff 174px,#4a63ff 182px,#655fff 198px,#8957ff 228px,#b547ff 277px,#d433ff 319px,#e420ff 342px,#ea12ff 351px,#ec08ff 354px,#ec00ff 355px,#f0f 386px,#ff00fe 425px,#ff00ef 506px,#ff00e6 570px,#ff00ca 657px,#ff00c0 684px)"></i>
<i style="top:1190px;left:501px;width:677px;background:linear-gradient(90deg,#00adff 0,#0096ff 70px,#0075ff 142px,#0067ff 162px,#0566ff 163px,#1566ff 164px,#2265ff 166px,#3564ff 171px,#4c62ff 181px,#655eff 196px,#8557ff 223px,#aa4aff 262px,#cd36ff 308px,#de23ff 333px,#e614ff 344px,#e80dff 347px,#e900ff 349px,#f0f 385px,#ff00fe 429px,#ff00f0 507px,#ff00e7 569px,#ff00cf 645px,#ff00c3 677px)"></i>
<i style="top:1192px;left:502px;width:670px;background:linear-gradient(90deg,#00acff 0,#0095ff 69px,#0075ff 138px,#0065ff 160px,#0765ff 161px,#1564ff 162px,#2264ff 164px,#3563ff 169px,#4c60ff 179px,#655dff 194px,#8755ff 223px,#ae47ff 265px,#d030ff 311px,#de1fff 331px,#e410ff 340px,#e508ff 342px,#e600ff 343px,#f0f 383px,#ff00fe 433px,#ff00ef 521px,#ff00e8 568px,#ff00d3 634px,#ff00c6 670px)"></i>
<i style="top:1194px;left:503px;width:663px;background:linear-gradient(90deg,#00abff 0,#0093ff 70px,#0072ff 139px,#0064ff 158px,#0963ff 159px,#1663ff 160px,#2763ff 163px,#3d61ff 170px,#575eff 183px,#7458ff 204px,#994eff 239px,#c239ff 290px,#d725ff 319px,#df16ff 331px,#e20dff 335px,#e300ff 337px,#f0f 382px,#ff00fe 438px,#ff00ef 526px,#ff00e8 571px,#ff00cf 646px,#ff00c8 663px)"></i>
<i style="top:1196px;left:504px;width:656px;background:linear-gradient(90deg,#0af 0,#0093ff 66px,#0072ff 136px,#0063ff 156px,#1662ff 158px,#2761ff 161px,#3860ff 166px,#525dff 178px,#7258ff 200px,#974dff 235px,#c137ff 287px,#d227ff 310px,#db18ff 324px,#df0dff 329px,#e000ff 331px,#f0f 380px,#ff00fe 442px,#ff00f1 521px,#ff00e7 578px,#ff00cb 656px)"></i>
<i style="top:1198px;left:505px;width:649px;background:linear-gradient(90deg,#00a9ff 0,#0093ff 63px,#0072ff 132px,#0062ff 154px,#1761ff 156px,#2760ff 159px,#385fff 164px,#525cff 176px,#6f57ff 196px,#944cff 230px,#b83bff 273px,#ce28ff 303px,#d818ff 318px,#dc0dff 323px,#d0f 325px,#f0f 379px,#ff00fe 446px,#ff00ef 541px,#ff00e4 589px,#ff00ce 649px)"></i>
<i style="top:1200px;left:506px;width:643px;background:linear-gradient(90deg,#00a7ff 0,#0094ff 57px,#0071ff 130px,#0061ff 152px,#1760ff 154px,#235fff 156px,#385eff 162px,#525bff 174px,#7055ff 195px,#904cff 224px,#b839ff 271px,#cc26ff 299px,#d518ff 312px,#d90dff 317px,#da00ff 319px,#f0f 377px,#ff00fe 450px,#ff00eb 567px,#ff00d0 643px)"></i>
<i style="top:1202px;left:507px;width:636px;background:linear-gradient(90deg,#00a6ff 0,#0092ff 58px,#006fff 130px,#005fff 150px,#175eff 152px,#235eff 154px,#385dff 160px,#5259ff 172px,#7453ff 196px,#a143ff 241px,#c22eff 283px,#d01cff 303px,#d60dff 311px,#d609ff 312px,#d700ff 313px,#f0f 375px,#ff00fe 455px,#ff00ec 564px,#ff00d3 636px)"></i>
<i style="top:1204px;left:508px;width:629px;background:linear-gradient(90deg,#00a5ff 0,#0092ff 55px,#0070ff 125px,#005eff 148px,#0e5dff 149px,#185dff 150px,#285dff 153px,#3d5bff 160px,#5757ff 173px,#7651ff 196px,#a042ff 238px,#bd2fff 275px,#cb1fff 294px,#d210ff 304px,#d309ff 306px,#d400ff 307px,#fe00ff 372px,#ff00fe 459px,#f0e 557px,#ff00d6 629px)"></i>
<i style="top:1206px;left:509px;width:622px;background:linear-gradient(90deg,#00a4ff 0,#0091ff 53px,#006fff 123px,#005dff 146px,#0f5cff 147px,#1e5cff 149px,#2c5bff 152px,#4259ff 160px,#5d55ff 175px,#794eff 197px,#9e41ff 234px,#ba2fff 269px,#c91dff 290px,#cf10ff 298px,#d009ff 300px,#d100ff 301px,#fa00ff 364px,#f0f 375px,#ff00fe 463px,#f0e 557px,#ff00d8 622px)"></i>
<i style="top:1208px;left:510px;width:615px;background:linear-gradient(90deg,#00a3ff 0,#008eff 56px,#006cff 124px,#005cff 144px,#0f5bff 145px,#195bff 146px,#2c5aff 150px,#4258ff 158px,#5d54ff 173px,#804bff 201px,#a839ff 244px,#bd29ff 271px,#c819ff 287px,#cc0dff 293px,#cd09ff 294px,#ce00ff 295px,#f900ff 361px,#f0f 374px,#ff00fe 468px,#ff00ec 564px,#ff00db 615px)"></i>
<i style="top:1210px;left:512px;width:607px;background:linear-gradient(90deg,#00a1ff 0,#008eff 52px,#007fff 83px,#006bff 121px,#005aff 141px,#105aff 142px,#1f59ff 144px,#2f58ff 148px,#4456ff 156px,#6052ff 172px,#8448ff 202px,#ab35ff 245px,#be24ff 270px,#c616ff 282px,#c90dff 286px,#ca09ff 287px,#cb00ff 288px,#fa00ff 360px,#f0f 373px,#ff00fe 471px,#ff00eb 566px,#ff00de 607px)"></i>
<i style="top:1212px;left:513px;width:600px;background:linear-gradient(90deg,#00a0ff 0,#008dff 50px,#006cff 116px,#0059ff 139px,#1159ff 140px,#1f58ff 142px,#3357ff 147px,#4a54ff 157px,#674fff 175px,#8e42ff 210px,#ae30ff 248px,#c01dff 271px,#c510ff 279px,#c709ff 281px,#c800ff 282px,#f600ff 352px,#f0f 371px,#ff00fe 475px,#ff00ea 570px,#ff00e0 600px)"></i>
<i style="top:1214px;left:514px;width:593px;background:linear-gradient(90deg,#009fff 0,#008bff 51px,#006cff 112px,#0058ff 137px,#1157ff 138px,#1a57ff 139px,#3056ff 144px,#4653ff 153px,#614eff 169px,#7f46ff 194px,#a435ff 233px,#b823ff 259px,#c114ff 271px,#c409ff 275px,#c400ff 276px,#eb00ff 332px,#f0f 368px,#ff00fe 479px,#ff00ea 570px,#ff00e2 593px)"></i>
<i style="top:1216px;left:515px;width:586px;background:linear-gradient(90deg,#009eff 0,#0089ff 52px,#007aff 82px,#0069ff 113px,#0057ff 134px,#0056ff 135px,#1256ff 136px,#2055ff 138px,#3354ff 143px,#4a51ff 153px,#654cff 170px,#8343ff 196px,#a730ff 235px,#b81fff 257px,#bf10ff 267px,#c109ff 269px,#c100ff 270px,#e900ff 327px,#f0f 367px,#ff00fe 479px,#ff00e8 577px,#ff00e5 586px)"></i>
<i style="top:1218px;left:516px;width:579px;background:linear-gradient(90deg,#009dff 0,#0085ff 56px,#006cff 105px,#0058ff 130px,#05f 133px,#1255ff 134px,#2054ff 136px,#3353ff 141px,#4a50ff 151px,#654bff 168px,#8540ff 196px,#a72dff 234px,#b51eff 252px,#bc10ff 261px,#bd09ff 263px,#be00ff 264px,#e800ff 324px,#f0f 366px,#ff00fe 478px,#ff00e9 574px,#ff00e7 579px)"></i>
<i style="top:1220px;left:517px;width:572px;background:linear-gradient(90deg,#009bff 0,#008aff 43px,#006aff 105px,#0054ff 131px,#1353ff 132px,#2053ff 134px,#3052ff 138px,#464fff 147px,#614aff 163px,#833fff 192px,#a42dff 228px,#b21eff 246px,#b910ff 255px,#ba09ff 257px,#b0f 258px,#e200ff 313px,#f0f 364px,#ff00fe 478px,#ff00e9 572px)"></i>
<i style="top:1222px;left:518px;width:565px;background:linear-gradient(90deg,#009aff 0,#08f 43px,#006cff 98px,#0057ff 125px,#0052ff 129px,#1352ff 130px,#2051ff 132px,#3050ff 136px,#464eff 145px,#6148ff 161px,#833dff 190px,#a12cff 223px,#af1eff 240px,#b510ff 249px,#b709ff 251px,#b800ff 252px,#e100ff 310px,#f0f 363px,#ff00fe 477px,#ff00eb 565px)"></i>
<i style="top:1224px;left:519px;width:558px;background:linear-gradient(90deg,#09f 0,#0085ff 46px,#0069ff 100px,#0053ff 125px,#0251ff 127px,#1451ff 128px,#2150ff 130px,#364eff 136px,#4e4bff 147px,#6e43ff 169px,#9234ff 204px,#aa1fff 233px,#b210ff 243px,#b409ff 245px,#b400ff 246px,#d800ff 294px,#f0f 361px,#ff00fe 477px,#ff00ed 558px)"></i>
<i style="top:1226px;left:520px;width:551px;background:linear-gradient(90deg,#0098ff 0,#007cff 61px,#0067ff 99px,#0051ff 124px,#0650ff 125px,#144fff 126px,#214fff 128px,#364dff 134px,#4e49ff 145px,#6e42ff 167px,#9530ff 205px,#a620ff 226px,#af10ff 237px,#b009ff 239px,#b100ff 240px,#d700ff 291px,#f0f 359px,#ff00fe 476px,#ff00ef 551px)"></i>
<i style="top:1228px;left:521px;width:544px;background:linear-gradient(90deg,#0096ff 0,#0083ff 43px,#0068ff 94px,#0052ff 120px,#004fff 122px,#074eff 123px,#154eff 124px,#264dff 127px,#3e4bff 135px,#5b45ff 151px,#7b3bff 177px,#9a28ff 210px,#a817ff 227px,#ac0dff 232px,#ad09ff 233px,#ae00ff 234px,#d700ff 289px,#f0f 358px,#ff00fe 476px,#ff00f0 544px)"></i>
<i style="top:1230px;left:523px;width:536px;background:linear-gradient(90deg,#0095ff 0,#0068ff 90px,#0054ff 114px,#004eff 119px,#154dff 121px,#264cff 124px,#3e49ff 132px,#5b44ff 148px,#7b39ff 174px,#9a25ff 207px,#a714ff 222px,#aa09ff 226px,#ab00ff 227px,#d400ff 282px,#f0f 355px,#ff00fe 474px,#ff00f2 536px)"></i>
<i style="top:1232px;left:524px;width:529px;background:linear-gradient(90deg,#0093ff 0,#0071ff 71px,#005cff 102px,#004cff 117px,#164bff 119px,#264aff 122px,#3e48ff 130px,#5b42ff 146px,#7c36ff 173px,#9725ff 201px,#a314ff 216px,#a609ff 220px,#a701ff 221px,#c900ff 264px,#f400ff 333px,#f0f 357px,#ff00fe 474px,#ff00f3 529px)"></i>
<i style="top:1234px;left:525px;width:522px;background:linear-gradient(90deg,#0092ff 0,#0069ff 81px,#05f 106px,#004bff 115px,#164aff 117px,#2249ff 119px,#3347ff 124px,#4645ff 132px,#5f3fff 147px,#7f32ff 174px,#9523ff 197px,#a014ff 210px,#a30aff 214px,#a402ff 215px,#a800ff 220px,#cd00ff 268px,#f800ff 339px,#f0f 355px,#ff00fe 473px,#ff00f4 522px)"></i>
<i style="top:1236px;left:526px;width:515px;background:linear-gradient(90deg,#0090ff 0,#0069ff 78px,#0051ff 107px,#0049ff 113px,#1648ff 115px,#2247ff 117px,#3446ff 122px,#4e41ff 134px,#6c39ff 155px,#8c28ff 185px,#9b17ff 202px,#9f0dff 207px,#a00aff 208px,#a002ff 209px,#a500ff 214px,#cd00ff 266px,#fb00ff 343px,#f0f 356px,#ff00fe 473px,#ff00f5 515px)"></i>
<i style="top:1238px;left:527px;width:508px;background:linear-gradient(90deg,#008fff 0,#0068ff 76px,#0053ff 102px,#0048ff 111px,#1747ff 113px,#2a45ff 117px,#3e43ff 124px,#563eff 137px,#7433ff 160px,#8e22ff 186px,#9914ff 198px,#9c0aff 202px,#9d03ff 203px,#9f00ff 205px,#c800ff 257px,#f500ff 331px,#f0f 353px,#ff00fe 472px,#ff00f6 508px)"></i>
<i style="top:1240px;left:528px;width:501px;background:linear-gradient(90deg,#008dff 0,#06f 76px,#0050ff 101px,#0046ff 109px,#0e45ff 110px,#1d45ff 112px,#2e43ff 116px,#4440ff 125px,#5f39ff 141px,#8229ff 171px,#9219ff 188px,#9710ff 194px,#980aff 196px,#9903ff 197px,#9b00ff 199px,#b0f 237px,#e700ff 304px,#f0f 351px,#ff00fe 472px,#ff00f8 501px)"></i>
<i style="top:1242px;left:529px;width:494px;background:linear-gradient(90deg,#008cff 0,#0065ff 74px,#004eff 100px,#0045ff 107px,#0e44ff 108px,#1844ff 109px,#2742ff 112px,#3940ff 118px,#533bff 131px,#742fff 156px,#8c1cff 180px,#9310ff 188px,#950aff 190px,#9603ff 191px,#9800ff 193px,#be00ff 239px,#e900ff 306px,#f0f 350px,#ff00fe 471px,#ff00f9 494px)"></i>
<i style="top:1244px;left:531px;width:486px;background:linear-gradient(90deg,#008aff 0,#0065ff 69px,#004fff 95px,#0043ff 104px,#0f42ff 105px,#1e42ff 107px,#2e40ff 111px,#423dff 119px,#5937ff 132px,#7829ff 157px,#891bff 174px,#8f10ff 181px,#910aff 183px,#9300ff 185px,#b500ff 224px,#e300ff 293px,#f0f 347px,#ff00fe 469px,#ff00fa 486px)"></i>
<i style="top:1246px;left:532px;width:479px;background:linear-gradient(90deg,#08f 0,#0065ff 66px,#0051ff 90px,#0041ff 102px,#1041ff 103px,#1e40ff 105px,#2e3eff 109px,#423bff 117px,#5935ff 130px,#7926ff 156px,#8817ff 171px,#8d0dff 176px,#8f00ff 179px,#ae00ff 213px,#d900ff 275px,#f0f 345px,#ff00fe 469px,#ff00fc 479px)"></i>
<i style="top:1248px;left:533px;width:472px;background:linear-gradient(90deg,#0087ff 0,#0063ff 65px,#004fff 88px,#0040ff 100px,#103fff 101px,#193fff 102px,#2b3dff 106px,#403aff 114px,#5933ff 128px,#7724ff 152px,#8417ff 165px,#890dff 170px,#8c00ff 173px,#af00ff 212px,#d500ff 267px,#f0f 343px,#ff00fe 468px,#ff00fd 472px)"></i>
<i style="top:1250px;left:534px;width:466px;background:linear-gradient(90deg,#0085ff 0,#0063ff 62px,#004dff 87px,#003eff 98px,#113dff 99px,#1f3cff 101px,#343aff 107px,#4e34ff 119px,#6b28ff 140px,#7c1cff 155px,#8410ff 163px,#860aff 165px,#80f 167px,#ab00ff 205px,#d500ff 265px,#f0f 342px,#ff00fe 466px)"></i>
<i style="top:1252px;left:535px;width:459px;background:linear-gradient(90deg,#0083ff 0,#0062ff 60px,#004dff 84px,#003cff 96px,#113cff 97px,#1f3bff 99px,#2e39ff 103px,#4235ff 111px,#5d2dff 127px,#781cff 149px,#8010ff 157px,#820aff 159px,#8400ff 161px,#a700ff 198px,#d000ff 255px,#fb00ff 332px,#f0f 345px,#f0f 459px)"></i>
<i style="top:1254px;left:537px;width:451px;background:linear-gradient(90deg,#0081ff 0,#0061ff 57px,#004fff 78px,#003aff 93px,#123aff 94px,#1f39ff 96px,#2f37ff 100px,#4632ff 110px,#6029ff 126px,#741aff 143px,#7c10ff 150px,#7f05ff 153px,#8000ff 154px,#a800ff 196px,#cf00ff 251px,#f0f 337px,#f0f 451px)"></i>
<i style="top:1256px;left:538px;width:444px;background:linear-gradient(90deg,#007fff 0,#0060ff 55px,#0049ff 80px,#0038ff 91px,#1238ff 92px,#1f37ff 94px,#3235ff 99px,#4c2eff 111px,#6920ff 131px,#7612ff 143px,#790aff 146px,#7c00ff 148px,#a400ff 189px,#cf00ff 249px,#fa00ff 326px,#f0f 340px,#f0f 444px)"></i>
<i style="top:1258px;left:539px;width:437px;background:linear-gradient(90deg,#007dff 0,#0063ff 47px,#0050ff 70px,#003cff 86px,#0036ff 89px,#1336ff 90px,#2035ff 92px,#3233ff 97px,#4c2cff 109px,#671dff 128px,#7310ff 138px,#7605ff 141px,#70f 142px,#9800ff 173px,#bd00ff 220px,#ea00ff 294px,#f0f 338px,#f0f 437px)"></i>
<i style="top:1260px;left:541px;width:429px;background:linear-gradient(90deg,#007bff 0,#0060ff 47px,#004bff 71px,#0036ff 85px,#0334ff 86px,#1334ff 87px,#2033ff 89px,#3530ff 95px,#5127ff 109px,#6818ff 126px,#6f0dff 132px,#7300ff 135px,#9a00ff 172px,#c100ff 223px,#e700ff 286px,#f0f 335px,#f0f 429px)"></i>
<i style="top:1262px;left:542px;width:422px;background:linear-gradient(90deg,#0079ff 0,#005fff 45px,#004dff 66px,#0038ff 81px,#0034ff 83px,#0632ff 84px,#1432ff 85px,#2031ff 87px,#352dff 93px,#5124ff 107px,#6615ff 122px,#6c0aff 127px,#6e00ff 129px,#8e00ff 157px,#b600ff 205px,#de00ff 268px,#f0f 334px,#f0f 422px)"></i>
<i style="top:1264px;left:543px;width:415px;background:linear-gradient(90deg,#07f 0,#005fff 42px,#004cff 63px,#003aff 77px,#0032ff 81px,#0730ff 82px,#1430ff 83px,#252eff 86px,#3a2aff 93px,#541fff 107px,#6312ff 118px,#670aff 121px,#6a00ff 123px,#8c00ff 153px,#ad00ff 191px,#d700ff 254px,#f0f 332px,#f0f 415px)"></i>
<i style="top:1266px;left:544px;width:408px;background:linear-gradient(90deg,#0075ff 0,#005eff 40px,#0048ff 64px,#0032ff 78px,#0030ff 79px,#152dff 81px,#252bff 84px,#3a27ff 91px,#541bff 105px,#5f10ff 113px,#6305ff 116px,#6500ff 117px,#8400ff 143px,#a700ff 181px,#cd00ff 236px,#fc00ff 322px,#f0f 337px,#f0f 408px)"></i>
<i style="top:1268px;left:546px;width:400px;background:linear-gradient(90deg,#0072ff 0,#0060ff 33px,#004aff 58px,#0036ff 72px,#002dff 76px,#152bff 78px,#212aff 80px,#3526ff 86px,#5119ff 100px,#5b0dff 107px,#5e06ff 109px,#5f00ff 110px,#7c00ff 132px,#9f00ff 168px,#ca00ff 228px,#f900ff 314px,#f0f 330px,#f0f 400px)"></i>
<i style="top:1270px;left:547px;width:393px;background:linear-gradient(90deg,#0071ff 0,#005cff 35px,#0047ff 57px,#0032ff 71px,#002bff 74px,#1628ff 76px,#2925ff 80px,#3e1fff 88px,#5212ff 99px,#5806ff 103px,#5a00ff 104px,#7900ff 127px,#a000ff 167px,#c900ff 225px,#f200ff 298px,#f0f 328px,#f0f 393px)"></i>
<i style="top:1272px;left:549px;width:385px;background:linear-gradient(90deg,#006fff 0,#0058ff 36px,#0045ff 55px,#0032ff 67px,#0028ff 71px,#1625ff 73px,#2922ff 77px,#3e1bff 85px,#4d10ff 93px,#5206ff 96px,#5400ff 97px,#7400ff 119px,#9b00ff 158px,#c400ff 214px,#f000ff 292px,#f0f 326px,#f0f 385px)"></i>
<i style="top:1274px;left:550px;width:378px;background:linear-gradient(90deg,#006dff 0,#0056ff 35px,#0042ff 54px,#002dff 66px,#0025ff 69px,#0d23ff 70px,#1c21ff 72px,#291fff 75px,#3c17ff 82px,#4610ff 87px,#4c06ff 90px,#4d00ff 91px,#6500ff 105px,#8900ff 136px,#ae00ff 180px,#d800ff 245px,#f0f 323px,#f0f 378px)"></i>
<i style="top:1276px;left:551px;width:371px;background:linear-gradient(90deg,#006bff 0,#0056ff 32px,#003fff 53px,#002bff 64px,#02f 67px,#171fff 69px,#261cff 72px,#3a13ff 79px,#420aff 83px,#4600ff 85px,#5b00ff 96px,#7800ff 118px,#9800ff 150px,#be00ff 201px,#e300ff 264px,#f0f 323px,#f0f 371px)"></i>
<i style="top:1278px;left:553px;width:363px;background:linear-gradient(90deg,#0069ff 0,#0053ff 31px,#003fff 49px,#002dff 59px,#001eff 64px,#0e1cff 65px,#1d1aff 67px,#3013ff 72px,#3a0bff 76px,#3f00ff 78px,#5c00ff 93px,#7b00ff 117px,#9e00ff 154px,#c500ff 209px,#ef00ff 285px,#f0f 321px,#f0f 363px)"></i>
<i style="top:1280px;left:554px;width:356px;background:linear-gradient(90deg,#0067ff 0,#0051ff 30px,#003cff 48px,#0028ff 58px,#001aff 62px,#0f17ff 63px,#1d15ff 65px,#2d0dff 69px,#3306ff 71px,#3500ff 72px,#4900ff 80px,#6400ff 96px,#8600ff 125px,#a900ff 166px,#d400ff 232px,#f0f 318px,#f0f 356px)"></i>
<i style="top:1282px;left:556px;width:348px;background:linear-gradient(90deg,#0064ff 0,#004fff 28px,#003aff 45px,#0028ff 54px,#001aff 58px,#0015ff 59px,#0f11ff 60px,#1810ff 61px,#220bff 63px,#2a00ff 65px,#4200ff 73px,#5f00ff 89px,#7f00ff 115px,#a400ff 156px,#ce00ff 219px,#fa00ff 304px,#f0f 318px,#f0f 348px)"></i>
<i style="top:1284px;left:557px;width:341px;background:linear-gradient(90deg,#0062ff 0,#004dff 27px,#0038ff 43px,#0028ff 51px,#001aff 55px,#000dff 57px,#1006ff 58px,#1900ff 59px,#2900ff 62px,#4100ff 70px,#5b00ff 84px,#7900ff 107px,#9d00ff 145px,#c500ff 202px,#ef00ff 279px,#f0f 316px,#f0f 341px)"></i>
<i style="top:1286px;left:559px;width:333px;background:linear-gradient(90deg,#005fff 0,#004cff 23px,#003aff 38px,#0028ff 47px,#001aff 51px,#000eff 53px,#0900ff 54px,#1600ff 55px,#2300ff 57px,#3800ff 63px,#5400ff 76px,#7100ff 97px,#8d00ff 124px,#af00ff 166px,#d800ff 232px,#f0f 312px,#f0f 333px)"></i>
<i style="top:1288px;left:560px;width:326px;background:linear-gradient(90deg,#005dff 0,#0047ff 25px,#002fff 41px,#001eff 47px,#0015ff 49px,#000eff 50px,#00f 51px,#1300ff 52px,#2100ff 54px,#3100ff 58px,#4a00ff 68px,#6500ff 85px,#8200ff 110px,#a500ff 150px,#d000ff 216px,#f0f 310px,#f0f 326px)"></i>
<i style="top:1290px;left:562px;width:318px;background:linear-gradient(90deg,#005aff 0,#0042ff 25px,#0030ff 36px,#02f 42px,#0015ff 45px,#000eff 46px,#00f 47px,#0f00ff 48px,#1900ff 49px,#2c00ff 53px,#4000ff 60px,#5900ff 73px,#7800ff 97px,#9b00ff 134px,#c300ff 191px,#f000ff 275px,#f0f 310px,#f0f 318px)"></i>
<i style="top:1292px;left:563px;width:311px;background:linear-gradient(90deg,#0057ff 0,#04f 20px,#0032ff 32px,#02f 39px,#0015ff 42px,#000eff 43px,#00f 44px,#1600ff 46px,#2700ff 49px,#3d00ff 56px,#50f 68px,#7400ff 91px,#9200ff 121px,#b800ff 172px,#e100ff 243px,#f0f 308px,#f0f 311px)"></i>
<i style="top:1294px;left:565px;width:303px;background:linear-gradient(90deg,#0054ff 0,#003fff 20px,#002aff 32px,#001aff 37px,#000eff 39px,#00f 40px,#00f 41px,#1300ff 42px,#2100ff 44px,#3400ff 49px,#4b00ff 59px,#6300ff 74px,#8000ff 99px,#a300ff 139px,#ce00ff 205px,#fe00ff 301px,#fe00ff 303px)"></i>
<i style="top:1296px;left:567px;width:295px;background:linear-gradient(90deg,#0050ff 0,#003cff 18px,#002aff 28px,#001aff 33px,#000eff 35px,#00f 36px,#00f 37px,#0f00ff 38px,#1900ff 39px,#2c00ff 43px,#4000ff 50px,#5a00ff 64px,#7800ff 88px,#90f 123px,#c100ff 180px,#f100ff 270px,#fc00ff 295px)"></i>
<i style="top:1298px;left:568px;width:288px;background:linear-gradient(90deg,#004dff 0,#003cff 15px,#002aff 25px,#001aff 30px,#000eff 32px,#00f 33px,#00f 34px,#1600ff 36px,#2700ff 39px,#3f00ff 47px,#5900ff 61px,#7800ff 85px,#9e00ff 127px,#c800ff 190px,#f600ff 280px,#f900ff 288px)"></i>
<i style="top:1300px;left:570px;width:280px;background:linear-gradient(90deg,#0049ff 0,#0034ff 16px,#0021ff 24px,#0015ff 27px,#000eff 28px,#00f 29px,#00f 31px,#1300ff 32px,#2100ff 34px,#3600ff 40px,#4b00ff 49px,#6900ff 69px,#8c00ff 102px,#b000ff 149px,#d800ff 216px,#f700ff 280px)"></i>
<i style="top:1302px;left:572px;width:273px;background:linear-gradient(90deg,#04f 0,#0032ff 13px,#001eff 21px,#0015ff 23px,#000eff 24px,#00f 25px,#00f 27px,#0f00ff 28px,#1900ff 29px,#2c00ff 33px,#4200ff 41px,#5e00ff 57px,#8000ff 86px,#a500ff 130px,#c0f 191px,#f500ff 273px)"></i>
<i style="top:1304px;left:573px;width:266px;background:linear-gradient(90deg,#0041ff 0,#002cff 13px,#001aff 19px,#000eff 21px,#00f 22px,#00f 24px,#1600ff 26px,#2700ff 29px,#3c00ff 36px,#5400ff 48px,#7100ff 70px,#9000ff 101px,#b600ff 153px,#e100ff 229px,#f200ff 266px)"></i>
<i style="top:1306px;left:575px;width:258px;background:linear-gradient(90deg,#003bff 0,#002cff 9px,#001aff 15px,#000eff 17px,#00f 18px,#00f 21px,#1300ff 22px,#2000ff 24px,#3000ff 28px,#40f 36px,#5b00ff 49px,#7900ff 74px,#9600ff 105px,#bd00ff 161px,#e700ff 239px,#f000ff 258px)"></i>
<i style="top:1308px;left:577px;width:250px;background:linear-gradient(90deg,#0035ff 0,#0024ff 8px,#0015ff 12px,#000eff 13px,#00f 14px,#00f 17px,#0f00ff 18px,#1f00ff 20px,#2f00ff 24px,#4300ff 32px,#5a00ff 45px,#7900ff 70px,#9b00ff 108px,#c400ff 170px,#ed00ff 250px)"></i>
<i style="top:1310px;left:579px;width:242px;background:linear-gradient(90deg,#002dff 0,#001eff 6px,#000fff 9px,#00f 10px,#00f 13px,#1600ff 15px,#20f 17px,#3700ff 23px,#5000ff 35px,#6d00ff 56px,#8f00ff 90px,#b600ff 144px,#e300ff 225px,#eb00ff 242px)"></i>
<i style="top:1312px;left:581px;width:234px;background:linear-gradient(90deg,#0024ff 0,#0015ff 4px,#000fff 5px,#00f 6px,#00f 10px,#1300ff 11px,#2000ff 13px,#3000ff 17px,#4a00ff 28px,#6800ff 48px,#8a00ff 81px,#b100ff 133px,#d900ff 203px,#e800ff 234px)"></i>
<i style="top:1314px;left:583px;width:226px;background:linear-gradient(90deg,#0015ff 0,#000fff 1px,#00f 2px,#00f 6px,#1000ff 7px,#1f00ff 9px,#3200ff 14px,#4900ff 24px,#6700ff 44px,#8500ff 72px,#a900ff 118px,#cf00ff 181px,#e600ff 226px)"></i>
<i style="top:1316px;left:585px;width:218px;background:linear-gradient(90deg,#00f 0,#00f 2px,#1600ff 4px,#20f 6px,#3400ff 11px,#4e00ff 23px,#6b00ff 44px,#8e00ff 79px,#b300ff 130px,#dc00ff 203px,#e300ff 218px)"></i>
<i style="top:1318px;left:587px;width:210px;background:linear-gradient(90deg,#1300ff 0,#2000ff 2px,#30f 7px,#4f00ff 20px,#6e00ff 43px,#8f00ff 77px,#b100ff 124px,#d800ff 193px,#e000ff 210px)"></i>
<i style="top:1320px;left:589px;width:202px;background:linear-gradient(90deg,#2700ff 0,#3c00ff 7px,#5300ff 19px,#7200ff 43px,#9500ff 81px,#bd00ff 140px,#de00ff 202px)"></i>
<i style="top:1322px;left:591px;width:194px;background:linear-gradient(90deg,#30f 0,#4800ff 9px,#60f 29px,#80f 62px,#ae00ff 113px,#d700ff 185px,#db00ff 194px)"></i>
<i style="top:1324px;left:594px;width:185px;background:linear-gradient(90deg,#3f00ff 0,#5600ff 13px,#7400ff 37px,#9600ff 75px,#bf00ff 137px,#d800ff 185px)"></i>
<i style="top:1326px;left:596px;width:177px;background:linear-gradient(90deg,#4600ff 0,#5e00ff 15px,#7a00ff 40px,#9a00ff 77px,#c300ff 141px,#d600ff 177px)"></i>
<i style="top:1328px;left:599px;width:168px;background:linear-gradient(90deg,#4e00ff 0,#6a00ff 20px,#80f 50px,#ae00ff 102px,#d300ff 168px)"></i>
<i style="top:1330px;left:601px;width:160px;background:linear-gradient(90deg,#5400ff 0,#7000ff 22px,#9200ff 59px,#b900ff 117px,#d100ff 160px)"></i>
<i style="top:1332px;left:604px;width:151px;background:linear-gradient(90deg,#5b00ff 0,#7a00ff 27px,#a100ff 75px,#cb00ff 145px,#ce00ff 151px)"></i>
<i style="top:1334px;left:607px;width:142px;background:linear-gradient(90deg,#6100ff 0,#8000ff 29px,#a600ff 78px,#cb00ff 142px)"></i>
<i style="top:1336px;left:609px;width:134px;background:linear-gradient(90deg,#6500ff 0,#8900ff 36px,#ab00ff 83px,#c800ff 134px)"></i>
<i style="top:1338px;left:612px;width:125px;background:linear-gradient(90deg,#6a00ff 0,#8b00ff 34px,#b200ff 90px,#c600ff 125px)"></i>
<i style="top:1340px;left:615px;width:116px;background:linear-gradient(90deg,#6f00ff 0,#8c00ff 31px,#b100ff 84px,#c300ff 116px)"></i>
<i style="top:1342px;left:618px;width:107px;background:linear-gradient(90deg,#7400ff 0,#9700ff 41px,#bd00ff 101px,#c000ff 107px)"></i>
<i style="top:1344px;left:621px;width:98px;background:linear-gradient(90deg,#7800ff 0,#9800ff 38px,#bd00ff 97px,#bd00ff 98px)"></i>
<i style="top:1346px;left:625px;width:88px;background:linear-gradient(90deg,#7d00ff 0,#9d00ff 40px,#b0f 88px)"></i>
<i style="top:1348px;left:628px;width:79px;background:linear-gradient(90deg,#8100ff 0,#a500ff 48px,#b800ff 79px)"></i>
<i style="top:1350px;left:631px;width:70px;background:linear-gradient(90deg,#8500ff 0,#a700ff 47px,#b500ff 70px)"></i>
<i style="top:1352px;left:634px;width:62px;background:linear-gradient(90deg,#80f 0,#a800ff 44px,#b300ff 62px)"></i>
<i style="top:1354px;left:637px;width:53px;background:linear-gradient(90deg,#8c00ff 0,#b000ff 53px)"></i>
<i style="top:1356px;left:640px;width:44px;background:linear-gradient(90deg,#8f00ff 0,#ad00ff 44px)"></i>
<i style="top:1358px;left:643px;width:35px;background:linear-gradient(90deg,#9200ff 0,#a0f 35px)"></i>
<i style="top:1360px;left:647px;width:25px;background:linear-gradient(90deg,#9600ff 0,#a700ff 25px)"></i>
<i style="top:1362px;left:650px;width:16px;background:linear-gradient(90deg,#90f 0,#a400ff 16px)"></i>
</div>
<svg width="1911" height="1562" viewBox="0 0 1911 1562">
<path d="M659.8 1362.6L659.8 1362.6L659.8 1362.6L659.8 1362.6L659.7 1362.6L659.6 1362.6L659.6 1362.7L659.5 1362.7L659.4 1362.7L659.3 1362.7L659.3 1362.8L659.2 1362.8L659.1 1362.8L659.1 1362.8L659.0 1362.8L658.9 1362.8L658.8 1362.8L658.7 1362.8L658.6 1362.8L658.4 1362.9L658.3 1362.9L658.2 1362.9L658.1 1362.9L658.0 1362.9L657.9 1362.9L657.7 1362.9L657.6 1362.9L657.5 1362.9L657.3 1362.9L657.2 1362.9L657.0 1362.9L656.8 1362.9L656.6 1362.9L656.4 1362.9L656.2 1362.9L656.0 1362.9L655.8 1362.9L655.6 1362.8L655.3 1362.7L655.0 1362.6L654.7 1362.5L654.3 1362.3L653.9 1362.2L653.5 1362.0L653.1 1361.8L652.6 1361.5L652.1 1361.3L651.6 1361.0L651.1 1360.7L650.6 1360.4L649.9 1360.0L649.3 1359.6L648.6 1359.2L647.8 1358.7L647.0 1358.2L646.1 1357.7L645.3 1357.1L644.4 1356.5L643.4 1355.9L642.4 1355.2L641.4 1354.5L640.3 1353.8L639.1 1353.1L637.9 1352.3L636.5 1351.4L635.1 1350.5L633.6 1349.6L632.0 1348.6L630.2 1347.5L628.4 1346.3L626.6 1345.2L624.6 1344.0L622.6 1342.7L620.5 1341.3L618.2 1339.9L615.9 1338.3L613.4 1336.6L610.9 1334.8L608.2 1332.9L605.4 1330.8L602.6 1328.7L599.7 1326.4L596.6 1323.9L593.4 1321.2L590.0 1318.1L586.4 1314.7L582.6 1310.7L578.5 1306.4L574.1 1301.5L569.5 1296.0L564.7 1290.1L559.7 1283.5L554.4 1276.3L548.9 1268.5L543.2 1259.8L537.2 1250.2L530.9 1239.7L524.3 1228.2L517.3 1215.6L510.0 1201.9L502.4 1187.1L494.3 1171.1L485.8 1153.8L477.1 1135.1L468.3 1115.1L459.4 1093.7L450.5 1070.7L441.6 1046.2L432.7 1020.3L423.9 992.9L415.1 964.1L406.3 933.8L397.6 902.3L389.2 869.7L381.1 836.3L373.4 802.3L366.3 767.8L359.7 733.1L353.8 698.3L348.7 663.7L344.3 629.5L340.8 595.9L338.1 563.0L336.4 530.9L335.7 499.7L336.1 469.5L337.6 440.5L340.2 412.7L344.0 386.3L349.0 361.5L355.1 338.4L362.5 317.2L371.1 298.1L380.7 281.0L391.2 266.1L402.7 253.5L415.0 243.3L427.9 235.3L441.5 229.5L455.6 225.6L470.0 223.5L484.8 223.1L499.8 224.2L515.0 226.5L530.4 229.8L545.9 234.0L561.4 238.7L577.0 244.0L592.4 249.7L607.8 255.7L622.9 261.9L637.9 268.2L652.5 274.8L667.0 281.4L681.4 288.3L695.6 295.3L709.7 302.4L723.7 309.8L737.7 317.3L751.5 325.0L765.4 332.8L779.2 340.8L793.0 348.9L806.8 357.1L820.5 365.5L834.3 374.0L847.9 382.6L861.6 391.3L875.2 400.1L888.8 409.0L902.3 418.0L915.9 427.0L929.5 436.2L943.1 445.4L956.6 454.6L970.2 463.9L983.9 473.3L997.5 482.7L1011.1 492.2L1024.7 501.7L1038.3 511.2L1051.9 520.7L1065.5 530.3L1079.0 539.9L1092.5 549.5L1106.0 559.2L1119.6 568.8L1133.1 578.4L1146.5 588.0L1160.0 597.6L1173.4 607.1L1186.7 616.7L1200.0 626.2L1213.2 635.7L1226.3 645.1L1239.4 654.5L1252.4 663.9L1265.3 673.2L1278.1 682.4L1290.8 691.6L1303.5 700.7L1316.0 709.8L1328.4 718.7L1340.7 727.6L1352.9 736.3L1364.9 745.0L1376.8 753.5L1388.5 761.9L1400.1 770.2L1411.5 778.4L1422.7 786.5L1433.8 794.4L1444.6 802.2L1455.1 809.9L1465.4 817.3L1475.4 824.6L1485.1 831.5L1494.5 838.3L1503.6 844.9L1512.6 851.3L1521.3 857.5L1529.8 863.7L1538.1 869.7L1546.2 875.5L1554.0 881.1L1561.6 886.5L1568.8 891.7L1575.8 896.7L1582.5 901.5L1588.9 906.0L1595.1 910.5L1601.0 914.7L1606.6 918.8L1612.1 922.7L1617.3 926.5L1622.3 930.1L1627.0 933.5L1631.5 936.8L1635.9 940.0L1640.0 942.9L1643.9 945.8L1647.7 948.5L1651.3 951.1L1654.8 953.5L1658.1 955.9L1661.2 958.1L1664.3 960.3L1667.1 962.4L1669.9 964.4L1672.6 966.3L1675.1 968.2L1677.6 970.0L1680.0 971.7L1682.3 973.4L1684.6 975.0L1686.7 976.6L1688.8 978.1L1690.8 979.5L1692.7 980.9L1694.5 982.2L1696.2 983.4L1697.9 984.6L1699.5 985.7L1701.0 986.8L1702.5 987.8L1703.8 988.8L1705.1 989.7L1706.3 990.6L1707.5 991.4L1708.5 992.2L1709.6 992.9L1710.5 993.6L1711.4 994.3L1712.3 994.9L1713.1 995.5L1713.9 996.1L1714.7 996.6L1715.4 997.1L1716.0 997.6L1716.6 998.0L1717.2 998.4L1717.6 998.8L1718.1 999.1L1718.5 999.4L1718.9 999.7L1719.3 999.9L1719.6 1000.2L1720.0 1000.4L1720.3 1000.7L1720.7 1000.9L1721.0 1001.2L1721.3 1001.4L1721.5 1001.6L1721.8 1001.8L1722.0 1001.9L1722.3 1002.1L1722.6 1002.3L1722.8 1002.5L1723.1 1002.7L1723.4 1002.9L1723.6 1003.1L1723.9 1003.3L1724.1 1003.4L1724.4 1003.6L1724.6 1003.8L1724.8 1003.9L1725.0 1004.0L1725.1 1004.2L1725.3 1004.3L1725.4 1004.4L1725.5 1004.5L1725.6 1004.5L1725.7 1004.6L1725.8 1004.7L1725.9 1004.7L1725.9 1004.7L1726.0 1004.8L1726.0 1004.8L1726.0 1004.8L1726.1 1004.8L1726.1 1004.9Z" fill="none" stroke="#00f" stroke-width="3.6" stroke-linejoin="round"/>
<text class="b" transform="translate(368.2 175.2) scale(1 1.035)">0.06521</text>
<text class="b" transform="translate(734.9 295.9) scale(1 1.035)">0.25794</text>
<text class="b" transform="translate(1014.9 479.3) scale(1 1.035)">0.40513</text>
<text class="b" transform="translate(1281.0 669.3) scale(1 1.035)">0.54496</text>
<text class="b" transform="translate(1499.1 825.9) scale(1 1.035)">0.65949</text>
<text class="b" transform="translate(1620.9 914.8) scale(1 1.035)">0.72398</text>
<text class="b" transform="translate(164.3 649.1) scale(1 1.035)">-0.03764</text>
<text class="b" transform="translate(335.8 1222.9) scale(1 1.035)">0.04819</text>
<text class="b" transform="translate(455.0 1356.0) scale(1 1.035)">0.11064</text>
<g stroke="#000" stroke-width="1.3">
<line x1="602.6" y1="1328.7" x2="573.8" y2="1347.4"/>
<line x1="502.4" y1="1187.1" x2="465.8" y2="1196.6"/>
<line x1="344.3" y1="629.5" x2="305.6" y2="631.8"/>
<line x1="470.0" y1="223.5" x2="462.8" y2="196.0"/>
<line x1="765.4" y1="332.8" x2="789.4" y2="310.7"/>
<line x1="1038.3" y1="511.2" x2="1065.4" y2="491.1"/>
<line x1="1303.5" y1="700.7" x2="1330.9" y2="680.9"/>
<line x1="1521.3" y1="857.5" x2="1548.6" y2="837.7"/>
<line x1="1643.9" y1="945.8" x2="1671.3" y2="925.9"/>
</g>
<g fill="#000">
<rect x="326.2" y="130.3" width="5" height="1241.8"/>
<rect x="326.2" y="1367.1" width="1526.6" height="5"/>
<rect x="302.9" y="1367.4" width="24.3" height="4.2"/>
<rect x="314.7" y="1230.0" width="12.5" height="4.2"/>
<rect x="302.9" y="1092.5" width="24.3" height="4.2"/>
<rect x="314.7" y="955.1" width="12.5" height="4.2"/>
<rect x="302.9" y="817.6" width="24.3" height="4.2"/>
<rect x="314.7" y="680.2" width="12.5" height="4.2"/>
<rect x="302.9" y="542.8" width="24.3" height="4.2"/>
<rect x="314.7" y="405.3" width="12.5" height="4.2"/>
<rect x="302.9" y="267.9" width="24.3" height="4.2"/>
<rect x="314.7" y="130.4" width="12.5" height="4.2"/>
<rect x="326.5" y="1371" width="4.4" height="24.4"/>
<rect x="421.6" y="1371" width="4.4" height="12.6"/>
<rect x="516.7" y="1371" width="4.4" height="24.4"/>
<rect x="611.8" y="1371" width="4.4" height="12.6"/>
<rect x="706.9" y="1371" width="4.4" height="24.4"/>
<rect x="802.0" y="1371" width="4.4" height="12.6"/>
<rect x="897.1" y="1371" width="4.4" height="24.4"/>
<rect x="992.2" y="1371" width="4.4" height="12.6"/>
<rect x="1087.3" y="1371" width="4.4" height="24.4"/>
<rect x="1182.4" y="1371" width="4.4" height="12.6"/>
<rect x="1277.5" y="1371" width="4.4" height="24.4"/>
<rect x="1372.6" y="1371" width="4.4" height="12.6"/>
<rect x="1467.7" y="1371" width="4.4" height="24.4"/>
<rect x="1562.8" y="1371" width="4.4" height="12.6"/>
<rect x="1657.9" y="1371" width="4.4" height="24.4"/>
<rect x="1753.0" y="1371" width="4.4" height="12.6"/>
<rect x="1848.1" y="1371" width="4.4" height="24.4"/>
</g>
<text class="a" text-anchor="end" transform="translate(288.8 1381.2) scale(1 1.035)">0.0</text>
<text class="a" text-anchor="end" transform="translate(288.8 1106.3) scale(1 1.035)">0.2</text>
<text class="a" text-anchor="end" transform="translate(288.8 831.4) scale(1 1.035)">0.4</text>
<text class="a" text-anchor="end" transform="translate(288.8 556.6) scale(1 1.035)">0.6</text>
<text class="a" text-anchor="end" transform="translate(288.8 281.7) scale(1 1.035)">0.8</text>
<text class="a" text-anchor="middle" transform="translate(328.4 1445.4) scale(1 1.035)">0.0</text>
<text class="a" text-anchor="middle" transform="translate(518.6 1445.4) scale(1 1.035)">0.1</text>
<text class="a" text-anchor="middle" transform="translate(708.8 1445.4) scale(1 1.035)">0.2</text>
<text class="a" text-anchor="middle" transform="translate(899.0 1445.4) scale(1 1.035)">0.3</text>
<text class="a" text-anchor="middle" transform="translate(1089.2 1445.4) scale(1 1.035)">0.4</text>
<text class="a" text-anchor="middle" transform="translate(1279.4 1445.4) scale(1 1.035)">0.5</text>
<text class="a" text-anchor="middle" transform="translate(1469.6 1445.4) scale(1 1.035)">0.6</text>
<text class="a" text-anchor="middle" transform="translate(1659.8 1445.4) scale(1 1.035)">0.7</text>
<text class="a" text-anchor="middle" transform="translate(1850.0 1445.4) scale(1 1.035)">0.8</text>
<text class="t" text-anchor="middle" x="1089" y="1537.9">x</text>
<text class="t" text-anchor="middle" transform="translate(183,789.1) rotate(-90)">y</text>
<text transform="translate(27 73) scale(1 1.035)" style="font-size:60px;font-weight:bold;font-style:italic">CIE 1931</text>
<circle cx="744.1" cy="1170.0" r="12.9"/>
<circle cx="792.0" cy="1153.7" r="12.9"/>
<circle cx="1014.5" cy="1103.0" r="12.9"/>
<text class="p" transform="translate(716.7 1140.8) scale(1 1.035)">1</text>
<text class="p" transform="translate(773.6 1110.8) scale(1 1.035)">2</text>
<text class="p" transform="translate(993.7 1063.4) scale(1 1.035)">3</text>
<text class="l" transform="translate(1447.4 1167.0) scale(1 1.035)">1 h/850 rpm</text>
<text class="l" transform="translate(1447.4 1238.0) scale(1 1.035)">5 h/850 rpm</text>
<text class="l" style="font-family:&quot;Liberation Sans&quot;,&quot;Noto Sans CJK SC&quot;,sans-serif" transform="translate(1447.4 1307.7) scale(1 1.035)">700℃-30 h</text>
</svg></body></html>
